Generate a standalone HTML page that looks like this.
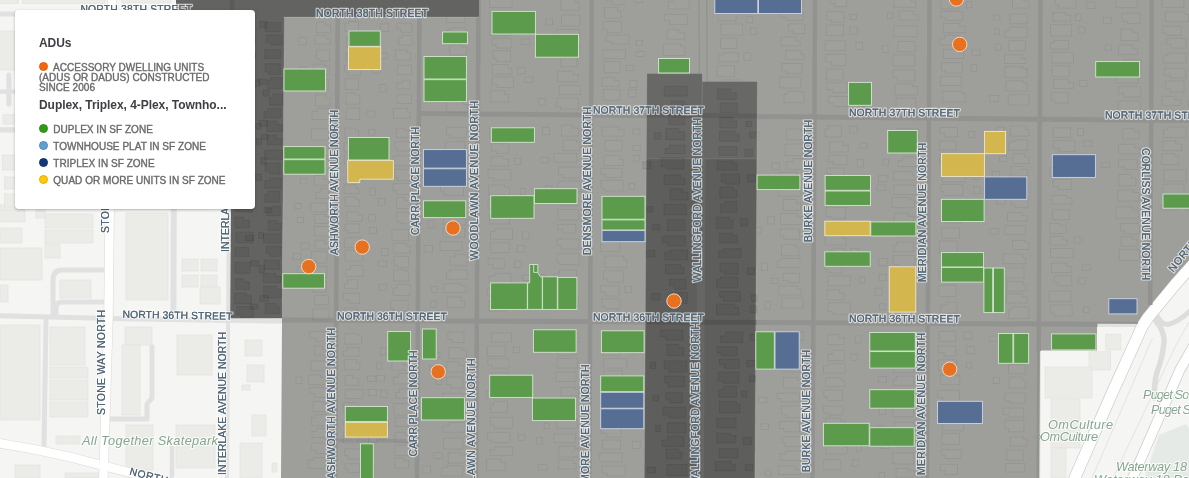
<!DOCTYPE html>
<html><head><meta charset="utf-8"><title>Map</title>
<style>
html,body{margin:0;padding:0;width:1189px;height:478px;overflow:hidden;background:#f5f5f3;font-family:"Liberation Sans",sans-serif;}
#map{position:absolute;left:0;top:0;width:1189px;height:478px;display:block}
#legend{position:absolute;left:15px;top:10px;width:239.5px;height:198.5px;background:#fff;border-radius:4px;box-shadow:0 1px 3px rgba(0,0,0,0.28);}
#legend .t{position:absolute;left:24px;font-size:12px;font-weight:bold;color:#3d3f45;white-space:nowrap;letter-spacing:-0.05px}
#legend .dot{position:absolute;width:9px;height:9px;border-radius:50%;left:24px;box-sizing:border-box}
#legend .l{position:absolute;left:38.3px;font-size:10px;font-weight:normal;line-height:10px;color:#6a6a6a;white-space:nowrap;letter-spacing:0.04px;-webkit-text-stroke:0.38px #6a6a6a}
</style></head><body>
<svg id="map" width="1189" height="478" viewBox="0 0 1189 478">
<rect width="1189" height="478" fill="#f5f5f3"/>
<g id="left">
<rect x="0.0" y="205.0" width="24.0" height="13.0" fill="#ebebe8" stroke="#e2e2df" stroke-width="0.7" />
<rect x="0.0" y="228.0" width="22.0" height="15.0" fill="#ebebe8" stroke="#e2e2df" stroke-width="0.7" />
<rect x="36.0" y="210.0" width="9.0" height="8.0" fill="#ebebe8" stroke="#e2e2df" stroke-width="0.7" />
<rect x="45.0" y="214.0" width="48.0" height="14.0" fill="#ebebe8" stroke="#e2e2df" stroke-width="0.7" />
<rect x="45.0" y="230.0" width="48.0" height="13.0" fill="#ebebe8" stroke="#e2e2df" stroke-width="0.7" />
<rect x="45.0" y="244.0" width="15.0" height="14.0" fill="#ebebe8" stroke="#e2e2df" stroke-width="0.7" />
<rect x="0.0" y="248.0" width="42.0" height="32.0" fill="#ebebe8" stroke="#e2e2df" stroke-width="0.7" />
<rect x="0.0" y="285.0" width="8.0" height="17.0" fill="#ebebe8" stroke="#e2e2df" stroke-width="0.7" />
<rect x="60.0" y="280.0" width="31.0" height="18.0" fill="#ebebe8" stroke="#e2e2df" stroke-width="0.7" />
<rect x="126.0" y="213.0" width="42.0" height="87.0" fill="#ebebe8" stroke="#e2e2df" stroke-width="0.7" />
<rect x="182.0" y="259.0" width="16.0" height="12.0" fill="#ebebe8" stroke="#e2e2df" stroke-width="0.7" />
<rect x="201.0" y="259.0" width="16.0" height="12.0" fill="#ebebe8" stroke="#e2e2df" stroke-width="0.7" />
<rect x="182.0" y="275.0" width="16.0" height="12.0" fill="#ebebe8" stroke="#e2e2df" stroke-width="0.7" />
<rect x="201.0" y="275.0" width="16.0" height="12.0" fill="#ebebe8" stroke="#e2e2df" stroke-width="0.7" />
<rect x="200.0" y="287.0" width="20.0" height="17.0" fill="#ebebe8" stroke="#e2e2df" stroke-width="0.7" />
<rect x="0.0" y="325.0" width="40.0" height="95.0" fill="#ebebe8" stroke="#e2e2df" stroke-width="0.7" />
<rect x="50.0" y="327.0" width="35.0" height="38.0" fill="#ebebe8" stroke="#e2e2df" stroke-width="0.7" />
<rect x="50.0" y="367.0" width="38.0" height="11.0" fill="#ebebe8" stroke="#e2e2df" stroke-width="0.7" />
<rect x="50.0" y="380.0" width="38.0" height="20.0" fill="#ebebe8" stroke="#e2e2df" stroke-width="0.7" />
<rect x="50.0" y="402.0" width="38.0" height="15.0" fill="#ebebe8" stroke="#e2e2df" stroke-width="0.7" />
<rect x="125.0" y="327.0" width="27.0" height="18.0" fill="#ebebe8" stroke="#e2e2df" stroke-width="0.7" />
<rect x="122.0" y="345.0" width="18.0" height="70.0" fill="#ebebe8" stroke="#e2e2df" stroke-width="0.7" />
<rect x="177.0" y="335.0" width="35.0" height="40.0" fill="#ebebe8" stroke="#e2e2df" stroke-width="0.7" />
<rect x="245.0" y="340.0" width="17.0" height="16.0" fill="#ebebe8" stroke="#e2e2df" stroke-width="0.7" />
<rect x="247.0" y="365.0" width="17.0" height="17.0" fill="#ebebe8" stroke="#e2e2df" stroke-width="0.7" />
<rect x="242.0" y="385.0" width="8.0" height="5.0" fill="#ebebe8" stroke="#e2e2df" stroke-width="0.7" />
<rect x="252.0" y="415.0" width="14.0" height="21.0" fill="#ebebe8" stroke="#e2e2df" stroke-width="0.7" />
<rect x="240.0" y="443.0" width="22.0" height="35.0" fill="#ebebe8" stroke="#e2e2df" stroke-width="0.7" />
<rect x="272.0" y="463.0" width="5.0" height="9.0" fill="#ebebe8" stroke="#e2e2df" stroke-width="0.7" />
<rect x="126.0" y="425.0" width="27.0" height="45.0" fill="#ebebe8" stroke="#e2e2df" stroke-width="0.7" />
<rect x="176.0" y="425.0" width="39.0" height="43.0" fill="#ebebe8" stroke="#e2e2df" stroke-width="0.7" />
<rect x="56.0" y="436.0" width="24.0" height="8.0" fill="#ebebe8" stroke="#e2e2df" stroke-width="0.7" />
<rect x="15.0" y="465.0" width="25.0" height="13.0" fill="#ebebe8" stroke="#e2e2df" stroke-width="0.7" />
<rect x="65.0" y="473.0" width="35.0" height="5.0" fill="#ebebe8" stroke="#e2e2df" stroke-width="0.7" />
<rect x="-2.0" y="-2.0" width="20.5" height="5.5" fill="#ebebe8" stroke="#e2e2df" stroke-width="0.7" />
<rect x="22.7" y="-2.0" width="82.3" height="5.5" fill="#ebebe8" stroke="#e2e2df" stroke-width="0.7" />
<rect x="122.0" y="-2.0" width="49.0" height="5.0" fill="#ebebe8" stroke="#e2e2df" stroke-width="0.7" />
<rect x="-2.0" y="31.0" width="17.0" height="39.0" fill="#ebebe8" stroke="#e2e2df" stroke-width="0.7" />
<rect x="3.0" y="114.7" width="13.0" height="9.3" fill="#ebebe8" stroke="#e2e2df" stroke-width="0.7" />
<rect x="2.5" y="155.0" width="13.5" height="15.0" fill="#ebebe8" stroke="#e2e2df" stroke-width="0.7" />
<rect x="4.6" y="177.0" width="11.4" height="12.0" fill="#ebebe8" stroke="#e2e2df" stroke-width="0.7" />
<rect x="4.6" y="194.0" width="11.4" height="13.0" fill="#ebebe8" stroke="#e2e2df" stroke-width="0.7" />
<rect x="-2.0" y="210.0" width="27.0" height="12.0" fill="#ebebe8" stroke="#e2e2df" stroke-width="0.7" />
<g fill="none" stroke="#e1e1e1" stroke-width="5" stroke-linecap="round" stroke-linejoin="round">
<path d="M0,315.7 L121,318.8 L290,321.2"/>
<path d="M173.8,200 L173.4,312" stroke-width="6"/>
<path d="M229,200 L227,478" stroke-width="4"/>
<path d="M103,270 L62,270 Q53,270 53,280 L53,316"/>
<path d="M103,302 L62,302 Q56,302 56,308 L56,316"/>
<path d="M46,319 L44,447" />
<path d="M152,347 L152,398 L147,404 L147,419 L110,419" stroke-width="5"/>
<path d="M172,446.5 L172,480" stroke-width="4.5"/>
<path d="M-3,13.9 L176,13.9"/>
<path d="M8.9,75 L8.9,104" stroke-width="5.2"/>
<path d="M-3,91.7 L16,91.7" stroke-width="4.2"/>
<path d="M-3,129.9 L16,129.9" stroke-width="5.2"/>
</g>
<g fill="none" stroke="#dcdcda"><path d="M112.2,-2 L109.7,200 L108.5,316 L104,460 L103.3,480" stroke-width="9.7"/><path d="M-5,442.6 L35,449.5 L70,457 L130,472.7 L185,487" stroke-width="9.8"/></g>
<g fill="none" stroke="#ffffff" stroke-width="9">
<path d="M112.2,-2 L109.7,200 L108.5,316 L104,460 L103.3,480" stroke-width="8.5"/>
<path d="M-5,442.6 L35,449.5 L70,457 L130,472.7 L185,487" stroke-width="8.6"/>
</g>
</g>
<g id="right">
<rect x="1105.7" y="334.2" width="15.1" height="15.8" fill="#ebebe8" stroke="#e2e2df" stroke-width="0.7" />
<rect x="1089.0" y="351.8" width="21.7" height="18.2" fill="#ebebe8" stroke="#e2e2df" stroke-width="0.7" />
<rect x="1045.0" y="367.0" width="47.0" height="31.0" fill="#ebebe8" stroke="#e2e2df" stroke-width="0.7" />
<rect x="1051.0" y="399.0" width="29.0" height="49.0" fill="#ebebe8" stroke="#e2e2df" stroke-width="0.7" />
<rect x="1051.0" y="448.0" width="15.0" height="30.0" fill="#ebebe8" stroke="#e2e2df" stroke-width="0.7" />
<path d="M1159,435 L1186,424 L1189,428 L1189,478 L1144,478 Z" fill="#e6eae6"/>
<path d="M1090,324.3 L1140,324.6" stroke="#e1e1e1" stroke-width="5" fill="none"/>
<path d="M1038.8,345 L1038,478" stroke="#e1e1e1" stroke-width="4.5" fill="none"/>
<g fill="none" stroke="#dddddb" stroke-width="5" stroke-linecap="round" stroke-linejoin="round">
<path d="M1157,316 Q1162,325 1168,324.5 Q1178,322 1190,311"/>
<path d="M1156,321 Q1165,332 1164,343 Q1162,360 1157,372 Q1154,382 1154.5,398" stroke-width="5.5"/>
</g>
<g fill="none" stroke="#dededc" stroke-width="0.8">
<path d="M1152.5,338 L1092,478 M1189,322 L1176,345 L1113,478"/>
</g>
<g fill="none" stroke="#cfcfcd" stroke-linejoin="round"><path d="M1197,260 L1193.6,263.8 L1176.6,282.8 L1158.9,304.2 L1147.6,318 L1142.2,326.5 L1112.6,391.9 L1073.9,479.9" stroke-width="12.4"/><path d="M1197,340 L1179.8,370 L1132.4,478.5" stroke-width="10.8"/></g>
<g fill="none" stroke="#ffffff" stroke-linejoin="round"><path d="M1197,260 L1193.6,263.8 L1176.6,282.8 L1158.9,304.2 L1147.6,318 L1142.2,326.5 L1112.6,391.9 L1073.9,479.9" stroke-width="10.9"/><path d="M1197,340 L1179.8,370 L1132.4,478.5" stroke-width="9.3"/></g>
</g>
<path d="M284,17 L479,17 L479,0 L1189,0 L1189,260 L1172,279 L1154.3,300.4 L1143,314.2 L1137,323.5 L1097,323.5 L1097,350.5 L1040,350.5 L1039.3,478 L281,478 Z" fill="#9e9e9b"/>
<g stroke="#929290" stroke-width="4.5" fill="none">
<path d="M337.7,17 L335.3,478"/>
<path d="M419.4,17 L417.0,478"/>
<path d="M478.5,0 L476.0,478"/>
<path d="M591.8,0 L589.3,478"/>
<path d="M815.0,0 L812.5,478"/>
<path d="M929.5,0 L927.0,478"/>
<path d="M1040.5,0 L1038.7,351"/>
<path d="M1151.8,0 L1150.2,305"/>
<path d="M418,113.5 L1189,120.5" stroke-width="5"/>
<path d="M282,320 L1097.5,324.3" stroke-width="5"/>
<path d="M1097,322.6 L1138,322.8" stroke-width="1.8"/>
<path d="M1038.3,350 L1037.7,478" stroke-width="2.4"/>
<path d="M335.5,440.6 L417.2,441.1" stroke-width="3.5"/>
<path d="M699,0 L699.3,74 M706.8,0 L707.1,82" stroke-width="0.8" stroke="rgba(0,0,0,0.13)"/>
</g>
<g id="houses">
<path d="M316.7,22.3 h9.1 v2.7 h4.6 v7.7 h-13.8 Z" fill="rgba(255,255,255,0.012)" stroke="rgba(0,0,0,0.065)" stroke-width="0.8" stroke-linejoin="round"/>
<path d="M315.2,35.4 h10.9 v3.7 h4.3 v5.1 h-15.2 Z" fill="rgba(255,255,255,0.012)" stroke="rgba(0,0,0,0.065)" stroke-width="0.8" stroke-linejoin="round"/>
<rect x="299.0" y="37.4" width="7.2" height="7.4" fill="rgba(255,255,255,0.012)" stroke="rgba(0,0,0,0.065)" stroke-width="0.8"/>
<path d="M316.5,50.0 h13.2 v11.1 h-9.8 v-2.2 h-3.4 Z" fill="rgba(255,255,255,0.012)" stroke="rgba(0,0,0,0.065)" stroke-width="0.8" stroke-linejoin="round"/>
<path d="M313.5,64.2 h11.3 v2.1 h4.6 v8.3 h-15.9 Z" fill="rgba(255,255,255,0.012)" stroke="rgba(0,0,0,0.065)" stroke-width="0.8" stroke-linejoin="round"/>
<rect x="298.9" y="67.1" width="7.4" height="6.1" fill="rgba(255,255,255,0.012)" stroke="rgba(0,0,0,0.065)" stroke-width="0.8"/>
<path d="M313.8,78.7 h14.5 v10.9 h-10.8 v-3.1 h-3.7 Z" fill="rgba(255,255,255,0.012)" stroke="rgba(0,0,0,0.065)" stroke-width="0.8" stroke-linejoin="round"/>
<path d="M315.5,94.7 h10.2 v3.5 h4.3 v7.9 h-14.4 Z" fill="rgba(255,255,255,0.012)" stroke="rgba(0,0,0,0.065)" stroke-width="0.8" stroke-linejoin="round"/>
<path d="M317.8,108.7 h10.7 v10.8 h-16.3 v-8.2 h5.6 Z" fill="rgba(255,255,255,0.012)" stroke="rgba(0,0,0,0.065)" stroke-width="0.8" stroke-linejoin="round"/>
<path d="M311.5,128.8 h17.2 v11.3 h-17.2 Z" fill="rgba(255,255,255,0.012)" stroke="rgba(0,0,0,0.065)" stroke-width="0.8" stroke-linejoin="round"/>
<path d="M311.8,146.1 h17.1 v9.4 h-12.1 v-2.0 h-5.0 Z" fill="rgba(255,255,255,0.012)" stroke="rgba(0,0,0,0.065)" stroke-width="0.8" stroke-linejoin="round"/>
<rect x="296.0" y="146.8" width="5.4" height="5.1" fill="rgba(255,255,255,0.012)" stroke="rgba(0,0,0,0.065)" stroke-width="0.8"/>
<path d="M314.8,158.9 h15.0 v11.1 h-15.0 Z" fill="rgba(255,255,255,0.012)" stroke="rgba(0,0,0,0.065)" stroke-width="0.8" stroke-linejoin="round"/>
<path d="M314.4,175.5 h8.7 v3.9 h5.7 v5.8 h-14.4 Z" fill="rgba(255,255,255,0.012)" stroke="rgba(0,0,0,0.065)" stroke-width="0.8" stroke-linejoin="round"/>
<rect x="300.2" y="178.4" width="5.8" height="5.6" fill="rgba(255,255,255,0.012)" stroke="rgba(0,0,0,0.065)" stroke-width="0.8"/>
<path d="M320.4,188.7 h8.3 v9.8 h-13.0 v-5.9 h4.7 Z" fill="rgba(255,255,255,0.012)" stroke="rgba(0,0,0,0.065)" stroke-width="0.8" stroke-linejoin="round"/>
<path d="M310.7,203.1 h16.4 v8.7 h-16.4 Z" fill="rgba(255,255,255,0.012)" stroke="rgba(0,0,0,0.065)" stroke-width="0.8" stroke-linejoin="round"/>
<rect x="294.8" y="203.4" width="6.4" height="5.3" fill="rgba(255,255,255,0.012)" stroke="rgba(0,0,0,0.065)" stroke-width="0.8"/>
<path d="M314.6,214.5 h10.9 v2.0 h3.2 v7.0 h-14.0 Z" fill="rgba(255,255,255,0.012)" stroke="rgba(0,0,0,0.065)" stroke-width="0.8" stroke-linejoin="round"/>
<rect x="297.2" y="217.5" width="6.3" height="5.1" fill="rgba(255,255,255,0.012)" stroke="rgba(0,0,0,0.065)" stroke-width="0.8"/>
<path d="M314.3,226.5 h14.3 v9.5 h-14.3 Z" fill="rgba(255,255,255,0.012)" stroke="rgba(0,0,0,0.065)" stroke-width="0.8" stroke-linejoin="round"/>
<path d="M315.1,240.2 h9.6 v3.7 h3.8 v5.1 h-13.4 Z" fill="rgba(255,255,255,0.012)" stroke="rgba(0,0,0,0.065)" stroke-width="0.8" stroke-linejoin="round"/>
<rect x="300.8" y="242.9" width="8.3" height="6.3" fill="rgba(255,255,255,0.012)" stroke="rgba(0,0,0,0.065)" stroke-width="0.8"/>
<path d="M311.3,251.6 h15.6 v11.4 h-10.6 v-2.5 h-5.1 Z" fill="rgba(255,255,255,0.012)" stroke="rgba(0,0,0,0.065)" stroke-width="0.8" stroke-linejoin="round"/>
<rect x="293.1" y="253.3" width="7.7" height="6.3" fill="rgba(255,255,255,0.012)" stroke="rgba(0,0,0,0.065)" stroke-width="0.8"/>
<path d="M309.8,266.3 h17.1 v11.5 h-17.1 Z" fill="rgba(255,255,255,0.012)" stroke="rgba(0,0,0,0.065)" stroke-width="0.8" stroke-linejoin="round"/>
<rect x="297.8" y="266.5" width="6.8" height="5.9" fill="rgba(255,255,255,0.012)" stroke="rgba(0,0,0,0.065)" stroke-width="0.8"/>
<path d="M312.2,281.3 h14.3 v10.6 h-14.3 Z" fill="rgba(255,255,255,0.012)" stroke="rgba(0,0,0,0.065)" stroke-width="0.8" stroke-linejoin="round"/>
<path d="M314.6,295.6 h14.1 v9.2 h-14.1 Z" fill="rgba(255,255,255,0.012)" stroke="rgba(0,0,0,0.065)" stroke-width="0.8" stroke-linejoin="round"/>
<path d="M312.7,309.0 h16.3 v10.9 h-16.3 Z" fill="rgba(255,255,255,0.012)" stroke="rgba(0,0,0,0.065)" stroke-width="0.8" stroke-linejoin="round"/>
<path d="M309.7,331.7 h16.9 v9.5 h-11.0 v-2.8 h-5.9 Z" fill="rgba(255,255,255,0.012)" stroke="rgba(0,0,0,0.065)" stroke-width="0.8" stroke-linejoin="round"/>
<path d="M314.7,346.2 h8.1 v3.6 h5.7 v5.3 h-13.9 Z" fill="rgba(255,255,255,0.012)" stroke="rgba(0,0,0,0.065)" stroke-width="0.8" stroke-linejoin="round"/>
<path d="M311.0,361.1 h16.3 v9.6 h-16.3 Z" fill="rgba(255,255,255,0.012)" stroke="rgba(0,0,0,0.065)" stroke-width="0.8" stroke-linejoin="round"/>
<path d="M308.6,375.0 h12.2 v2.4 h5.5 v7.4 h-17.7 Z" fill="rgba(255,255,255,0.012)" stroke="rgba(0,0,0,0.065)" stroke-width="0.8" stroke-linejoin="round"/>
<rect x="295.9" y="377.0" width="5.8" height="6.5" fill="rgba(255,255,255,0.012)" stroke="rgba(0,0,0,0.065)" stroke-width="0.8"/>
<path d="M309.9,387.7 h17.6 v9.6 h-12.8 v-3.8 h-4.8 Z" fill="rgba(255,255,255,0.012)" stroke="rgba(0,0,0,0.065)" stroke-width="0.8" stroke-linejoin="round"/>
<path d="M313.0,401.5 h11.3 v2.4 h4.3 v7.7 h-15.7 Z" fill="rgba(255,255,255,0.012)" stroke="rgba(0,0,0,0.065)" stroke-width="0.8" stroke-linejoin="round"/>
<path d="M315.6,414.7 h11.4 v10.7 h-15.4 v-7.6 h4.0 Z" fill="rgba(255,255,255,0.012)" stroke="rgba(0,0,0,0.065)" stroke-width="0.8" stroke-linejoin="round"/>
<path d="M317.3,428.3 h10.5 v9.2 h-15.8 v-6.2 h5.3 Z" fill="rgba(255,255,255,0.012)" stroke="rgba(0,0,0,0.065)" stroke-width="0.8" stroke-linejoin="round"/>
<path d="M311.8,443.2 h15.2 v10.3 h-10.7 v-3.4 h-4.5 Z" fill="rgba(255,255,255,0.012)" stroke="rgba(0,0,0,0.065)" stroke-width="0.8" stroke-linejoin="round"/>
<path d="M313.9,457.7 h11.9 v10.6 h-17.7 v-8.1 h5.8 Z" fill="rgba(255,255,255,0.012)" stroke="rgba(0,0,0,0.065)" stroke-width="0.8" stroke-linejoin="round"/>
<path d="M348.6,21.5 h9.9 v9.8 h-13.6 v-7.7 h3.7 Z" fill="rgba(255,255,255,0.012)" stroke="rgba(0,0,0,0.065)" stroke-width="0.8" stroke-linejoin="round"/>
<path d="M346.6,37.0 h13.8 v10.6 h-13.8 Z" fill="rgba(255,255,255,0.012)" stroke="rgba(0,0,0,0.065)" stroke-width="0.8" stroke-linejoin="round"/>
<rect x="368.8" y="42.0" width="8.3" height="6.0" fill="rgba(255,255,255,0.012)" stroke="rgba(0,0,0,0.065)" stroke-width="0.8"/>
<path d="M346.1,53.1 h13.8 v9.8 h-9.8 v-2.4 h-4.0 Z" fill="rgba(255,255,255,0.012)" stroke="rgba(0,0,0,0.065)" stroke-width="0.8" stroke-linejoin="round"/>
<path d="M344.5,65.4 h15.8 v9.8 h-11.8 v-3.2 h-4.0 Z" fill="rgba(255,255,255,0.012)" stroke="rgba(0,0,0,0.065)" stroke-width="0.8" stroke-linejoin="round"/>
<rect x="372.1" y="66.0" width="8.4" height="7.0" fill="rgba(255,255,255,0.012)" stroke="rgba(0,0,0,0.065)" stroke-width="0.8"/>
<path d="M345.2,78.7 h13.2 v10.8 h-13.2 Z" fill="rgba(255,255,255,0.012)" stroke="rgba(0,0,0,0.065)" stroke-width="0.8" stroke-linejoin="round"/>
<path d="M346.0,92.9 h8.6 v2.2 h5.1 v9.1 h-13.7 Z" fill="rgba(255,255,255,0.012)" stroke="rgba(0,0,0,0.065)" stroke-width="0.8" stroke-linejoin="round"/>
<path d="M346.2,108.2 h13.4 v11.3 h-13.4 Z" fill="rgba(255,255,255,0.012)" stroke="rgba(0,0,0,0.065)" stroke-width="0.8" stroke-linejoin="round"/>
<rect x="366.9" y="110.9" width="8.0" height="6.1" fill="rgba(255,255,255,0.012)" stroke="rgba(0,0,0,0.065)" stroke-width="0.8"/>
<path d="M344.9,128.1 h10.3 v2.3 h3.3 v7.8 h-13.6 Z" fill="rgba(255,255,255,0.012)" stroke="rgba(0,0,0,0.065)" stroke-width="0.8" stroke-linejoin="round"/>
<rect x="368.8" y="129.5" width="6.1" height="5.8" fill="rgba(255,255,255,0.012)" stroke="rgba(0,0,0,0.065)" stroke-width="0.8"/>
<path d="M344.1,142.4 h13.9 v9.5 h-13.9 Z" fill="rgba(255,255,255,0.012)" stroke="rgba(0,0,0,0.065)" stroke-width="0.8" stroke-linejoin="round"/>
<path d="M344.3,155.1 h15.4 v11.3 h-9.9 v-2.9 h-5.5 Z" fill="rgba(255,255,255,0.012)" stroke="rgba(0,0,0,0.065)" stroke-width="0.8" stroke-linejoin="round"/>
<path d="M346.9,170.3 h15.5 v10.6 h-15.5 Z" fill="rgba(255,255,255,0.012)" stroke="rgba(0,0,0,0.065)" stroke-width="0.8" stroke-linejoin="round"/>
<path d="M344.2,184.8 h11.5 v3.5 h3.2 v5.2 h-14.7 Z" fill="rgba(255,255,255,0.012)" stroke="rgba(0,0,0,0.065)" stroke-width="0.8" stroke-linejoin="round"/>
<rect x="370.1" y="188.1" width="5.3" height="7.1" fill="rgba(255,255,255,0.012)" stroke="rgba(0,0,0,0.065)" stroke-width="0.8"/>
<path d="M345.2,196.9 h10.7 v2.9 h3.5 v6.5 h-14.2 Z" fill="rgba(255,255,255,0.012)" stroke="rgba(0,0,0,0.065)" stroke-width="0.8" stroke-linejoin="round"/>
<path d="M346.6,212.2 h11.8 v2.7 h3.9 v6.5 h-15.7 Z" fill="rgba(255,255,255,0.012)" stroke="rgba(0,0,0,0.065)" stroke-width="0.8" stroke-linejoin="round"/>
<rect x="368.8" y="214.7" width="6.7" height="6.3" fill="rgba(255,255,255,0.012)" stroke="rgba(0,0,0,0.065)" stroke-width="0.8"/>
<path d="M344.9,223.9 h14.3 v8.8 h-11.2 v-2.0 h-3.1 Z" fill="rgba(255,255,255,0.012)" stroke="rgba(0,0,0,0.065)" stroke-width="0.8" stroke-linejoin="round"/>
<rect x="369.4" y="227.2" width="7.0" height="6.3" fill="rgba(255,255,255,0.012)" stroke="rgba(0,0,0,0.065)" stroke-width="0.8"/>
<path d="M344.6,237.7 h17.4 v9.7 h-17.4 Z" fill="rgba(255,255,255,0.012)" stroke="rgba(0,0,0,0.065)" stroke-width="0.8" stroke-linejoin="round"/>
<path d="M345.4,250.0 h12.0 v3.6 h5.2 v7.6 h-17.2 Z" fill="rgba(255,255,255,0.012)" stroke="rgba(0,0,0,0.065)" stroke-width="0.8" stroke-linejoin="round"/>
<path d="M350.7,265.5 h12.4 v10.9 h-17.2 v-7.1 h4.8 Z" fill="rgba(255,255,255,0.012)" stroke="rgba(0,0,0,0.065)" stroke-width="0.8" stroke-linejoin="round"/>
<path d="M347.8,279.7 h9.8 v8.9 h-13.2 v-5.2 h3.3 Z" fill="rgba(255,255,255,0.012)" stroke="rgba(0,0,0,0.065)" stroke-width="0.8" stroke-linejoin="round"/>
<path d="M343.3,293.3 h16.4 v10.0 h-11.0 v-3.5 h-5.4 Z" fill="rgba(255,255,255,0.012)" stroke="rgba(0,0,0,0.065)" stroke-width="0.8" stroke-linejoin="round"/>
<path d="M344.0,308.1 h13.3 v10.7 h-13.3 Z" fill="rgba(255,255,255,0.012)" stroke="rgba(0,0,0,0.065)" stroke-width="0.8" stroke-linejoin="round"/>
<rect x="365.8" y="310.0" width="7.6" height="7.4" fill="rgba(255,255,255,0.012)" stroke="rgba(0,0,0,0.065)" stroke-width="0.8"/>
<path d="M345.0,333.7 h13.6 v2.3 h3.2 v8.1 h-16.8 Z" fill="rgba(255,255,255,0.012)" stroke="rgba(0,0,0,0.065)" stroke-width="0.8" stroke-linejoin="round"/>
<path d="M347.0,347.7 h12.0 v8.5 h-15.8 v-5.2 h3.8 Z" fill="rgba(255,255,255,0.012)" stroke="rgba(0,0,0,0.065)" stroke-width="0.8" stroke-linejoin="round"/>
<path d="M344.3,359.7 h12.2 v3.8 h3.4 v6.1 h-15.6 Z" fill="rgba(255,255,255,0.012)" stroke="rgba(0,0,0,0.065)" stroke-width="0.8" stroke-linejoin="round"/>
<path d="M345.3,375.4 h7.2 v2.9 h5.9 v7.0 h-13.1 Z" fill="rgba(255,255,255,0.012)" stroke="rgba(0,0,0,0.065)" stroke-width="0.8" stroke-linejoin="round"/>
<rect x="367.5" y="376.1" width="8.3" height="5.5" fill="rgba(255,255,255,0.012)" stroke="rgba(0,0,0,0.065)" stroke-width="0.8"/>
<path d="M345.3,389.6 h17.8 v8.9 h-17.8 Z" fill="rgba(255,255,255,0.012)" stroke="rgba(0,0,0,0.065)" stroke-width="0.8" stroke-linejoin="round"/>
<rect x="368.2" y="389.6" width="8.1" height="6.2" fill="rgba(255,255,255,0.012)" stroke="rgba(0,0,0,0.065)" stroke-width="0.8"/>
<path d="M343.1,402.7 h15.3 v9.4 h-15.3 Z" fill="rgba(255,255,255,0.012)" stroke="rgba(0,0,0,0.065)" stroke-width="0.8" stroke-linejoin="round"/>
<rect x="364.2" y="407.3" width="7.6" height="7.1" fill="rgba(255,255,255,0.012)" stroke="rgba(0,0,0,0.065)" stroke-width="0.8"/>
<path d="M347.9,417.1 h13.3 v9.4 h-17.5 v-5.4 h4.2 Z" fill="rgba(255,255,255,0.012)" stroke="rgba(0,0,0,0.065)" stroke-width="0.8" stroke-linejoin="round"/>
<rect x="366.6" y="417.6" width="6.5" height="5.7" fill="rgba(255,255,255,0.012)" stroke="rgba(0,0,0,0.065)" stroke-width="0.8"/>
<path d="M343.3,431.9 h10.6 v3.0 h3.8 v8.3 h-14.4 Z" fill="rgba(255,255,255,0.012)" stroke="rgba(0,0,0,0.065)" stroke-width="0.8" stroke-linejoin="round"/>
<rect x="368.4" y="435.1" width="8.3" height="7.2" fill="rgba(255,255,255,0.012)" stroke="rgba(0,0,0,0.065)" stroke-width="0.8"/>
<path d="M344.6,448.9 h17.7 v10.1 h-14.6 v-3.5 h-3.1 Z" fill="rgba(255,255,255,0.012)" stroke="rgba(0,0,0,0.065)" stroke-width="0.8" stroke-linejoin="round"/>
<path d="M345.2,463.8 h14.4 v8.6 h-11.0 v-2.9 h-3.4 Z" fill="rgba(255,255,255,0.012)" stroke="rgba(0,0,0,0.065)" stroke-width="0.8" stroke-linejoin="round"/>
<rect x="366.4" y="467.1" width="7.6" height="7.4" fill="rgba(255,255,255,0.012)" stroke="rgba(0,0,0,0.065)" stroke-width="0.8"/>
<path d="M396.9,23.2 h15.0 v9.0 h-11.3 v-3.8 h-3.6 Z" fill="rgba(255,255,255,0.012)" stroke="rgba(0,0,0,0.065)" stroke-width="0.8" stroke-linejoin="round"/>
<rect x="380.6" y="23.9" width="8.2" height="7.5" fill="rgba(255,255,255,0.012)" stroke="rgba(0,0,0,0.065)" stroke-width="0.8"/>
<path d="M402.3,35.4 h9.7 v9.5 h-13.5 v-7.0 h3.7 Z" fill="rgba(255,255,255,0.012)" stroke="rgba(0,0,0,0.065)" stroke-width="0.8" stroke-linejoin="round"/>
<path d="M395.6,50.1 h10.9 v2.7 h4.1 v7.1 h-15.1 Z" fill="rgba(255,255,255,0.012)" stroke="rgba(0,0,0,0.065)" stroke-width="0.8" stroke-linejoin="round"/>
<rect x="378.7" y="53.2" width="8.4" height="5.3" fill="rgba(255,255,255,0.012)" stroke="rgba(0,0,0,0.065)" stroke-width="0.8"/>
<path d="M397.4,65.3 h14.1 v9.3 h-14.1 Z" fill="rgba(255,255,255,0.012)" stroke="rgba(0,0,0,0.065)" stroke-width="0.8" stroke-linejoin="round"/>
<path d="M402.6,80.2 h7.4 v8.6 h-13.1 v-5.7 h5.7 Z" fill="rgba(255,255,255,0.012)" stroke="rgba(0,0,0,0.065)" stroke-width="0.8" stroke-linejoin="round"/>
<rect x="379.7" y="84.5" width="6.4" height="7.3" fill="rgba(255,255,255,0.012)" stroke="rgba(0,0,0,0.065)" stroke-width="0.8"/>
<path d="M397.3,94.7 h14.2 v8.8 h-14.2 Z" fill="rgba(255,255,255,0.012)" stroke="rgba(0,0,0,0.065)" stroke-width="0.8" stroke-linejoin="round"/>
<path d="M393.5,108.3 h13.7 v3.6 h3.1 v6.3 h-16.8 Z" fill="rgba(255,255,255,0.012)" stroke="rgba(0,0,0,0.065)" stroke-width="0.8" stroke-linejoin="round"/>
<path d="M396.3,128.2 h8.5 v2.2 h5.1 v7.0 h-13.6 Z" fill="rgba(255,255,255,0.012)" stroke="rgba(0,0,0,0.065)" stroke-width="0.8" stroke-linejoin="round"/>
<path d="M395.0,142.0 h14.9 v9.2 h-11.9 v-2.6 h-3.0 Z" fill="rgba(255,255,255,0.012)" stroke="rgba(0,0,0,0.065)" stroke-width="0.8" stroke-linejoin="round"/>
<path d="M393.6,155.9 h17.4 v9.9 h-17.4 Z" fill="rgba(255,255,255,0.012)" stroke="rgba(0,0,0,0.065)" stroke-width="0.8" stroke-linejoin="round"/>
<rect x="378.8" y="158.0" width="5.1" height="6.2" fill="rgba(255,255,255,0.012)" stroke="rgba(0,0,0,0.065)" stroke-width="0.8"/>
<path d="M394.6,169.3 h16.3 v11.3 h-13.2 v-2.7 h-3.1 Z" fill="rgba(255,255,255,0.012)" stroke="rgba(0,0,0,0.065)" stroke-width="0.8" stroke-linejoin="round"/>
<path d="M393.1,183.7 h17.0 v10.7 h-13.4 v-3.9 h-3.6 Z" fill="rgba(255,255,255,0.012)" stroke="rgba(0,0,0,0.065)" stroke-width="0.8" stroke-linejoin="round"/>
<path d="M396.5,197.8 h8.3 v3.0 h5.9 v7.8 h-14.1 Z" fill="rgba(255,255,255,0.012)" stroke="rgba(0,0,0,0.065)" stroke-width="0.8" stroke-linejoin="round"/>
<rect x="378.4" y="198.5" width="6.5" height="6.7" fill="rgba(255,255,255,0.012)" stroke="rgba(0,0,0,0.065)" stroke-width="0.8"/>
<path d="M396.9,212.4 h14.1 v11.4 h-10.9 v-2.1 h-3.2 Z" fill="rgba(255,255,255,0.012)" stroke="rgba(0,0,0,0.065)" stroke-width="0.8" stroke-linejoin="round"/>
<path d="M391.9,229.4 h16.7 v11.5 h-16.7 Z" fill="rgba(255,255,255,0.012)" stroke="rgba(0,0,0,0.065)" stroke-width="0.8" stroke-linejoin="round"/>
<path d="M393.8,243.5 h12.3 v2.3 h4.0 v7.3 h-16.3 Z" fill="rgba(255,255,255,0.012)" stroke="rgba(0,0,0,0.065)" stroke-width="0.8" stroke-linejoin="round"/>
<rect x="381.7" y="248.4" width="6.2" height="7.4" fill="rgba(255,255,255,0.012)" stroke="rgba(0,0,0,0.065)" stroke-width="0.8"/>
<path d="M393.9,256.4 h14.8 v11.0 h-10.5 v-2.1 h-4.3 Z" fill="rgba(255,255,255,0.012)" stroke="rgba(0,0,0,0.065)" stroke-width="0.8" stroke-linejoin="round"/>
<rect x="378.2" y="260.9" width="8.2" height="5.5" fill="rgba(255,255,255,0.012)" stroke="rgba(0,0,0,0.065)" stroke-width="0.8"/>
<path d="M393.8,270.0 h11.9 v2.1 h3.1 v8.9 h-15.1 Z" fill="rgba(255,255,255,0.012)" stroke="rgba(0,0,0,0.065)" stroke-width="0.8" stroke-linejoin="round"/>
<path d="M397.1,284.3 h12.9 v11.2 h-16.7 v-7.3 h3.8 Z" fill="rgba(255,255,255,0.012)" stroke="rgba(0,0,0,0.065)" stroke-width="0.8" stroke-linejoin="round"/>
<rect x="378.9" y="284.3" width="7.5" height="5.8" fill="rgba(255,255,255,0.012)" stroke="rgba(0,0,0,0.065)" stroke-width="0.8"/>
<path d="M390.5,300.6 h17.6 v10.4 h-14.5 v-2.5 h-3.1 Z" fill="rgba(255,255,255,0.012)" stroke="rgba(0,0,0,0.065)" stroke-width="0.8" stroke-linejoin="round"/>
<path d="M395.1,332.5 h14.3 v9.8 h-14.3 Z" fill="rgba(255,255,255,0.012)" stroke="rgba(0,0,0,0.065)" stroke-width="0.8" stroke-linejoin="round"/>
<path d="M392.9,347.7 h16.9 v10.3 h-16.9 Z" fill="rgba(255,255,255,0.012)" stroke="rgba(0,0,0,0.065)" stroke-width="0.8" stroke-linejoin="round"/>
<rect x="380.4" y="348.0" width="5.7" height="6.9" fill="rgba(255,255,255,0.012)" stroke="rgba(0,0,0,0.065)" stroke-width="0.8"/>
<path d="M391.9,360.7 h10.1 v4.0 h5.7 v5.5 h-15.8 Z" fill="rgba(255,255,255,0.012)" stroke="rgba(0,0,0,0.065)" stroke-width="0.8" stroke-linejoin="round"/>
<rect x="376.6" y="362.9" width="5.3" height="6.2" fill="rgba(255,255,255,0.012)" stroke="rgba(0,0,0,0.065)" stroke-width="0.8"/>
<path d="M398.7,373.5 h9.8 v10.4 h-15.1 v-6.7 h5.2 Z" fill="rgba(255,255,255,0.012)" stroke="rgba(0,0,0,0.065)" stroke-width="0.8" stroke-linejoin="round"/>
<rect x="376.6" y="375.3" width="7.9" height="5.7" fill="rgba(255,255,255,0.012)" stroke="rgba(0,0,0,0.065)" stroke-width="0.8"/>
<path d="M399.2,388.9 h10.5 v9.2 h-14.0 v-5.5 h3.5 Z" fill="rgba(255,255,255,0.012)" stroke="rgba(0,0,0,0.065)" stroke-width="0.8" stroke-linejoin="round"/>
<rect x="380.8" y="390.1" width="6.4" height="7.5" fill="rgba(255,255,255,0.012)" stroke="rgba(0,0,0,0.065)" stroke-width="0.8"/>
<path d="M393.8,403.5 h16.3 v11.5 h-16.3 Z" fill="rgba(255,255,255,0.012)" stroke="rgba(0,0,0,0.065)" stroke-width="0.8" stroke-linejoin="round"/>
<path d="M395.3,417.6 h14.5 v8.9 h-14.5 Z" fill="rgba(255,255,255,0.012)" stroke="rgba(0,0,0,0.065)" stroke-width="0.8" stroke-linejoin="round"/>
<rect x="380.5" y="421.5" width="8.0" height="6.1" fill="rgba(255,255,255,0.012)" stroke="rgba(0,0,0,0.065)" stroke-width="0.8"/>
<path d="M394.9,432.3 h9.9 v2.7 h3.7 v7.6 h-13.5 Z" fill="rgba(255,255,255,0.012)" stroke="rgba(0,0,0,0.065)" stroke-width="0.8" stroke-linejoin="round"/>
<rect x="379.4" y="433.3" width="5.9" height="6.5" fill="rgba(255,255,255,0.012)" stroke="rgba(0,0,0,0.065)" stroke-width="0.8"/>
<path d="M395.0,445.1 h14.6 v10.5 h-14.6 Z" fill="rgba(255,255,255,0.012)" stroke="rgba(0,0,0,0.065)" stroke-width="0.8" stroke-linejoin="round"/>
<path d="M395.0,458.3 h8.6 v2.2 h4.9 v7.5 h-13.5 Z" fill="rgba(255,255,255,0.012)" stroke="rgba(0,0,0,0.065)" stroke-width="0.8" stroke-linejoin="round"/>
<path d="M448.8,-3.9 h18.2 v11.4 h-13.5 v-2.7 h-4.7 Z" fill="rgba(255,255,255,0.012)" stroke="rgba(0,0,0,0.065)" stroke-width="0.8" stroke-linejoin="round"/>
<path d="M446.3,13.5 h18.5 v9.1 h-18.5 Z" fill="rgba(255,255,255,0.012)" stroke="rgba(0,0,0,0.065)" stroke-width="0.8" stroke-linejoin="round"/>
<path d="M450.7,27.9 h15.4 v11.1 h-18.8 v-9.1 h3.5 Z" fill="rgba(255,255,255,0.012)" stroke="rgba(0,0,0,0.065)" stroke-width="0.8" stroke-linejoin="round"/>
<path d="M449.8,44.8 h12.1 v2.3 h4.5 v8.1 h-16.6 Z" fill="rgba(255,255,255,0.012)" stroke="rgba(0,0,0,0.065)" stroke-width="0.8" stroke-linejoin="round"/>
<path d="M447.4,60.9 h10.9 v2.4 h5.9 v7.6 h-16.8 Z" fill="rgba(255,255,255,0.012)" stroke="rgba(0,0,0,0.065)" stroke-width="0.8" stroke-linejoin="round"/>
<path d="M448.3,76.8 h15.2 v8.7 h-19.4 v-4.9 h4.2 Z" fill="rgba(255,255,255,0.012)" stroke="rgba(0,0,0,0.065)" stroke-width="0.8" stroke-linejoin="round"/>
<path d="M444.5,88.5 h16.0 v3.7 h5.5 v5.5 h-21.5 Z" fill="rgba(255,255,255,0.012)" stroke="rgba(0,0,0,0.065)" stroke-width="0.8" stroke-linejoin="round"/>
<rect x="430.5" y="89.1" width="6.4" height="6.3" fill="rgba(255,255,255,0.012)" stroke="rgba(0,0,0,0.065)" stroke-width="0.8"/>
<path d="M446.7,101.0 h16.4 v3.5 h4.7 v7.7 h-21.1 Z" fill="rgba(255,255,255,0.012)" stroke="rgba(0,0,0,0.065)" stroke-width="0.8" stroke-linejoin="round"/>
<path d="M446.5,127.4 h19.9 v10.4 h-15.6 v-3.2 h-4.3 Z" fill="rgba(255,255,255,0.012)" stroke="rgba(0,0,0,0.065)" stroke-width="0.8" stroke-linejoin="round"/>
<path d="M445.6,141.8 h19.1 v8.6 h-19.1 Z" fill="rgba(255,255,255,0.012)" stroke="rgba(0,0,0,0.065)" stroke-width="0.8" stroke-linejoin="round"/>
<path d="M449.9,154.5 h13.9 v2.9 h3.4 v7.1 h-17.3 Z" fill="rgba(255,255,255,0.012)" stroke="rgba(0,0,0,0.065)" stroke-width="0.8" stroke-linejoin="round"/>
<path d="M450.9,168.7 h16.3 v10.4 h-11.1 v-3.6 h-5.2 Z" fill="rgba(255,255,255,0.012)" stroke="rgba(0,0,0,0.065)" stroke-width="0.8" stroke-linejoin="round"/>
<rect x="432.5" y="169.4" width="6.8" height="5.9" fill="rgba(255,255,255,0.012)" stroke="rgba(0,0,0,0.065)" stroke-width="0.8"/>
<path d="M440.5,184.6 h23.0 v10.7 h-19.4 v-4.0 h-3.6 Z" fill="rgba(255,255,255,0.012)" stroke="rgba(0,0,0,0.065)" stroke-width="0.8" stroke-linejoin="round"/>
<path d="M445.7,201.0 h17.2 v10.9 h-17.2 Z" fill="rgba(255,255,255,0.012)" stroke="rgba(0,0,0,0.065)" stroke-width="0.8" stroke-linejoin="round"/>
<rect x="426.8" y="201.8" width="8.1" height="5.7" fill="rgba(255,255,255,0.012)" stroke="rgba(0,0,0,0.065)" stroke-width="0.8"/>
<path d="M443.6,216.2 h17.9 v2.6 h4.5 v6.5 h-22.4 Z" fill="rgba(255,255,255,0.012)" stroke="rgba(0,0,0,0.065)" stroke-width="0.8" stroke-linejoin="round"/>
<rect x="428.3" y="220.6" width="5.6" height="7.3" fill="rgba(255,255,255,0.012)" stroke="rgba(0,0,0,0.065)" stroke-width="0.8"/>
<path d="M443.2,228.4 h21.5 v8.8 h-21.5 Z" fill="rgba(255,255,255,0.012)" stroke="rgba(0,0,0,0.065)" stroke-width="0.8" stroke-linejoin="round"/>
<path d="M440.1,241.7 h22.2 v8.8 h-22.2 Z" fill="rgba(255,255,255,0.012)" stroke="rgba(0,0,0,0.065)" stroke-width="0.8" stroke-linejoin="round"/>
<rect x="424.1" y="245.6" width="8.5" height="6.4" fill="rgba(255,255,255,0.012)" stroke="rgba(0,0,0,0.065)" stroke-width="0.8"/>
<path d="M455.2,254.6 h11.8 v10.7 h-17.2 v-8.2 h5.5 Z" fill="rgba(255,255,255,0.012)" stroke="rgba(0,0,0,0.065)" stroke-width="0.8" stroke-linejoin="round"/>
<path d="M449.6,269.9 h17.5 v9.4 h-20.6 v-7.1 h3.1 Z" fill="rgba(255,255,255,0.012)" stroke="rgba(0,0,0,0.065)" stroke-width="0.8" stroke-linejoin="round"/>
<path d="M443.6,283.6 h17.3 v2.0 h5.0 v6.9 h-22.3 Z" fill="rgba(255,255,255,0.012)" stroke="rgba(0,0,0,0.065)" stroke-width="0.8" stroke-linejoin="round"/>
<rect x="431.7" y="286.5" width="5.4" height="5.9" fill="rgba(255,255,255,0.012)" stroke="rgba(0,0,0,0.065)" stroke-width="0.8"/>
<path d="M447.2,297.1 h14.0 v3.9 h3.4 v6.5 h-17.4 Z" fill="rgba(255,255,255,0.012)" stroke="rgba(0,0,0,0.065)" stroke-width="0.8" stroke-linejoin="round"/>
<rect x="430.7" y="301.0" width="5.3" height="6.6" fill="rgba(255,255,255,0.012)" stroke="rgba(0,0,0,0.065)" stroke-width="0.8"/>
<path d="M447.9,332.1 h16.1 v10.4 h-12.0 v-3.3 h-4.1 Z" fill="rgba(255,255,255,0.012)" stroke="rgba(0,0,0,0.065)" stroke-width="0.8" stroke-linejoin="round"/>
<path d="M448.8,347.6 h13.1 v2.8 h4.6 v8.4 h-17.7 Z" fill="rgba(255,255,255,0.012)" stroke="rgba(0,0,0,0.065)" stroke-width="0.8" stroke-linejoin="round"/>
<rect x="432.2" y="352.3" width="7.7" height="5.0" fill="rgba(255,255,255,0.012)" stroke="rgba(0,0,0,0.065)" stroke-width="0.8"/>
<path d="M446.7,361.8 h12.5 v3.6 h4.9 v6.7 h-17.4 Z" fill="rgba(255,255,255,0.012)" stroke="rgba(0,0,0,0.065)" stroke-width="0.8" stroke-linejoin="round"/>
<rect x="429.4" y="365.7" width="6.1" height="5.1" fill="rgba(255,255,255,0.012)" stroke="rgba(0,0,0,0.065)" stroke-width="0.8"/>
<path d="M446.8,377.1 h16.0 v11.0 h-11.6 v-3.5 h-4.4 Z" fill="rgba(255,255,255,0.012)" stroke="rgba(0,0,0,0.065)" stroke-width="0.8" stroke-linejoin="round"/>
<rect x="436.1" y="378.8" width="5.4" height="5.6" fill="rgba(255,255,255,0.012)" stroke="rgba(0,0,0,0.065)" stroke-width="0.8"/>
<path d="M442.1,393.3 h20.9 v11.0 h-17.1 v-3.1 h-3.8 Z" fill="rgba(255,255,255,0.012)" stroke="rgba(0,0,0,0.065)" stroke-width="0.8" stroke-linejoin="round"/>
<path d="M443.7,408.6 h14.2 v3.8 h3.7 v6.7 h-17.9 Z" fill="rgba(255,255,255,0.012)" stroke="rgba(0,0,0,0.065)" stroke-width="0.8" stroke-linejoin="round"/>
<rect x="426.3" y="412.4" width="5.8" height="6.9" fill="rgba(255,255,255,0.012)" stroke="rgba(0,0,0,0.065)" stroke-width="0.8"/>
<path d="M448.7,422.7 h16.4 v9.5 h-22.2 v-6.2 h5.7 Z" fill="rgba(255,255,255,0.012)" stroke="rgba(0,0,0,0.065)" stroke-width="0.8" stroke-linejoin="round"/>
<path d="M443.5,438.1 h19.3 v11.0 h-19.3 Z" fill="rgba(255,255,255,0.012)" stroke="rgba(0,0,0,0.065)" stroke-width="0.8" stroke-linejoin="round"/>
<path d="M448.3,452.7 h11.8 v2.3 h5.7 v8.1 h-17.5 Z" fill="rgba(255,255,255,0.012)" stroke="rgba(0,0,0,0.065)" stroke-width="0.8" stroke-linejoin="round"/>
<rect x="434.0" y="452.8" width="8.3" height="5.9" fill="rgba(255,255,255,0.012)" stroke="rgba(0,0,0,0.065)" stroke-width="0.8"/>
<path d="M447.0,465.7 h15.6 v10.4 h-20.8 v-8.3 h5.2 Z" fill="rgba(255,255,255,0.012)" stroke="rgba(0,0,0,0.065)" stroke-width="0.8" stroke-linejoin="round"/>
<rect x="422.7" y="466.0" width="7.9" height="7.0" fill="rgba(255,255,255,0.012)" stroke="rgba(0,0,0,0.065)" stroke-width="0.8"/>
<path d="M489.6,-1.3 h22.6 v8.8 h-22.6 Z" fill="rgba(255,255,255,0.012)" stroke="rgba(0,0,0,0.065)" stroke-width="0.8" stroke-linejoin="round"/>
<path d="M489.9,12.2 h21.8 v10.4 h-21.8 Z" fill="rgba(255,255,255,0.012)" stroke="rgba(0,0,0,0.065)" stroke-width="0.8" stroke-linejoin="round"/>
<rect x="516.8" y="13.5" width="6.1" height="6.1" fill="rgba(255,255,255,0.012)" stroke="rgba(0,0,0,0.065)" stroke-width="0.8"/>
<path d="M490.0,26.1 h21.0 v9.6 h-21.0 Z" fill="rgba(255,255,255,0.012)" stroke="rgba(0,0,0,0.065)" stroke-width="0.8" stroke-linejoin="round"/>
<path d="M492.2,38.3 h18.9 v9.8 h-14.9 v-3.4 h-4.0 Z" fill="rgba(255,255,255,0.012)" stroke="rgba(0,0,0,0.065)" stroke-width="0.8" stroke-linejoin="round"/>
<rect x="521.8" y="39.1" width="8.0" height="5.2" fill="rgba(255,255,255,0.012)" stroke="rgba(0,0,0,0.065)" stroke-width="0.8"/>
<path d="M493.1,50.6 h17.4 v10.8 h-14.4 v-3.0 h-3.0 Z" fill="rgba(255,255,255,0.012)" stroke="rgba(0,0,0,0.065)" stroke-width="0.8" stroke-linejoin="round"/>
<path d="M492.3,64.5 h15.7 v3.9 h3.8 v5.7 h-19.5 Z" fill="rgba(255,255,255,0.012)" stroke="rgba(0,0,0,0.065)" stroke-width="0.8" stroke-linejoin="round"/>
<rect x="517.6" y="67.7" width="7.4" height="6.2" fill="rgba(255,255,255,0.012)" stroke="rgba(0,0,0,0.065)" stroke-width="0.8"/>
<path d="M492.1,76.9 h21.5 v10.6 h-16.6 v-2.7 h-4.9 Z" fill="rgba(255,255,255,0.012)" stroke="rgba(0,0,0,0.065)" stroke-width="0.8" stroke-linejoin="round"/>
<rect x="524.8" y="77.0" width="8.1" height="5.2" fill="rgba(255,255,255,0.012)" stroke="rgba(0,0,0,0.065)" stroke-width="0.8"/>
<path d="M490.6,90.7 h13.7 v3.8 h4.1 v7.4 h-17.8 Z" fill="rgba(255,255,255,0.012)" stroke="rgba(0,0,0,0.065)" stroke-width="0.8" stroke-linejoin="round"/>
<path d="M489.6,128.0 h21.3 v10.4 h-21.3 Z" fill="rgba(255,255,255,0.012)" stroke="rgba(0,0,0,0.065)" stroke-width="0.8" stroke-linejoin="round"/>
<path d="M491.6,143.6 h17.2 v9.8 h-12.4 v-2.3 h-4.7 Z" fill="rgba(255,255,255,0.012)" stroke="rgba(0,0,0,0.065)" stroke-width="0.8" stroke-linejoin="round"/>
<path d="M491.2,156.7 h11.8 v2.3 h5.5 v7.1 h-17.3 Z" fill="rgba(255,255,255,0.012)" stroke="rgba(0,0,0,0.065)" stroke-width="0.8" stroke-linejoin="round"/>
<rect x="514.7" y="158.3" width="6.1" height="6.3" fill="rgba(255,255,255,0.012)" stroke="rgba(0,0,0,0.065)" stroke-width="0.8"/>
<path d="M488.1,169.3 h22.8 v10.7 h-16.9 v-2.2 h-5.9 Z" fill="rgba(255,255,255,0.012)" stroke="rgba(0,0,0,0.065)" stroke-width="0.8" stroke-linejoin="round"/>
<path d="M488.5,185.2 h16.2 v2.2 h4.9 v7.6 h-21.1 Z" fill="rgba(255,255,255,0.012)" stroke="rgba(0,0,0,0.065)" stroke-width="0.8" stroke-linejoin="round"/>
<rect x="520.2" y="188.7" width="5.1" height="6.0" fill="rgba(255,255,255,0.012)" stroke="rgba(0,0,0,0.065)" stroke-width="0.8"/>
<path d="M488.2,199.3 h20.4 v9.9 h-20.4 Z" fill="rgba(255,255,255,0.012)" stroke="rgba(0,0,0,0.065)" stroke-width="0.8" stroke-linejoin="round"/>
<path d="M489.5,213.2 h20.0 v10.7 h-20.0 Z" fill="rgba(255,255,255,0.012)" stroke="rgba(0,0,0,0.065)" stroke-width="0.8" stroke-linejoin="round"/>
<path d="M494.9,228.9 h17.6 v10.5 h-22.0 v-7.9 h4.4 Z" fill="rgba(255,255,255,0.012)" stroke="rgba(0,0,0,0.065)" stroke-width="0.8" stroke-linejoin="round"/>
<rect x="522.5" y="232.0" width="6.5" height="7.0" fill="rgba(255,255,255,0.012)" stroke="rgba(0,0,0,0.065)" stroke-width="0.8"/>
<path d="M490.4,242.8 h19.0 v9.9 h-19.0 Z" fill="rgba(255,255,255,0.012)" stroke="rgba(0,0,0,0.065)" stroke-width="0.8" stroke-linejoin="round"/>
<rect x="517.1" y="245.3" width="7.3" height="6.9" fill="rgba(255,255,255,0.012)" stroke="rgba(0,0,0,0.065)" stroke-width="0.8"/>
<path d="M488.0,258.6 h16.3 v10.1 h-10.9 v-3.9 h-5.3 Z" fill="rgba(255,255,255,0.012)" stroke="rgba(0,0,0,0.065)" stroke-width="0.8" stroke-linejoin="round"/>
<rect x="514.3" y="261.1" width="7.0" height="6.4" fill="rgba(255,255,255,0.012)" stroke="rgba(0,0,0,0.065)" stroke-width="0.8"/>
<path d="M495.0,273.4 h16.0 v10.1 h-21.8 v-7.6 h5.8 Z" fill="rgba(255,255,255,0.012)" stroke="rgba(0,0,0,0.065)" stroke-width="0.8" stroke-linejoin="round"/>
<rect x="522.8" y="275.2" width="7.7" height="5.3" fill="rgba(255,255,255,0.012)" stroke="rgba(0,0,0,0.065)" stroke-width="0.8"/>
<path d="M491.4,286.2 h13.7 v9.7 h-17.9 v-6.9 h4.3 Z" fill="rgba(255,255,255,0.012)" stroke="rgba(0,0,0,0.065)" stroke-width="0.8" stroke-linejoin="round"/>
<rect x="515.2" y="290.9" width="5.9" height="5.6" fill="rgba(255,255,255,0.012)" stroke="rgba(0,0,0,0.065)" stroke-width="0.8"/>
<path d="M488.9,300.3 h17.5 v10.9 h-17.5 Z" fill="rgba(255,255,255,0.012)" stroke="rgba(0,0,0,0.065)" stroke-width="0.8" stroke-linejoin="round"/>
<path d="M491.6,332.9 h19.9 v9.2 h-19.9 Z" fill="rgba(255,255,255,0.012)" stroke="rgba(0,0,0,0.065)" stroke-width="0.8" stroke-linejoin="round"/>
<path d="M487.3,346.2 h18.1 v10.1 h-18.1 Z" fill="rgba(255,255,255,0.012)" stroke="rgba(0,0,0,0.065)" stroke-width="0.8" stroke-linejoin="round"/>
<rect x="513.4" y="347.1" width="6.3" height="5.6" fill="rgba(255,255,255,0.012)" stroke="rgba(0,0,0,0.065)" stroke-width="0.8"/>
<path d="M487.9,358.8 h21.1 v9.3 h-17.1 v-3.0 h-3.9 Z" fill="rgba(255,255,255,0.012)" stroke="rgba(0,0,0,0.065)" stroke-width="0.8" stroke-linejoin="round"/>
<path d="M490.9,373.0 h18.5 v11.3 h-18.5 Z" fill="rgba(255,255,255,0.012)" stroke="rgba(0,0,0,0.065)" stroke-width="0.8" stroke-linejoin="round"/>
<path d="M489.6,387.3 h18.8 v10.4 h-21.8 v-6.5 h3.0 Z" fill="rgba(255,255,255,0.012)" stroke="rgba(0,0,0,0.065)" stroke-width="0.8" stroke-linejoin="round"/>
<rect x="515.0" y="391.2" width="5.4" height="5.4" fill="rgba(255,255,255,0.012)" stroke="rgba(0,0,0,0.065)" stroke-width="0.8"/>
<path d="M493.9,401.4 h13.6 v11.2 h-17.1 v-7.4 h3.5 Z" fill="rgba(255,255,255,0.012)" stroke="rgba(0,0,0,0.065)" stroke-width="0.8" stroke-linejoin="round"/>
<path d="M490.5,417.4 h22.3 v10.9 h-18.7 v-3.4 h-3.6 Z" fill="rgba(255,255,255,0.012)" stroke="rgba(0,0,0,0.065)" stroke-width="0.8" stroke-linejoin="round"/>
<path d="M487.6,432.3 h22.2 v10.2 h-18.5 v-2.3 h-3.7 Z" fill="rgba(255,255,255,0.012)" stroke="rgba(0,0,0,0.065)" stroke-width="0.8" stroke-linejoin="round"/>
<rect x="518.2" y="434.8" width="6.6" height="5.4" fill="rgba(255,255,255,0.012)" stroke="rgba(0,0,0,0.065)" stroke-width="0.8"/>
<path d="M494.8,446.9 h17.6 v8.5 h-22.0 v-5.4 h4.4 Z" fill="rgba(255,255,255,0.012)" stroke="rgba(0,0,0,0.065)" stroke-width="0.8" stroke-linejoin="round"/>
<path d="M486.5,459.2 h14.0 v3.3 h4.9 v8.1 h-18.9 Z" fill="rgba(255,255,255,0.012)" stroke="rgba(0,0,0,0.065)" stroke-width="0.8" stroke-linejoin="round"/>
<path d="M561.0,-1.3 h13.9 v3.8 h4.5 v7.7 h-18.3 Z" fill="rgba(255,255,255,0.012)" stroke="rgba(0,0,0,0.065)" stroke-width="0.8" stroke-linejoin="round"/>
<path d="M561.5,14.9 h18.4 v11.1 h-18.4 Z" fill="rgba(255,255,255,0.012)" stroke="rgba(0,0,0,0.065)" stroke-width="0.8" stroke-linejoin="round"/>
<rect x="546.1" y="19.0" width="6.5" height="6.1" fill="rgba(255,255,255,0.012)" stroke="rgba(0,0,0,0.065)" stroke-width="0.8"/>
<path d="M557.4,29.5 h21.8 v9.7 h-21.8 Z" fill="rgba(255,255,255,0.012)" stroke="rgba(0,0,0,0.065)" stroke-width="0.8" stroke-linejoin="round"/>
<path d="M561.8,44.5 h18.3 v9.5 h-18.3 Z" fill="rgba(255,255,255,0.012)" stroke="rgba(0,0,0,0.065)" stroke-width="0.8" stroke-linejoin="round"/>
<rect x="545.4" y="44.7" width="7.5" height="7.2" fill="rgba(255,255,255,0.012)" stroke="rgba(0,0,0,0.065)" stroke-width="0.8"/>
<path d="M560.9,57.5 h16.0 v9.1 h-16.0 Z" fill="rgba(255,255,255,0.012)" stroke="rgba(0,0,0,0.065)" stroke-width="0.8" stroke-linejoin="round"/>
<path d="M557.7,71.2 h15.5 v3.4 h4.8 v7.0 h-20.3 Z" fill="rgba(255,255,255,0.012)" stroke="rgba(0,0,0,0.065)" stroke-width="0.8" stroke-linejoin="round"/>
<path d="M559.1,85.6 h21.3 v8.8 h-21.3 Z" fill="rgba(255,255,255,0.012)" stroke="rgba(0,0,0,0.065)" stroke-width="0.8" stroke-linejoin="round"/>
<path d="M556.7,98.2 h21.8 v10.9 h-18.0 v-2.6 h-3.8 Z" fill="rgba(255,255,255,0.012)" stroke="rgba(0,0,0,0.065)" stroke-width="0.8" stroke-linejoin="round"/>
<rect x="538.7" y="98.5" width="6.5" height="6.6" fill="rgba(255,255,255,0.012)" stroke="rgba(0,0,0,0.065)" stroke-width="0.8"/>
<path d="M561.5,125.2 h11.1 v2.9 h5.8 v8.0 h-16.8 Z" fill="rgba(255,255,255,0.012)" stroke="rgba(0,0,0,0.065)" stroke-width="0.8" stroke-linejoin="round"/>
<rect x="542.5" y="127.5" width="7.1" height="7.3" fill="rgba(255,255,255,0.012)" stroke="rgba(0,0,0,0.065)" stroke-width="0.8"/>
<path d="M563.3,140.0 h13.3 v2.0 h3.5 v8.4 h-16.7 Z" fill="rgba(255,255,255,0.012)" stroke="rgba(0,0,0,0.065)" stroke-width="0.8" stroke-linejoin="round"/>
<path d="M553.9,153.4 h22.8 v8.8 h-22.8 Z" fill="rgba(255,255,255,0.012)" stroke="rgba(0,0,0,0.065)" stroke-width="0.8" stroke-linejoin="round"/>
<rect x="541.0" y="157.3" width="7.6" height="5.5" fill="rgba(255,255,255,0.012)" stroke="rgba(0,0,0,0.065)" stroke-width="0.8"/>
<path d="M558.5,167.2 h22.0 v10.7 h-17.1 v-3.4 h-4.9 Z" fill="rgba(255,255,255,0.012)" stroke="rgba(0,0,0,0.065)" stroke-width="0.8" stroke-linejoin="round"/>
<path d="M558.1,181.2 h22.8 v10.7 h-22.8 Z" fill="rgba(255,255,255,0.012)" stroke="rgba(0,0,0,0.065)" stroke-width="0.8" stroke-linejoin="round"/>
<rect x="545.8" y="185.5" width="6.1" height="6.8" fill="rgba(255,255,255,0.012)" stroke="rgba(0,0,0,0.065)" stroke-width="0.8"/>
<path d="M561.5,196.1 h12.1 v3.4 h4.3 v6.2 h-16.4 Z" fill="rgba(255,255,255,0.012)" stroke="rgba(0,0,0,0.065)" stroke-width="0.8" stroke-linejoin="round"/>
<path d="M558.1,209.5 h20.5 v10.4 h-20.5 Z" fill="rgba(255,255,255,0.012)" stroke="rgba(0,0,0,0.065)" stroke-width="0.8" stroke-linejoin="round"/>
<path d="M557.7,224.3 h18.0 v8.7 h-12.9 v-3.7 h-5.1 Z" fill="rgba(255,255,255,0.012)" stroke="rgba(0,0,0,0.065)" stroke-width="0.8" stroke-linejoin="round"/>
<path d="M557.2,238.9 h21.8 v10.3 h-17.5 v-3.8 h-4.3 Z" fill="rgba(255,255,255,0.012)" stroke="rgba(0,0,0,0.065)" stroke-width="0.8" stroke-linejoin="round"/>
<path d="M556.8,253.8 h22.3 v10.9 h-19.3 v-2.5 h-3.0 Z" fill="rgba(255,255,255,0.012)" stroke="rgba(0,0,0,0.065)" stroke-width="0.8" stroke-linejoin="round"/>
<path d="M559.5,270.1 h16.8 v8.6 h-22.2 v-4.9 h5.4 Z" fill="rgba(255,255,255,0.012)" stroke="rgba(0,0,0,0.065)" stroke-width="0.8" stroke-linejoin="round"/>
<rect x="536.3" y="274.7" width="8.0" height="7.0" fill="rgba(255,255,255,0.012)" stroke="rgba(0,0,0,0.065)" stroke-width="0.8"/>
<path d="M559.8,282.5 h16.6 v10.2 h-16.6 Z" fill="rgba(255,255,255,0.012)" stroke="rgba(0,0,0,0.065)" stroke-width="0.8" stroke-linejoin="round"/>
<rect x="544.4" y="283.5" width="7.1" height="6.7" fill="rgba(255,255,255,0.012)" stroke="rgba(0,0,0,0.065)" stroke-width="0.8"/>
<path d="M556.7,296.0 h21.3 v10.9 h-21.3 Z" fill="rgba(255,255,255,0.012)" stroke="rgba(0,0,0,0.065)" stroke-width="0.8" stroke-linejoin="round"/>
<rect x="538.5" y="298.6" width="7.0" height="7.2" fill="rgba(255,255,255,0.012)" stroke="rgba(0,0,0,0.065)" stroke-width="0.8"/>
<path d="M567.0,333.4 h12.2 v9.1 h-17.3 v-6.4 h5.1 Z" fill="rgba(255,255,255,0.012)" stroke="rgba(0,0,0,0.065)" stroke-width="0.8" stroke-linejoin="round"/>
<path d="M562.1,346.7 h12.9 v8.6 h-17.0 v-6.4 h4.1 Z" fill="rgba(255,255,255,0.012)" stroke="rgba(0,0,0,0.065)" stroke-width="0.8" stroke-linejoin="round"/>
<path d="M557.2,358.4 h20.2 v9.5 h-20.2 Z" fill="rgba(255,255,255,0.012)" stroke="rgba(0,0,0,0.065)" stroke-width="0.8" stroke-linejoin="round"/>
<path d="M556.0,372.2 h20.0 v9.3 h-20.0 Z" fill="rgba(255,255,255,0.012)" stroke="rgba(0,0,0,0.065)" stroke-width="0.8" stroke-linejoin="round"/>
<path d="M561.0,387.3 h14.2 v2.2 h3.5 v6.4 h-17.8 Z" fill="rgba(255,255,255,0.012)" stroke="rgba(0,0,0,0.065)" stroke-width="0.8" stroke-linejoin="round"/>
<path d="M556.0,401.5 h19.2 v11.3 h-16.0 v-3.2 h-3.2 Z" fill="rgba(255,255,255,0.012)" stroke="rgba(0,0,0,0.065)" stroke-width="0.8" stroke-linejoin="round"/>
<rect x="538.7" y="404.7" width="8.4" height="5.6" fill="rgba(255,255,255,0.012)" stroke="rgba(0,0,0,0.065)" stroke-width="0.8"/>
<path d="M556.7,418.7 h20.7 v9.7 h-20.7 Z" fill="rgba(255,255,255,0.012)" stroke="rgba(0,0,0,0.065)" stroke-width="0.8" stroke-linejoin="round"/>
<rect x="544.1" y="423.2" width="5.1" height="5.6" fill="rgba(255,255,255,0.012)" stroke="rgba(0,0,0,0.065)" stroke-width="0.8"/>
<path d="M553.8,434.0 h21.9 v8.6 h-21.9 Z" fill="rgba(255,255,255,0.012)" stroke="rgba(0,0,0,0.065)" stroke-width="0.8" stroke-linejoin="round"/>
<rect x="536.7" y="437.4" width="5.5" height="6.9" fill="rgba(255,255,255,0.012)" stroke="rgba(0,0,0,0.065)" stroke-width="0.8"/>
<path d="M558.8,446.2 h16.2 v2.5 h4.0 v8.3 h-20.1 Z" fill="rgba(255,255,255,0.012)" stroke="rgba(0,0,0,0.065)" stroke-width="0.8" stroke-linejoin="round"/>
<path d="M558.4,460.1 h14.6 v3.4 h3.0 v5.5 h-17.7 Z" fill="rgba(255,255,255,0.012)" stroke="rgba(0,0,0,0.065)" stroke-width="0.8" stroke-linejoin="round"/>
<rect x="538.6" y="464.4" width="8.2" height="5.6" fill="rgba(255,255,255,0.012)" stroke="rgba(0,0,0,0.065)" stroke-width="0.8"/>
<path d="M606.5,-4.4 h19.1 v8.8 h-13.6 v-3.3 h-5.5 Z" fill="rgba(255,255,255,0.012)" stroke="rgba(0,0,0,0.065)" stroke-width="0.8" stroke-linejoin="round"/>
<rect x="635.0" y="-3.7" width="7.9" height="6.2" fill="rgba(255,255,255,0.012)" stroke="rgba(0,0,0,0.065)" stroke-width="0.8"/>
<path d="M604.5,7.6 h13.0 v3.7 h3.4 v6.9 h-16.4 Z" fill="rgba(255,255,255,0.012)" stroke="rgba(0,0,0,0.065)" stroke-width="0.8" stroke-linejoin="round"/>
<path d="M603.4,21.3 h17.9 v11.0 h-14.4 v-3.0 h-3.5 Z" fill="rgba(255,255,255,0.012)" stroke="rgba(0,0,0,0.065)" stroke-width="0.8" stroke-linejoin="round"/>
<path d="M606.1,35.2 h22.9 v8.7 h-17.8 v-2.4 h-5.0 Z" fill="rgba(255,255,255,0.012)" stroke="rgba(0,0,0,0.065)" stroke-width="0.8" stroke-linejoin="round"/>
<rect x="636.5" y="40.2" width="5.9" height="5.5" fill="rgba(255,255,255,0.012)" stroke="rgba(0,0,0,0.065)" stroke-width="0.8"/>
<path d="M603.0,49.9 h22.5 v8.8 h-22.5 Z" fill="rgba(255,255,255,0.012)" stroke="rgba(0,0,0,0.065)" stroke-width="0.8" stroke-linejoin="round"/>
<rect x="636.1" y="51.6" width="8.4" height="5.0" fill="rgba(255,255,255,0.012)" stroke="rgba(0,0,0,0.065)" stroke-width="0.8"/>
<path d="M604.1,61.7 h16.0 v11.0 h-16.0 Z" fill="rgba(255,255,255,0.012)" stroke="rgba(0,0,0,0.065)" stroke-width="0.8" stroke-linejoin="round"/>
<rect x="626.4" y="65.5" width="7.0" height="5.3" fill="rgba(255,255,255,0.012)" stroke="rgba(0,0,0,0.065)" stroke-width="0.8"/>
<path d="M601.9,77.7 h12.6 v3.0 h4.8 v5.7 h-17.4 Z" fill="rgba(255,255,255,0.012)" stroke="rgba(0,0,0,0.065)" stroke-width="0.8" stroke-linejoin="round"/>
<rect x="629.9" y="80.6" width="7.1" height="6.8" fill="rgba(255,255,255,0.012)" stroke="rgba(0,0,0,0.065)" stroke-width="0.8"/>
<path d="M603.4,89.6 h16.5 v10.7 h-16.5 Z" fill="rgba(255,255,255,0.012)" stroke="rgba(0,0,0,0.065)" stroke-width="0.8" stroke-linejoin="round"/>
<rect x="628.3" y="89.7" width="7.9" height="7.2" fill="rgba(255,255,255,0.012)" stroke="rgba(0,0,0,0.065)" stroke-width="0.8"/>
<path d="M602.1,126.9 h16.6 v2.7 h5.5 v6.6 h-22.1 Z" fill="rgba(255,255,255,0.012)" stroke="rgba(0,0,0,0.065)" stroke-width="0.8" stroke-linejoin="round"/>
<rect x="632.8" y="129.1" width="7.1" height="5.0" fill="rgba(255,255,255,0.012)" stroke="rgba(0,0,0,0.065)" stroke-width="0.8"/>
<path d="M605.2,140.5 h16.8 v10.6 h-16.8 Z" fill="rgba(255,255,255,0.012)" stroke="rgba(0,0,0,0.065)" stroke-width="0.8" stroke-linejoin="round"/>
<rect x="633.1" y="145.3" width="7.6" height="5.2" fill="rgba(255,255,255,0.012)" stroke="rgba(0,0,0,0.065)" stroke-width="0.8"/>
<path d="M603.7,155.4 h16.5 v3.9 h3.1 v6.2 h-19.6 Z" fill="rgba(255,255,255,0.012)" stroke="rgba(0,0,0,0.065)" stroke-width="0.8" stroke-linejoin="round"/>
<rect x="634.0" y="155.5" width="5.4" height="5.6" fill="rgba(255,255,255,0.012)" stroke="rgba(0,0,0,0.065)" stroke-width="0.8"/>
<path d="M601.0,168.3 h20.9 v9.1 h-16.1 v-3.2 h-4.8 Z" fill="rgba(255,255,255,0.012)" stroke="rgba(0,0,0,0.065)" stroke-width="0.8" stroke-linejoin="round"/>
<path d="M601.1,180.3 h22.1 v10.7 h-18.7 v-3.0 h-3.4 Z" fill="rgba(255,255,255,0.012)" stroke="rgba(0,0,0,0.065)" stroke-width="0.8" stroke-linejoin="round"/>
<rect x="629.2" y="183.2" width="5.4" height="6.0" fill="rgba(255,255,255,0.012)" stroke="rgba(0,0,0,0.065)" stroke-width="0.8"/>
<path d="M604.5,196.4 h17.0 v10.2 h-17.0 Z" fill="rgba(255,255,255,0.012)" stroke="rgba(0,0,0,0.065)" stroke-width="0.8" stroke-linejoin="round"/>
<rect x="630.2" y="198.4" width="6.5" height="7.1" fill="rgba(255,255,255,0.012)" stroke="rgba(0,0,0,0.065)" stroke-width="0.8"/>
<path d="M601.9,212.4 h21.4 v9.5 h-21.4 Z" fill="rgba(255,255,255,0.012)" stroke="rgba(0,0,0,0.065)" stroke-width="0.8" stroke-linejoin="round"/>
<path d="M600.9,227.6 h21.7 v11.0 h-21.7 Z" fill="rgba(255,255,255,0.012)" stroke="rgba(0,0,0,0.065)" stroke-width="0.8" stroke-linejoin="round"/>
<rect x="630.2" y="230.3" width="6.5" height="6.6" fill="rgba(255,255,255,0.012)" stroke="rgba(0,0,0,0.065)" stroke-width="0.8"/>
<path d="M600.7,241.4 h19.0 v10.0 h-19.0 Z" fill="rgba(255,255,255,0.012)" stroke="rgba(0,0,0,0.065)" stroke-width="0.8" stroke-linejoin="round"/>
<path d="M604.9,256.2 h18.6 v3.3 h3.1 v7.9 h-21.7 Z" fill="rgba(255,255,255,0.012)" stroke="rgba(0,0,0,0.065)" stroke-width="0.8" stroke-linejoin="round"/>
<path d="M603.5,270.8 h19.8 v11.3 h-16.0 v-3.0 h-3.8 Z" fill="rgba(255,255,255,0.012)" stroke="rgba(0,0,0,0.065)" stroke-width="0.8" stroke-linejoin="round"/>
<path d="M600.9,285.6 h18.1 v10.4 h-13.4 v-3.9 h-4.8 Z" fill="rgba(255,255,255,0.012)" stroke="rgba(0,0,0,0.065)" stroke-width="0.8" stroke-linejoin="round"/>
<rect x="625.1" y="286.2" width="6.6" height="6.3" fill="rgba(255,255,255,0.012)" stroke="rgba(0,0,0,0.065)" stroke-width="0.8"/>
<path d="M601.7,299.0 h18.1 v9.7 h-14.3 v-2.2 h-3.7 Z" fill="rgba(255,255,255,0.012)" stroke="rgba(0,0,0,0.065)" stroke-width="0.8" stroke-linejoin="round"/>
<path d="M608.0,333.3 h16.2 v9.1 h-20.6 v-6.0 h4.4 Z" fill="rgba(255,255,255,0.012)" stroke="rgba(0,0,0,0.065)" stroke-width="0.8" stroke-linejoin="round"/>
<path d="M602.6,346.0 h13.5 v3.2 h4.1 v6.0 h-17.7 Z" fill="rgba(255,255,255,0.012)" stroke="rgba(0,0,0,0.065)" stroke-width="0.8" stroke-linejoin="round"/>
<rect x="629.2" y="348.4" width="8.0" height="5.6" fill="rgba(255,255,255,0.012)" stroke="rgba(0,0,0,0.065)" stroke-width="0.8"/>
<path d="M603.8,358.6 h22.9 v9.4 h-22.9 Z" fill="rgba(255,255,255,0.012)" stroke="rgba(0,0,0,0.065)" stroke-width="0.8" stroke-linejoin="round"/>
<path d="M603.6,370.7 h18.7 v9.8 h-18.7 Z" fill="rgba(255,255,255,0.012)" stroke="rgba(0,0,0,0.065)" stroke-width="0.8" stroke-linejoin="round"/>
<path d="M603.2,383.6 h18.4 v9.6 h-18.4 Z" fill="rgba(255,255,255,0.012)" stroke="rgba(0,0,0,0.065)" stroke-width="0.8" stroke-linejoin="round"/>
<path d="M602.1,398.2 h21.2 v10.8 h-21.2 Z" fill="rgba(255,255,255,0.012)" stroke="rgba(0,0,0,0.065)" stroke-width="0.8" stroke-linejoin="round"/>
<rect x="633.7" y="401.2" width="8.0" height="5.0" fill="rgba(255,255,255,0.012)" stroke="rgba(0,0,0,0.065)" stroke-width="0.8"/>
<path d="M607.1,413.3 h17.4 v10.2 h-22.7 v-6.5 h5.4 Z" fill="rgba(255,255,255,0.012)" stroke="rgba(0,0,0,0.065)" stroke-width="0.8" stroke-linejoin="round"/>
<rect x="634.6" y="414.7" width="6.6" height="6.1" fill="rgba(255,255,255,0.012)" stroke="rgba(0,0,0,0.065)" stroke-width="0.8"/>
<path d="M601.2,427.3 h19.9 v9.7 h-14.5 v-3.7 h-5.4 Z" fill="rgba(255,255,255,0.012)" stroke="rgba(0,0,0,0.065)" stroke-width="0.8" stroke-linejoin="round"/>
<path d="M602.4,440.1 h18.1 v8.9 h-18.1 Z" fill="rgba(255,255,255,0.012)" stroke="rgba(0,0,0,0.065)" stroke-width="0.8" stroke-linejoin="round"/>
<rect x="632.2" y="441.2" width="8.0" height="7.1" fill="rgba(255,255,255,0.012)" stroke="rgba(0,0,0,0.065)" stroke-width="0.8"/>
<path d="M599.7,453.1 h22.4 v8.5 h-22.4 Z" fill="rgba(255,255,255,0.012)" stroke="rgba(0,0,0,0.065)" stroke-width="0.8" stroke-linejoin="round"/>
<path d="M602.0,466.0 h23.0 v10.1 h-17.9 v-2.8 h-5.1 Z" fill="rgba(255,255,255,0.012)" stroke="rgba(0,0,0,0.065)" stroke-width="0.8" stroke-linejoin="round"/>
<path d="M672.4,-1.2 h16.6 v10.1 h-20.7 v-7.3 h4.1 Z" fill="rgba(255,255,255,0.012)" stroke="rgba(0,0,0,0.065)" stroke-width="0.8" stroke-linejoin="round"/>
<path d="M664.5,14.4 h22.8 v10.0 h-17.9 v-4.0 h-4.9 Z" fill="rgba(255,255,255,0.012)" stroke="rgba(0,0,0,0.065)" stroke-width="0.8" stroke-linejoin="round"/>
<path d="M667.3,29.8 h11.7 v3.0 h5.5 v6.4 h-17.2 Z" fill="rgba(255,255,255,0.012)" stroke="rgba(0,0,0,0.065)" stroke-width="0.8" stroke-linejoin="round"/>
<path d="M663.1,44.1 h17.5 v2.3 h4.3 v9.2 h-21.7 Z" fill="rgba(255,255,255,0.012)" stroke="rgba(0,0,0,0.065)" stroke-width="0.8" stroke-linejoin="round"/>
<path d="M668.7,59.9 h17.3 v9.0 h-17.3 Z" fill="rgba(255,255,255,0.012)" stroke="rgba(0,0,0,0.065)" stroke-width="0.8" stroke-linejoin="round"/>
<path d="M668.7,71.6 h18.9 v10.9 h-13.8 v-2.0 h-5.1 Z" fill="rgba(255,255,255,0.012)" stroke="rgba(0,0,0,0.065)" stroke-width="0.8" stroke-linejoin="round"/>
<path d="M670.6,87.0 h16.0 v9.1 h-20.7 v-6.6 h4.7 Z" fill="rgba(255,255,255,0.012)" stroke="rgba(0,0,0,0.065)" stroke-width="0.8" stroke-linejoin="round"/>
<path d="M668.4,102.1 h16.6 v3.5 h3.5 v6.2 h-20.0 Z" fill="rgba(255,255,255,0.012)" stroke="rgba(0,0,0,0.065)" stroke-width="0.8" stroke-linejoin="round"/>
<rect x="652.0" y="105.1" width="5.6" height="6.3" fill="rgba(255,255,255,0.012)" stroke="rgba(0,0,0,0.065)" stroke-width="0.8"/>
<path d="M671.2,125.2 h10.9 v2.7 h5.1 v8.1 h-16.1 Z" fill="rgba(255,255,255,0.012)" stroke="rgba(0,0,0,0.065)" stroke-width="0.8" stroke-linejoin="round"/>
<rect x="656.7" y="127.0" width="5.3" height="7.3" fill="rgba(255,255,255,0.012)" stroke="rgba(0,0,0,0.065)" stroke-width="0.8"/>
<path d="M665.6,140.1 h18.7 v8.7 h-14.0 v-3.9 h-4.7 Z" fill="rgba(255,255,255,0.012)" stroke="rgba(0,0,0,0.065)" stroke-width="0.8" stroke-linejoin="round"/>
<path d="M668.1,152.2 h16.3 v11.3 h-16.3 Z" fill="rgba(255,255,255,0.012)" stroke="rgba(0,0,0,0.065)" stroke-width="0.8" stroke-linejoin="round"/>
<rect x="652.6" y="156.9" width="7.1" height="7.4" fill="rgba(255,255,255,0.012)" stroke="rgba(0,0,0,0.065)" stroke-width="0.8"/>
<path d="M668.8,166.8 h18.7 v10.7 h-14.8 v-3.8 h-3.9 Z" fill="rgba(255,255,255,0.012)" stroke="rgba(0,0,0,0.065)" stroke-width="0.8" stroke-linejoin="round"/>
<path d="M676.3,180.8 h11.3 v9.6 h-17.2 v-7.0 h5.9 Z" fill="rgba(255,255,255,0.012)" stroke="rgba(0,0,0,0.065)" stroke-width="0.8" stroke-linejoin="round"/>
<rect x="655.7" y="181.1" width="6.9" height="6.0" fill="rgba(255,255,255,0.012)" stroke="rgba(0,0,0,0.065)" stroke-width="0.8"/>
<path d="M665.5,193.3 h18.2 v2.6 h3.6 v7.0 h-21.8 Z" fill="rgba(255,255,255,0.012)" stroke="rgba(0,0,0,0.065)" stroke-width="0.8" stroke-linejoin="round"/>
<rect x="652.1" y="196.9" width="7.3" height="5.9" fill="rgba(255,255,255,0.012)" stroke="rgba(0,0,0,0.065)" stroke-width="0.8"/>
<path d="M669.9,205.7 h17.9 v11.0 h-17.9 Z" fill="rgba(255,255,255,0.012)" stroke="rgba(0,0,0,0.065)" stroke-width="0.8" stroke-linejoin="round"/>
<rect x="656.1" y="210.5" width="6.2" height="6.8" fill="rgba(255,255,255,0.012)" stroke="rgba(0,0,0,0.065)" stroke-width="0.8"/>
<path d="M664.6,219.9 h22.7 v10.0 h-22.7 Z" fill="rgba(255,255,255,0.012)" stroke="rgba(0,0,0,0.065)" stroke-width="0.8" stroke-linejoin="round"/>
<rect x="648.9" y="221.2" width="8.1" height="6.5" fill="rgba(255,255,255,0.012)" stroke="rgba(0,0,0,0.065)" stroke-width="0.8"/>
<path d="M670.2,234.6 h12.9 v3.1 h4.5 v8.0 h-17.5 Z" fill="rgba(255,255,255,0.012)" stroke="rgba(0,0,0,0.065)" stroke-width="0.8" stroke-linejoin="round"/>
<path d="M666.1,249.5 h16.4 v2.2 h4.2 v8.0 h-20.6 Z" fill="rgba(255,255,255,0.012)" stroke="rgba(0,0,0,0.065)" stroke-width="0.8" stroke-linejoin="round"/>
<path d="M664.7,263.4 h16.6 v3.0 h4.1 v5.8 h-20.6 Z" fill="rgba(255,255,255,0.012)" stroke="rgba(0,0,0,0.065)" stroke-width="0.8" stroke-linejoin="round"/>
<rect x="652.7" y="267.0" width="6.1" height="5.6" fill="rgba(255,255,255,0.012)" stroke="rgba(0,0,0,0.065)" stroke-width="0.8"/>
<path d="M665.4,275.7 h13.2 v3.7 h5.6 v7.5 h-18.8 Z" fill="rgba(255,255,255,0.012)" stroke="rgba(0,0,0,0.065)" stroke-width="0.8" stroke-linejoin="round"/>
<rect x="650.6" y="277.4" width="5.1" height="6.7" fill="rgba(255,255,255,0.012)" stroke="rgba(0,0,0,0.065)" stroke-width="0.8"/>
<path d="M671.7,290.9 h15.1 v10.6 h-20.6 v-7.9 h5.5 Z" fill="rgba(255,255,255,0.012)" stroke="rgba(0,0,0,0.065)" stroke-width="0.8" stroke-linejoin="round"/>
<rect x="650.6" y="294.4" width="5.4" height="7.3" fill="rgba(255,255,255,0.012)" stroke="rgba(0,0,0,0.065)" stroke-width="0.8"/>
<path d="M670.7,304.1 h12.4 v2.8 h3.9 v6.2 h-16.3 Z" fill="rgba(255,255,255,0.012)" stroke="rgba(0,0,0,0.065)" stroke-width="0.8" stroke-linejoin="round"/>
<rect x="652.6" y="306.9" width="7.2" height="5.4" fill="rgba(255,255,255,0.012)" stroke="rgba(0,0,0,0.065)" stroke-width="0.8"/>
<path d="M667.0,332.0 h19.0 v10.6 h-19.0 Z" fill="rgba(255,255,255,0.012)" stroke="rgba(0,0,0,0.065)" stroke-width="0.8" stroke-linejoin="round"/>
<rect x="652.6" y="332.3" width="5.2" height="7.1" fill="rgba(255,255,255,0.012)" stroke="rgba(0,0,0,0.065)" stroke-width="0.8"/>
<path d="M669.9,345.9 h11.0 v3.5 h5.7 v7.4 h-16.8 Z" fill="rgba(255,255,255,0.012)" stroke="rgba(0,0,0,0.065)" stroke-width="0.8" stroke-linejoin="round"/>
<path d="M665.0,360.7 h21.2 v11.0 h-18.0 v-3.9 h-3.3 Z" fill="rgba(255,255,255,0.012)" stroke="rgba(0,0,0,0.065)" stroke-width="0.8" stroke-linejoin="round"/>
<path d="M667.6,376.6 h16.8 v11.0 h-21.2 v-8.9 h4.4 Z" fill="rgba(255,255,255,0.012)" stroke="rgba(0,0,0,0.065)" stroke-width="0.8" stroke-linejoin="round"/>
<path d="M661.2,391.9 h22.5 v8.9 h-22.5 Z" fill="rgba(255,255,255,0.012)" stroke="rgba(0,0,0,0.065)" stroke-width="0.8" stroke-linejoin="round"/>
<rect x="644.8" y="394.6" width="6.9" height="7.4" fill="rgba(255,255,255,0.012)" stroke="rgba(0,0,0,0.065)" stroke-width="0.8"/>
<path d="M668.9,404.1 h12.8 v2.6 h3.6 v7.0 h-16.4 Z" fill="rgba(255,255,255,0.012)" stroke="rgba(0,0,0,0.065)" stroke-width="0.8" stroke-linejoin="round"/>
<path d="M667.1,418.5 h17.7 v9.2 h-13.3 v-3.9 h-4.3 Z" fill="rgba(255,255,255,0.012)" stroke="rgba(0,0,0,0.065)" stroke-width="0.8" stroke-linejoin="round"/>
<rect x="650.1" y="420.2" width="8.1" height="5.4" fill="rgba(255,255,255,0.012)" stroke="rgba(0,0,0,0.065)" stroke-width="0.8"/>
<path d="M666.6,433.1 h19.8 v10.8 h-14.8 v-3.2 h-5.0 Z" fill="rgba(255,255,255,0.012)" stroke="rgba(0,0,0,0.065)" stroke-width="0.8" stroke-linejoin="round"/>
<path d="M668.6,449.3 h13.2 v2.1 h3.6 v7.2 h-16.8 Z" fill="rgba(255,255,255,0.012)" stroke="rgba(0,0,0,0.065)" stroke-width="0.8" stroke-linejoin="round"/>
<rect x="655.3" y="450.9" width="7.5" height="6.1" fill="rgba(255,255,255,0.012)" stroke="rgba(0,0,0,0.065)" stroke-width="0.8"/>
<path d="M668.2,462.8 h18.5 v9.0 h-18.5 Z" fill="rgba(255,255,255,0.012)" stroke="rgba(0,0,0,0.065)" stroke-width="0.8" stroke-linejoin="round"/>
<rect x="651.8" y="463.4" width="7.5" height="7.5" fill="rgba(255,255,255,0.012)" stroke="rgba(0,0,0,0.065)" stroke-width="0.8"/>
<path d="M723.3,-3.3 h11.6 v10.1 h-17.3 v-6.8 h5.8 Z" fill="rgba(255,255,255,0.012)" stroke="rgba(0,0,0,0.065)" stroke-width="0.8" stroke-linejoin="round"/>
<path d="M718.2,11.7 h17.8 v9.2 h-17.8 Z" fill="rgba(255,255,255,0.012)" stroke="rgba(0,0,0,0.065)" stroke-width="0.8" stroke-linejoin="round"/>
<rect x="746.8" y="16.3" width="5.7" height="6.6" fill="rgba(255,255,255,0.012)" stroke="rgba(0,0,0,0.065)" stroke-width="0.8"/>
<path d="M721.1,24.0 h21.5 v11.0 h-21.5 Z" fill="rgba(255,255,255,0.012)" stroke="rgba(0,0,0,0.065)" stroke-width="0.8" stroke-linejoin="round"/>
<rect x="750.2" y="28.1" width="6.3" height="6.4" fill="rgba(255,255,255,0.012)" stroke="rgba(0,0,0,0.065)" stroke-width="0.8"/>
<path d="M720.5,38.3 h16.3 v10.2 h-16.3 Z" fill="rgba(255,255,255,0.012)" stroke="rgba(0,0,0,0.065)" stroke-width="0.8" stroke-linejoin="round"/>
<path d="M723.5,52.7 h14.8 v9.0 h-19.5 v-6.8 h4.7 Z" fill="rgba(255,255,255,0.012)" stroke="rgba(0,0,0,0.065)" stroke-width="0.8" stroke-linejoin="round"/>
<rect x="743.9" y="52.9" width="6.6" height="7.4" fill="rgba(255,255,255,0.012)" stroke="rgba(0,0,0,0.065)" stroke-width="0.8"/>
<path d="M717.2,65.7 h17.3 v10.7 h-17.3 Z" fill="rgba(255,255,255,0.012)" stroke="rgba(0,0,0,0.065)" stroke-width="0.8" stroke-linejoin="round"/>
<path d="M723.2,79.9 h16.6 v10.0 h-20.6 v-7.2 h4.0 Z" fill="rgba(255,255,255,0.012)" stroke="rgba(0,0,0,0.065)" stroke-width="0.8" stroke-linejoin="round"/>
<path d="M719.2,95.6 h12.5 v2.7 h4.7 v6.7 h-17.2 Z" fill="rgba(255,255,255,0.012)" stroke="rgba(0,0,0,0.065)" stroke-width="0.8" stroke-linejoin="round"/>
<rect x="748.2" y="100.2" width="6.1" height="6.2" fill="rgba(255,255,255,0.012)" stroke="rgba(0,0,0,0.065)" stroke-width="0.8"/>
<path d="M724.1,128.9 h19.6 v10.4 h-22.7 v-7.0 h3.2 Z" fill="rgba(255,255,255,0.012)" stroke="rgba(0,0,0,0.065)" stroke-width="0.8" stroke-linejoin="round"/>
<rect x="752.0" y="132.1" width="7.0" height="7.4" fill="rgba(255,255,255,0.012)" stroke="rgba(0,0,0,0.065)" stroke-width="0.8"/>
<path d="M716.9,142.8 h18.4 v11.2 h-14.8 v-3.4 h-3.6 Z" fill="rgba(255,255,255,0.012)" stroke="rgba(0,0,0,0.065)" stroke-width="0.8" stroke-linejoin="round"/>
<rect x="744.4" y="144.9" width="7.3" height="5.9" fill="rgba(255,255,255,0.012)" stroke="rgba(0,0,0,0.065)" stroke-width="0.8"/>
<path d="M717.3,158.3 h20.0 v9.7 h-16.4 v-3.8 h-3.5 Z" fill="rgba(255,255,255,0.012)" stroke="rgba(0,0,0,0.065)" stroke-width="0.8" stroke-linejoin="round"/>
<rect x="742.9" y="161.0" width="8.0" height="5.6" fill="rgba(255,255,255,0.012)" stroke="rgba(0,0,0,0.065)" stroke-width="0.8"/>
<path d="M717.8,171.4 h19.4 v10.2 h-14.7 v-2.2 h-4.7 Z" fill="rgba(255,255,255,0.012)" stroke="rgba(0,0,0,0.065)" stroke-width="0.8" stroke-linejoin="round"/>
<path d="M718.8,184.3 h18.9 v8.7 h-18.9 Z" fill="rgba(255,255,255,0.012)" stroke="rgba(0,0,0,0.065)" stroke-width="0.8" stroke-linejoin="round"/>
<path d="M717.0,195.9 h17.4 v2.8 h5.5 v7.9 h-22.9 Z" fill="rgba(255,255,255,0.012)" stroke="rgba(0,0,0,0.065)" stroke-width="0.8" stroke-linejoin="round"/>
<path d="M720.3,211.1 h21.4 v8.9 h-18.3 v-2.5 h-3.2 Z" fill="rgba(255,255,255,0.012)" stroke="rgba(0,0,0,0.065)" stroke-width="0.8" stroke-linejoin="round"/>
<rect x="748.8" y="214.6" width="7.1" height="5.5" fill="rgba(255,255,255,0.012)" stroke="rgba(0,0,0,0.065)" stroke-width="0.8"/>
<path d="M720.7,224.0 h22.2 v10.4 h-22.2 Z" fill="rgba(255,255,255,0.012)" stroke="rgba(0,0,0,0.065)" stroke-width="0.8" stroke-linejoin="round"/>
<rect x="753.3" y="227.4" width="7.6" height="5.9" fill="rgba(255,255,255,0.012)" stroke="rgba(0,0,0,0.065)" stroke-width="0.8"/>
<path d="M720.0,239.7 h11.0 v3.4 h5.8 v6.2 h-16.9 Z" fill="rgba(255,255,255,0.012)" stroke="rgba(0,0,0,0.065)" stroke-width="0.8" stroke-linejoin="round"/>
<path d="M716.8,252.2 h14.1 v3.4 h5.8 v7.6 h-19.8 Z" fill="rgba(255,255,255,0.012)" stroke="rgba(0,0,0,0.065)" stroke-width="0.8" stroke-linejoin="round"/>
<rect x="745.7" y="252.8" width="6.6" height="7.1" fill="rgba(255,255,255,0.012)" stroke="rgba(0,0,0,0.065)" stroke-width="0.8"/>
<path d="M721.7,265.7 h12.1 v10.9 h-16.8 v-8.3 h4.7 Z" fill="rgba(255,255,255,0.012)" stroke="rgba(0,0,0,0.065)" stroke-width="0.8" stroke-linejoin="round"/>
<rect x="742.6" y="269.1" width="5.5" height="7.2" fill="rgba(255,255,255,0.012)" stroke="rgba(0,0,0,0.065)" stroke-width="0.8"/>
<path d="M717.8,281.9 h22.6 v8.5 h-22.6 Z" fill="rgba(255,255,255,0.012)" stroke="rgba(0,0,0,0.065)" stroke-width="0.8" stroke-linejoin="round"/>
<path d="M719.4,293.1 h13.1 v3.0 h4.2 v8.0 h-17.3 Z" fill="rgba(255,255,255,0.012)" stroke="rgba(0,0,0,0.065)" stroke-width="0.8" stroke-linejoin="round"/>
<path d="M716.3,307.9 h22.1 v10.3 h-22.1 Z" fill="rgba(255,255,255,0.012)" stroke="rgba(0,0,0,0.065)" stroke-width="0.8" stroke-linejoin="round"/>
<path d="M718.7,331.7 h14.4 v2.7 h4.2 v7.2 h-18.5 Z" fill="rgba(255,255,255,0.012)" stroke="rgba(0,0,0,0.065)" stroke-width="0.8" stroke-linejoin="round"/>
<path d="M723.8,345.3 h13.0 v9.9 h-16.1 v-7.6 h3.1 Z" fill="rgba(255,255,255,0.012)" stroke="rgba(0,0,0,0.065)" stroke-width="0.8" stroke-linejoin="round"/>
<rect x="743.6" y="348.1" width="6.0" height="6.3" fill="rgba(255,255,255,0.012)" stroke="rgba(0,0,0,0.065)" stroke-width="0.8"/>
<path d="M715.8,359.5 h22.7 v11.5 h-22.7 Z" fill="rgba(255,255,255,0.012)" stroke="rgba(0,0,0,0.065)" stroke-width="0.8" stroke-linejoin="round"/>
<path d="M717.0,375.7 h20.4 v9.6 h-20.4 Z" fill="rgba(255,255,255,0.012)" stroke="rgba(0,0,0,0.065)" stroke-width="0.8" stroke-linejoin="round"/>
<path d="M722.9,388.8 h16.4 v10.7 h-21.3 v-8.0 h4.9 Z" fill="rgba(255,255,255,0.012)" stroke="rgba(0,0,0,0.065)" stroke-width="0.8" stroke-linejoin="round"/>
<path d="M720.4,402.3 h13.9 v2.7 h4.4 v6.7 h-18.4 Z" fill="rgba(255,255,255,0.012)" stroke="rgba(0,0,0,0.065)" stroke-width="0.8" stroke-linejoin="round"/>
<rect x="743.8" y="406.6" width="6.2" height="5.3" fill="rgba(255,255,255,0.012)" stroke="rgba(0,0,0,0.065)" stroke-width="0.8"/>
<path d="M716.9,415.8 h19.1 v10.2 h-15.6 v-2.1 h-3.5 Z" fill="rgba(255,255,255,0.012)" stroke="rgba(0,0,0,0.065)" stroke-width="0.8" stroke-linejoin="round"/>
<rect x="747.6" y="417.5" width="7.5" height="6.4" fill="rgba(255,255,255,0.012)" stroke="rgba(0,0,0,0.065)" stroke-width="0.8"/>
<path d="M716.2,431.7 h20.1 v8.7 h-15.3 v-4.0 h-4.7 Z" fill="rgba(255,255,255,0.012)" stroke="rgba(0,0,0,0.065)" stroke-width="0.8" stroke-linejoin="round"/>
<path d="M717.6,444.5 h16.4 v2.6 h5.7 v6.2 h-22.1 Z" fill="rgba(255,255,255,0.012)" stroke="rgba(0,0,0,0.065)" stroke-width="0.8" stroke-linejoin="round"/>
<rect x="749.6" y="445.6" width="5.6" height="5.7" fill="rgba(255,255,255,0.012)" stroke="rgba(0,0,0,0.065)" stroke-width="0.8"/>
<path d="M719.5,457.1 h17.4 v10.3 h-17.4 Z" fill="rgba(255,255,255,0.012)" stroke="rgba(0,0,0,0.065)" stroke-width="0.8" stroke-linejoin="round"/>
<path d="M781.7,-4.7 h21.7 v11.1 h-18.3 v-2.4 h-3.4 Z" fill="rgba(255,255,255,0.012)" stroke="rgba(0,0,0,0.065)" stroke-width="0.8" stroke-linejoin="round"/>
<path d="M780.9,11.2 h22.5 v9.1 h-17.2 v-3.3 h-5.2 Z" fill="rgba(255,255,255,0.012)" stroke="rgba(0,0,0,0.065)" stroke-width="0.8" stroke-linejoin="round"/>
<path d="M788.3,24.0 h16.4 v9.7 h-11.5 v-2.7 h-4.9 Z" fill="rgba(255,255,255,0.012)" stroke="rgba(0,0,0,0.065)" stroke-width="0.8" stroke-linejoin="round"/>
<path d="M781.0,37.1 h14.6 v4.0 h4.7 v4.6 h-19.2 Z" fill="rgba(255,255,255,0.012)" stroke="rgba(0,0,0,0.065)" stroke-width="0.8" stroke-linejoin="round"/>
<path d="M785.7,50.7 h14.9 v3.5 h3.4 v5.2 h-18.3 Z" fill="rgba(255,255,255,0.012)" stroke="rgba(0,0,0,0.065)" stroke-width="0.8" stroke-linejoin="round"/>
<path d="M782.1,63.5 h19.8 v10.3 h-14.8 v-3.2 h-5.0 Z" fill="rgba(255,255,255,0.012)" stroke="rgba(0,0,0,0.065)" stroke-width="0.8" stroke-linejoin="round"/>
<path d="M779.8,77.1 h21.0 v10.8 h-21.0 Z" fill="rgba(255,255,255,0.012)" stroke="rgba(0,0,0,0.065)" stroke-width="0.8" stroke-linejoin="round"/>
<path d="M787.2,91.4 h16.6 v11.3 h-19.7 v-8.4 h3.0 Z" fill="rgba(255,255,255,0.012)" stroke="rgba(0,0,0,0.065)" stroke-width="0.8" stroke-linejoin="round"/>
<path d="M786.3,129.0 h14.5 v2.3 h3.1 v8.5 h-17.6 Z" fill="rgba(255,255,255,0.012)" stroke="rgba(0,0,0,0.065)" stroke-width="0.8" stroke-linejoin="round"/>
<path d="M785.2,144.2 h17.3 v11.3 h-17.3 Z" fill="rgba(255,255,255,0.012)" stroke="rgba(0,0,0,0.065)" stroke-width="0.8" stroke-linejoin="round"/>
<path d="M792.7,158.6 h10.3 v10.8 h-16.2 v-7.8 h5.9 Z" fill="rgba(255,255,255,0.012)" stroke="rgba(0,0,0,0.065)" stroke-width="0.8" stroke-linejoin="round"/>
<rect x="771.7" y="163.1" width="7.8" height="6.2" fill="rgba(255,255,255,0.012)" stroke="rgba(0,0,0,0.065)" stroke-width="0.8"/>
<path d="M779.8,172.3 h16.9 v3.7 h4.2 v5.0 h-21.1 Z" fill="rgba(255,255,255,0.012)" stroke="rgba(0,0,0,0.065)" stroke-width="0.8" stroke-linejoin="round"/>
<path d="M778.5,184.9 h18.8 v2.5 h3.7 v8.8 h-22.4 Z" fill="rgba(255,255,255,0.012)" stroke="rgba(0,0,0,0.065)" stroke-width="0.8" stroke-linejoin="round"/>
<path d="M783.3,199.5 h13.5 v4.0 h3.9 v6.8 h-17.4 Z" fill="rgba(255,255,255,0.012)" stroke="rgba(0,0,0,0.065)" stroke-width="0.8" stroke-linejoin="round"/>
<path d="M780.5,213.4 h16.8 v3.6 h5.3 v7.5 h-22.0 Z" fill="rgba(255,255,255,0.012)" stroke="rgba(0,0,0,0.065)" stroke-width="0.8" stroke-linejoin="round"/>
<rect x="767.7" y="216.8" width="6.7" height="7.2" fill="rgba(255,255,255,0.012)" stroke="rgba(0,0,0,0.065)" stroke-width="0.8"/>
<path d="M780.2,229.1 h19.2 v10.2 h-15.5 v-3.8 h-3.6 Z" fill="rgba(255,255,255,0.012)" stroke="rgba(0,0,0,0.065)" stroke-width="0.8" stroke-linejoin="round"/>
<path d="M781.5,244.8 h13.4 v2.0 h3.9 v9.0 h-17.3 Z" fill="rgba(255,255,255,0.012)" stroke="rgba(0,0,0,0.065)" stroke-width="0.8" stroke-linejoin="round"/>
<path d="M780.9,258.5 h19.1 v9.0 h-22.4 v-6.6 h3.3 Z" fill="rgba(255,255,255,0.012)" stroke="rgba(0,0,0,0.065)" stroke-width="0.8" stroke-linejoin="round"/>
<rect x="761.4" y="262.9" width="6.2" height="7.3" fill="rgba(255,255,255,0.012)" stroke="rgba(0,0,0,0.065)" stroke-width="0.8"/>
<path d="M783.4,273.3 h16.2 v9.2 h-11.2 v-2.1 h-5.1 Z" fill="rgba(255,255,255,0.012)" stroke="rgba(0,0,0,0.065)" stroke-width="0.8" stroke-linejoin="round"/>
<rect x="771.8" y="278.3" width="6.5" height="5.3" fill="rgba(255,255,255,0.012)" stroke="rgba(0,0,0,0.065)" stroke-width="0.8"/>
<path d="M778.9,286.1 h18.7 v2.9 h3.4 v6.0 h-22.2 Z" fill="rgba(255,255,255,0.012)" stroke="rgba(0,0,0,0.065)" stroke-width="0.8" stroke-linejoin="round"/>
<path d="M781.7,298.0 h21.2 v10.0 h-21.2 Z" fill="rgba(255,255,255,0.012)" stroke="rgba(0,0,0,0.065)" stroke-width="0.8" stroke-linejoin="round"/>
<rect x="764.8" y="301.7" width="5.8" height="7.4" fill="rgba(255,255,255,0.012)" stroke="rgba(0,0,0,0.065)" stroke-width="0.8"/>
<path d="M789.8,331.7 h13.3 v8.7 h-17.9 v-5.9 h4.5 Z" fill="rgba(255,255,255,0.012)" stroke="rgba(0,0,0,0.065)" stroke-width="0.8" stroke-linejoin="round"/>
<rect x="770.6" y="334.4" width="5.0" height="6.7" fill="rgba(255,255,255,0.012)" stroke="rgba(0,0,0,0.065)" stroke-width="0.8"/>
<path d="M778.0,344.8 h20.8 v11.4 h-15.7 v-2.8 h-5.2 Z" fill="rgba(255,255,255,0.012)" stroke="rgba(0,0,0,0.065)" stroke-width="0.8" stroke-linejoin="round"/>
<path d="M782.4,362.2 h15.3 v4.0 h3.4 v5.7 h-18.7 Z" fill="rgba(255,255,255,0.012)" stroke="rgba(0,0,0,0.065)" stroke-width="0.8" stroke-linejoin="round"/>
<path d="M783.4,377.6 h14.1 v2.4 h3.7 v7.9 h-17.8 Z" fill="rgba(255,255,255,0.012)" stroke="rgba(0,0,0,0.065)" stroke-width="0.8" stroke-linejoin="round"/>
<path d="M777.1,393.2 h22.4 v8.6 h-18.4 v-3.3 h-4.0 Z" fill="rgba(255,255,255,0.012)" stroke="rgba(0,0,0,0.065)" stroke-width="0.8" stroke-linejoin="round"/>
<rect x="758.5" y="397.4" width="8.4" height="5.0" fill="rgba(255,255,255,0.012)" stroke="rgba(0,0,0,0.065)" stroke-width="0.8"/>
<path d="M781.6,406.1 h20.1 v11.5 h-15.3 v-3.5 h-4.9 Z" fill="rgba(255,255,255,0.012)" stroke="rgba(0,0,0,0.065)" stroke-width="0.8" stroke-linejoin="round"/>
<path d="M779.8,421.5 h19.7 v10.3 h-15.7 v-3.3 h-4.0 Z" fill="rgba(255,255,255,0.012)" stroke="rgba(0,0,0,0.065)" stroke-width="0.8" stroke-linejoin="round"/>
<rect x="761.3" y="423.8" width="7.1" height="5.7" fill="rgba(255,255,255,0.012)" stroke="rgba(0,0,0,0.065)" stroke-width="0.8"/>
<path d="M782.0,436.8 h19.7 v9.9 h-16.2 v-3.9 h-3.4 Z" fill="rgba(255,255,255,0.012)" stroke="rgba(0,0,0,0.065)" stroke-width="0.8" stroke-linejoin="round"/>
<path d="M785.6,451.1 h16.2 v9.2 h-21.7 v-6.3 h5.5 Z" fill="rgba(255,255,255,0.012)" stroke="rgba(0,0,0,0.065)" stroke-width="0.8" stroke-linejoin="round"/>
<path d="M778.6,465.9 h16.6 v3.6 h5.5 v5.0 h-22.1 Z" fill="rgba(255,255,255,0.012)" stroke="rgba(0,0,0,0.065)" stroke-width="0.8" stroke-linejoin="round"/>
<rect x="765.2" y="470.0" width="5.9" height="5.3" fill="rgba(255,255,255,0.012)" stroke="rgba(0,0,0,0.065)" stroke-width="0.8"/>
<path d="M830.0,-3.2 h16.6 v9.7 h-11.5 v-2.9 h-5.1 Z" fill="rgba(255,255,255,0.012)" stroke="rgba(0,0,0,0.065)" stroke-width="0.8" stroke-linejoin="round"/>
<path d="M826.8,11.7 h17.0 v10.5 h-12.5 v-2.5 h-4.6 Z" fill="rgba(255,255,255,0.012)" stroke="rgba(0,0,0,0.065)" stroke-width="0.8" stroke-linejoin="round"/>
<rect x="850.2" y="14.5" width="6.3" height="5.0" fill="rgba(255,255,255,0.012)" stroke="rgba(0,0,0,0.065)" stroke-width="0.8"/>
<path d="M826.3,24.9 h17.2 v10.7 h-17.2 Z" fill="rgba(255,255,255,0.012)" stroke="rgba(0,0,0,0.065)" stroke-width="0.8" stroke-linejoin="round"/>
<rect x="849.9" y="27.0" width="7.2" height="7.1" fill="rgba(255,255,255,0.012)" stroke="rgba(0,0,0,0.065)" stroke-width="0.8"/>
<path d="M825.0,40.8 h20.3 v9.6 h-20.3 Z" fill="rgba(255,255,255,0.012)" stroke="rgba(0,0,0,0.065)" stroke-width="0.8" stroke-linejoin="round"/>
<rect x="856.0" y="42.6" width="6.4" height="6.6" fill="rgba(255,255,255,0.012)" stroke="rgba(0,0,0,0.065)" stroke-width="0.8"/>
<path d="M825.7,54.3 h20.1 v11.3 h-14.1 v-3.4 h-5.9 Z" fill="rgba(255,255,255,0.012)" stroke="rgba(0,0,0,0.065)" stroke-width="0.8" stroke-linejoin="round"/>
<path d="M826.6,69.2 h16.5 v10.8 h-16.5 Z" fill="rgba(255,255,255,0.012)" stroke="rgba(0,0,0,0.065)" stroke-width="0.8" stroke-linejoin="round"/>
<path d="M826.9,82.6 h20.1 v9.9 h-14.6 v-2.8 h-5.5 Z" fill="rgba(255,255,255,0.012)" stroke="rgba(0,0,0,0.065)" stroke-width="0.8" stroke-linejoin="round"/>
<path d="M828.6,96.5 h19.4 v10.0 h-14.4 v-3.5 h-5.0 Z" fill="rgba(255,255,255,0.012)" stroke="rgba(0,0,0,0.065)" stroke-width="0.8" stroke-linejoin="round"/>
<rect x="858.5" y="100.3" width="7.4" height="6.4" fill="rgba(255,255,255,0.012)" stroke="rgba(0,0,0,0.065)" stroke-width="0.8"/>
<path d="M828.1,125.9 h13.3 v11.0 h-16.5 v-7.4 h3.3 Z" fill="rgba(255,255,255,0.012)" stroke="rgba(0,0,0,0.065)" stroke-width="0.8" stroke-linejoin="round"/>
<rect x="849.8" y="126.2" width="7.4" height="6.8" fill="rgba(255,255,255,0.012)" stroke="rgba(0,0,0,0.065)" stroke-width="0.8"/>
<path d="M829.3,141.8 h13.5 v3.7 h5.5 v6.5 h-18.9 Z" fill="rgba(255,255,255,0.012)" stroke="rgba(0,0,0,0.065)" stroke-width="0.8" stroke-linejoin="round"/>
<rect x="860.1" y="143.1" width="6.8" height="5.0" fill="rgba(255,255,255,0.012)" stroke="rgba(0,0,0,0.065)" stroke-width="0.8"/>
<path d="M828.5,155.4 h18.2 v9.3 h-13.5 v-3.0 h-4.7 Z" fill="rgba(255,255,255,0.012)" stroke="rgba(0,0,0,0.065)" stroke-width="0.8" stroke-linejoin="round"/>
<rect x="857.3" y="159.7" width="6.1" height="7.2" fill="rgba(255,255,255,0.012)" stroke="rgba(0,0,0,0.065)" stroke-width="0.8"/>
<path d="M826.8,168.1 h17.4 v8.7 h-13.3 v-2.9 h-4.1 Z" fill="rgba(255,255,255,0.012)" stroke="rgba(0,0,0,0.065)" stroke-width="0.8" stroke-linejoin="round"/>
<path d="M828.7,180.5 h21.6 v9.1 h-16.9 v-2.1 h-4.7 Z" fill="rgba(255,255,255,0.012)" stroke="rgba(0,0,0,0.065)" stroke-width="0.8" stroke-linejoin="round"/>
<path d="M825.4,193.6 h20.0 v9.5 h-20.0 Z" fill="rgba(255,255,255,0.012)" stroke="rgba(0,0,0,0.065)" stroke-width="0.8" stroke-linejoin="round"/>
<path d="M826.2,207.6 h19.2 v11.3 h-13.5 v-2.1 h-5.6 Z" fill="rgba(255,255,255,0.012)" stroke="rgba(0,0,0,0.065)" stroke-width="0.8" stroke-linejoin="round"/>
<path d="M830.4,221.6 h18.5 v8.7 h-22.0 v-4.9 h3.5 Z" fill="rgba(255,255,255,0.012)" stroke="rgba(0,0,0,0.065)" stroke-width="0.8" stroke-linejoin="round"/>
<path d="M825.3,234.5 h17.1 v3.7 h3.6 v6.8 h-20.7 Z" fill="rgba(255,255,255,0.012)" stroke="rgba(0,0,0,0.065)" stroke-width="0.8" stroke-linejoin="round"/>
<path d="M833.5,248.3 h10.9 v8.8 h-16.7 v-6.0 h5.9 Z" fill="rgba(255,255,255,0.012)" stroke="rgba(0,0,0,0.065)" stroke-width="0.8" stroke-linejoin="round"/>
<rect x="850.4" y="248.6" width="8.2" height="6.7" fill="rgba(255,255,255,0.012)" stroke="rgba(0,0,0,0.065)" stroke-width="0.8"/>
<path d="M825.1,262.0 h16.3 v11.0 h-12.6 v-3.2 h-3.7 Z" fill="rgba(255,255,255,0.012)" stroke="rgba(0,0,0,0.065)" stroke-width="0.8" stroke-linejoin="round"/>
<path d="M827.8,276.1 h22.4 v9.5 h-22.4 Z" fill="rgba(255,255,255,0.012)" stroke="rgba(0,0,0,0.065)" stroke-width="0.8" stroke-linejoin="round"/>
<rect x="859.7" y="277.2" width="5.1" height="5.9" fill="rgba(255,255,255,0.012)" stroke="rgba(0,0,0,0.065)" stroke-width="0.8"/>
<path d="M827.2,289.9 h12.4 v3.4 h4.3 v6.5 h-16.7 Z" fill="rgba(255,255,255,0.012)" stroke="rgba(0,0,0,0.065)" stroke-width="0.8" stroke-linejoin="round"/>
<path d="M828.1,302.8 h22.5 v11.5 h-17.9 v-2.6 h-4.6 Z" fill="rgba(255,255,255,0.012)" stroke="rgba(0,0,0,0.065)" stroke-width="0.8" stroke-linejoin="round"/>
<path d="M827.6,334.7 h11.9 v3.1 h4.8 v6.9 h-16.7 Z" fill="rgba(255,255,255,0.012)" stroke="rgba(0,0,0,0.065)" stroke-width="0.8" stroke-linejoin="round"/>
<rect x="855.2" y="335.9" width="5.9" height="7.2" fill="rgba(255,255,255,0.012)" stroke="rgba(0,0,0,0.065)" stroke-width="0.8"/>
<path d="M832.1,350.4 h12.2 v10.3 h-16.2 v-6.4 h4.0 Z" fill="rgba(255,255,255,0.012)" stroke="rgba(0,0,0,0.065)" stroke-width="0.8" stroke-linejoin="round"/>
<rect x="851.0" y="354.1" width="6.2" height="6.1" fill="rgba(255,255,255,0.012)" stroke="rgba(0,0,0,0.065)" stroke-width="0.8"/>
<path d="M828.2,363.8 h16.8 v9.4 h-21.5 v-7.2 h4.7 Z" fill="rgba(255,255,255,0.012)" stroke="rgba(0,0,0,0.065)" stroke-width="0.8" stroke-linejoin="round"/>
<path d="M825.6,377.8 h15.9 v3.3 h3.3 v5.3 h-19.2 Z" fill="rgba(255,255,255,0.012)" stroke="rgba(0,0,0,0.065)" stroke-width="0.8" stroke-linejoin="round"/>
<path d="M823.8,390.1 h18.6 v10.5 h-15.1 v-3.9 h-3.5 Z" fill="rgba(255,255,255,0.012)" stroke="rgba(0,0,0,0.065)" stroke-width="0.8" stroke-linejoin="round"/>
<path d="M823.4,406.2 h19.4 v8.9 h-13.7 v-2.2 h-5.6 Z" fill="rgba(255,255,255,0.012)" stroke="rgba(0,0,0,0.065)" stroke-width="0.8" stroke-linejoin="round"/>
<path d="M825.5,418.1 h14.8 v2.7 h4.5 v6.3 h-19.3 Z" fill="rgba(255,255,255,0.012)" stroke="rgba(0,0,0,0.065)" stroke-width="0.8" stroke-linejoin="round"/>
<path d="M827.1,430.3 h12.4 v3.8 h4.5 v5.4 h-16.9 Z" fill="rgba(255,255,255,0.012)" stroke="rgba(0,0,0,0.065)" stroke-width="0.8" stroke-linejoin="round"/>
<path d="M826.2,443.7 h17.8 v3.5 h3.7 v6.7 h-21.5 Z" fill="rgba(255,255,255,0.012)" stroke="rgba(0,0,0,0.065)" stroke-width="0.8" stroke-linejoin="round"/>
<rect x="856.3" y="445.1" width="5.1" height="6.0" fill="rgba(255,255,255,0.012)" stroke="rgba(0,0,0,0.065)" stroke-width="0.8"/>
<path d="M823.8,459.5 h16.6 v10.2 h-16.6 Z" fill="rgba(255,255,255,0.012)" stroke="rgba(0,0,0,0.065)" stroke-width="0.8" stroke-linejoin="round"/>
<rect x="852.3" y="459.7" width="5.9" height="6.5" fill="rgba(255,255,255,0.012)" stroke="rgba(0,0,0,0.065)" stroke-width="0.8"/>
<path d="M893.8,-2.2 h17.3 v3.8 h4.4 v5.7 h-21.7 Z" fill="rgba(255,255,255,0.012)" stroke="rgba(0,0,0,0.065)" stroke-width="0.8" stroke-linejoin="round"/>
<path d="M899.4,11.2 h13.6 v3.4 h5.2 v5.4 h-18.8 Z" fill="rgba(255,255,255,0.012)" stroke="rgba(0,0,0,0.065)" stroke-width="0.8" stroke-linejoin="round"/>
<rect x="887.4" y="12.9" width="5.5" height="5.5" fill="rgba(255,255,255,0.012)" stroke="rgba(0,0,0,0.065)" stroke-width="0.8"/>
<path d="M894.0,25.9 h23.0 v10.9 h-23.0 Z" fill="rgba(255,255,255,0.012)" stroke="rgba(0,0,0,0.065)" stroke-width="0.8" stroke-linejoin="round"/>
<path d="M897.7,41.5 h17.4 v10.4 h-17.4 Z" fill="rgba(255,255,255,0.012)" stroke="rgba(0,0,0,0.065)" stroke-width="0.8" stroke-linejoin="round"/>
<rect x="882.4" y="45.2" width="5.6" height="7.4" fill="rgba(255,255,255,0.012)" stroke="rgba(0,0,0,0.065)" stroke-width="0.8"/>
<path d="M892.9,54.9 h21.8 v11.3 h-21.8 Z" fill="rgba(255,255,255,0.012)" stroke="rgba(0,0,0,0.065)" stroke-width="0.8" stroke-linejoin="round"/>
<path d="M893.0,70.2 h21.8 v10.9 h-17.9 v-3.9 h-3.9 Z" fill="rgba(255,255,255,0.012)" stroke="rgba(0,0,0,0.065)" stroke-width="0.8" stroke-linejoin="round"/>
<path d="M895.0,84.0 h17.3 v2.5 h5.5 v8.4 h-22.8 Z" fill="rgba(255,255,255,0.012)" stroke="rgba(0,0,0,0.065)" stroke-width="0.8" stroke-linejoin="round"/>
<path d="M896.1,98.1 h19.4 v11.2 h-19.4 Z" fill="rgba(255,255,255,0.012)" stroke="rgba(0,0,0,0.065)" stroke-width="0.8" stroke-linejoin="round"/>
<path d="M896.6,128.8 h21.8 v9.7 h-16.8 v-3.7 h-5.0 Z" fill="rgba(255,255,255,0.012)" stroke="rgba(0,0,0,0.065)" stroke-width="0.8" stroke-linejoin="round"/>
<path d="M894.8,143.9 h21.6 v8.5 h-21.6 Z" fill="rgba(255,255,255,0.012)" stroke="rgba(0,0,0,0.065)" stroke-width="0.8" stroke-linejoin="round"/>
<path d="M902.5,157.0 h15.1 v9.5 h-19.2 v-5.8 h4.1 Z" fill="rgba(255,255,255,0.012)" stroke="rgba(0,0,0,0.065)" stroke-width="0.8" stroke-linejoin="round"/>
<rect x="883.2" y="159.3" width="5.3" height="5.7" fill="rgba(255,255,255,0.012)" stroke="rgba(0,0,0,0.065)" stroke-width="0.8"/>
<path d="M893.6,171.4 h18.5 v3.6 h3.1 v5.2 h-21.6 Z" fill="rgba(255,255,255,0.012)" stroke="rgba(0,0,0,0.065)" stroke-width="0.8" stroke-linejoin="round"/>
<rect x="878.6" y="175.8" width="8.4" height="5.9" fill="rgba(255,255,255,0.012)" stroke="rgba(0,0,0,0.065)" stroke-width="0.8"/>
<path d="M893.8,184.9 h22.3 v9.7 h-22.3 Z" fill="rgba(255,255,255,0.012)" stroke="rgba(0,0,0,0.065)" stroke-width="0.8" stroke-linejoin="round"/>
<rect x="877.2" y="184.9" width="7.9" height="5.4" fill="rgba(255,255,255,0.012)" stroke="rgba(0,0,0,0.065)" stroke-width="0.8"/>
<path d="M891.8,197.7 h18.9 v2.7 h3.8 v7.2 h-22.6 Z" fill="rgba(255,255,255,0.012)" stroke="rgba(0,0,0,0.065)" stroke-width="0.8" stroke-linejoin="round"/>
<path d="M894.2,213.0 h13.9 v3.3 h5.7 v6.3 h-19.6 Z" fill="rgba(255,255,255,0.012)" stroke="rgba(0,0,0,0.065)" stroke-width="0.8" stroke-linejoin="round"/>
<path d="M892.3,226.7 h22.7 v9.6 h-17.8 v-2.8 h-4.9 Z" fill="rgba(255,255,255,0.012)" stroke="rgba(0,0,0,0.065)" stroke-width="0.8" stroke-linejoin="round"/>
<path d="M897.1,242.0 h16.3 v9.6 h-19.5 v-5.9 h3.2 Z" fill="rgba(255,255,255,0.012)" stroke="rgba(0,0,0,0.065)" stroke-width="0.8" stroke-linejoin="round"/>
<path d="M893.3,255.6 h21.3 v11.2 h-16.0 v-2.1 h-5.2 Z" fill="rgba(255,255,255,0.012)" stroke="rgba(0,0,0,0.065)" stroke-width="0.8" stroke-linejoin="round"/>
<rect x="878.9" y="258.6" width="8.3" height="7.2" fill="rgba(255,255,255,0.012)" stroke="rgba(0,0,0,0.065)" stroke-width="0.8"/>
<path d="M898.0,271.3 h16.3 v9.7 h-16.3 Z" fill="rgba(255,255,255,0.012)" stroke="rgba(0,0,0,0.065)" stroke-width="0.8" stroke-linejoin="round"/>
<rect x="879.3" y="274.6" width="6.9" height="6.1" fill="rgba(255,255,255,0.012)" stroke="rgba(0,0,0,0.065)" stroke-width="0.8"/>
<path d="M892.5,286.3 h15.6 v3.4 h5.1 v6.3 h-20.7 Z" fill="rgba(255,255,255,0.012)" stroke="rgba(0,0,0,0.065)" stroke-width="0.8" stroke-linejoin="round"/>
<rect x="874.9" y="288.1" width="7.0" height="7.1" fill="rgba(255,255,255,0.012)" stroke="rgba(0,0,0,0.065)" stroke-width="0.8"/>
<path d="M897.5,299.0 h19.6 v11.1 h-14.4 v-2.3 h-5.2 Z" fill="rgba(255,255,255,0.012)" stroke="rgba(0,0,0,0.065)" stroke-width="0.8" stroke-linejoin="round"/>
<rect x="879.7" y="303.8" width="6.0" height="6.0" fill="rgba(255,255,255,0.012)" stroke="rgba(0,0,0,0.065)" stroke-width="0.8"/>
<path d="M893.6,332.2 h18.3 v2.2 h4.3 v6.9 h-22.6 Z" fill="rgba(255,255,255,0.012)" stroke="rgba(0,0,0,0.065)" stroke-width="0.8" stroke-linejoin="round"/>
<rect x="880.4" y="333.3" width="6.3" height="7.4" fill="rgba(255,255,255,0.012)" stroke="rgba(0,0,0,0.065)" stroke-width="0.8"/>
<path d="M895.4,347.0 h13.8 v2.6 h5.3 v8.4 h-19.2 Z" fill="rgba(255,255,255,0.012)" stroke="rgba(0,0,0,0.065)" stroke-width="0.8" stroke-linejoin="round"/>
<path d="M894.0,362.2 h19.9 v10.5 h-19.9 Z" fill="rgba(255,255,255,0.012)" stroke="rgba(0,0,0,0.065)" stroke-width="0.8" stroke-linejoin="round"/>
<path d="M896.4,376.2 h17.3 v9.3 h-20.4 v-5.6 h3.1 Z" fill="rgba(255,255,255,0.012)" stroke="rgba(0,0,0,0.065)" stroke-width="0.8" stroke-linejoin="round"/>
<rect x="878.3" y="376.5" width="8.3" height="5.7" fill="rgba(255,255,255,0.012)" stroke="rgba(0,0,0,0.065)" stroke-width="0.8"/>
<path d="M894.2,389.9 h21.3 v10.5 h-15.9 v-2.2 h-5.4 Z" fill="rgba(255,255,255,0.012)" stroke="rgba(0,0,0,0.065)" stroke-width="0.8" stroke-linejoin="round"/>
<path d="M893.1,406.3 h20.4 v10.6 h-20.4 Z" fill="rgba(255,255,255,0.012)" stroke="rgba(0,0,0,0.065)" stroke-width="0.8" stroke-linejoin="round"/>
<rect x="879.3" y="407.2" width="6.4" height="7.0" fill="rgba(255,255,255,0.012)" stroke="rgba(0,0,0,0.065)" stroke-width="0.8"/>
<path d="M894.3,422.4 h19.7 v10.1 h-14.0 v-2.3 h-5.7 Z" fill="rgba(255,255,255,0.012)" stroke="rgba(0,0,0,0.065)" stroke-width="0.8" stroke-linejoin="round"/>
<rect x="876.8" y="425.8" width="6.4" height="6.3" fill="rgba(255,255,255,0.012)" stroke="rgba(0,0,0,0.065)" stroke-width="0.8"/>
<path d="M897.1,437.0 h18.8 v10.2 h-18.8 Z" fill="rgba(255,255,255,0.012)" stroke="rgba(0,0,0,0.065)" stroke-width="0.8" stroke-linejoin="round"/>
<rect x="881.2" y="441.5" width="7.4" height="6.9" fill="rgba(255,255,255,0.012)" stroke="rgba(0,0,0,0.065)" stroke-width="0.8"/>
<path d="M892.7,452.9 h21.2 v11.0 h-21.2 Z" fill="rgba(255,255,255,0.012)" stroke="rgba(0,0,0,0.065)" stroke-width="0.8" stroke-linejoin="round"/>
<path d="M896.1,468.5 h12.5 v2.5 h5.5 v6.2 h-17.9 Z" fill="rgba(255,255,255,0.012)" stroke="rgba(0,0,0,0.065)" stroke-width="0.8" stroke-linejoin="round"/>
<rect x="879.0" y="472.5" width="5.3" height="6.7" fill="rgba(255,255,255,0.012)" stroke="rgba(0,0,0,0.065)" stroke-width="0.8"/>
<path d="M941.2,-2.2 h13.5 v3.3 h3.0 v7.8 h-16.5 Z" fill="rgba(255,255,255,0.012)" stroke="rgba(0,0,0,0.065)" stroke-width="0.8" stroke-linejoin="round"/>
<rect x="966.5" y="1.8" width="5.2" height="6.1" fill="rgba(255,255,255,0.012)" stroke="rgba(0,0,0,0.065)" stroke-width="0.8"/>
<path d="M940.6,11.5 h21.8 v8.8 h-16.9 v-2.7 h-4.9 Z" fill="rgba(255,255,255,0.012)" stroke="rgba(0,0,0,0.065)" stroke-width="0.8" stroke-linejoin="round"/>
<path d="M943.6,23.5 h16.1 v3.1 h5.4 v6.1 h-21.6 Z" fill="rgba(255,255,255,0.012)" stroke="rgba(0,0,0,0.065)" stroke-width="0.8" stroke-linejoin="round"/>
<path d="M944.5,35.3 h14.6 v9.8 h-19.5 v-6.3 h4.9 Z" fill="rgba(255,255,255,0.012)" stroke="rgba(0,0,0,0.065)" stroke-width="0.8" stroke-linejoin="round"/>
<path d="M943.6,49.3 h20.1 v9.2 h-20.1 Z" fill="rgba(255,255,255,0.012)" stroke="rgba(0,0,0,0.065)" stroke-width="0.8" stroke-linejoin="round"/>
<rect x="972.1" y="50.0" width="8.5" height="5.2" fill="rgba(255,255,255,0.012)" stroke="rgba(0,0,0,0.065)" stroke-width="0.8"/>
<path d="M941.5,62.6 h20.8 v10.6 h-16.8 v-2.4 h-4.0 Z" fill="rgba(255,255,255,0.012)" stroke="rgba(0,0,0,0.065)" stroke-width="0.8" stroke-linejoin="round"/>
<rect x="970.9" y="64.8" width="5.7" height="6.8" fill="rgba(255,255,255,0.012)" stroke="rgba(0,0,0,0.065)" stroke-width="0.8"/>
<path d="M940.5,76.4 h20.9 v9.1 h-20.9 Z" fill="rgba(255,255,255,0.012)" stroke="rgba(0,0,0,0.065)" stroke-width="0.8" stroke-linejoin="round"/>
<path d="M942.6,91.3 h19.3 v2.4 h3.2 v8.3 h-22.4 Z" fill="rgba(255,255,255,0.012)" stroke="rgba(0,0,0,0.065)" stroke-width="0.8" stroke-linejoin="round"/>
<path d="M939.7,127.5 h17.8 v9.6 h-12.9 v-4.0 h-4.9 Z" fill="rgba(255,255,255,0.012)" stroke="rgba(0,0,0,0.065)" stroke-width="0.8" stroke-linejoin="round"/>
<rect x="968.8" y="131.5" width="5.6" height="5.9" fill="rgba(255,255,255,0.012)" stroke="rgba(0,0,0,0.065)" stroke-width="0.8"/>
<path d="M939.6,141.2 h16.7 v8.8 h-16.7 Z" fill="rgba(255,255,255,0.012)" stroke="rgba(0,0,0,0.065)" stroke-width="0.8" stroke-linejoin="round"/>
<path d="M939.4,155.3 h19.3 v11.0 h-16.0 v-3.1 h-3.3 Z" fill="rgba(255,255,255,0.012)" stroke="rgba(0,0,0,0.065)" stroke-width="0.8" stroke-linejoin="round"/>
<rect x="970.0" y="158.8" width="5.9" height="5.1" fill="rgba(255,255,255,0.012)" stroke="rgba(0,0,0,0.065)" stroke-width="0.8"/>
<path d="M942.3,172.1 h22.9 v9.8 h-22.9 Z" fill="rgba(255,255,255,0.012)" stroke="rgba(0,0,0,0.065)" stroke-width="0.8" stroke-linejoin="round"/>
<rect x="974.2" y="174.0" width="5.0" height="5.5" fill="rgba(255,255,255,0.012)" stroke="rgba(0,0,0,0.065)" stroke-width="0.8"/>
<path d="M940.9,184.4 h21.8 v10.9 h-18.7 v-3.8 h-3.1 Z" fill="rgba(255,255,255,0.012)" stroke="rgba(0,0,0,0.065)" stroke-width="0.8" stroke-linejoin="round"/>
<rect x="973.9" y="186.8" width="6.1" height="6.6" fill="rgba(255,255,255,0.012)" stroke="rgba(0,0,0,0.065)" stroke-width="0.8"/>
<path d="M947.2,200.0 h13.3 v9.2 h-17.4 v-7.0 h4.1 Z" fill="rgba(255,255,255,0.012)" stroke="rgba(0,0,0,0.065)" stroke-width="0.8" stroke-linejoin="round"/>
<rect x="969.5" y="203.2" width="5.7" height="6.1" fill="rgba(255,255,255,0.012)" stroke="rgba(0,0,0,0.065)" stroke-width="0.8"/>
<path d="M942.0,214.2 h19.1 v8.7 h-15.9 v-2.9 h-3.2 Z" fill="rgba(255,255,255,0.012)" stroke="rgba(0,0,0,0.065)" stroke-width="0.8" stroke-linejoin="round"/>
<path d="M941.8,227.9 h17.7 v10.4 h-17.7 Z" fill="rgba(255,255,255,0.012)" stroke="rgba(0,0,0,0.065)" stroke-width="0.8" stroke-linejoin="round"/>
<path d="M939.4,241.1 h17.7 v11.5 h-17.7 Z" fill="rgba(255,255,255,0.012)" stroke="rgba(0,0,0,0.065)" stroke-width="0.8" stroke-linejoin="round"/>
<path d="M943.1,257.6 h10.9 v2.1 h5.4 v6.7 h-16.3 Z" fill="rgba(255,255,255,0.012)" stroke="rgba(0,0,0,0.065)" stroke-width="0.8" stroke-linejoin="round"/>
<rect x="969.0" y="262.3" width="8.3" height="5.5" fill="rgba(255,255,255,0.012)" stroke="rgba(0,0,0,0.065)" stroke-width="0.8"/>
<path d="M938.9,271.1 h19.4 v3.5 h3.1 v5.8 h-22.4 Z" fill="rgba(255,255,255,0.012)" stroke="rgba(0,0,0,0.065)" stroke-width="0.8" stroke-linejoin="round"/>
<path d="M938.8,285.4 h17.3 v10.9 h-17.3 Z" fill="rgba(255,255,255,0.012)" stroke="rgba(0,0,0,0.065)" stroke-width="0.8" stroke-linejoin="round"/>
<path d="M946.2,302.0 h10.6 v11.1 h-16.0 v-8.0 h5.5 Z" fill="rgba(255,255,255,0.012)" stroke="rgba(0,0,0,0.065)" stroke-width="0.8" stroke-linejoin="round"/>
<path d="M939.3,331.3 h16.4 v10.1 h-16.4 Z" fill="rgba(255,255,255,0.012)" stroke="rgba(0,0,0,0.065)" stroke-width="0.8" stroke-linejoin="round"/>
<rect x="963.8" y="331.9" width="7.9" height="7.0" fill="rgba(255,255,255,0.012)" stroke="rgba(0,0,0,0.065)" stroke-width="0.8"/>
<path d="M938.3,346.2 h17.4 v9.8 h-11.5 v-3.1 h-5.9 Z" fill="rgba(255,255,255,0.012)" stroke="rgba(0,0,0,0.065)" stroke-width="0.8" stroke-linejoin="round"/>
<rect x="966.7" y="346.7" width="7.6" height="7.1" fill="rgba(255,255,255,0.012)" stroke="rgba(0,0,0,0.065)" stroke-width="0.8"/>
<path d="M938.4,359.8 h18.1 v10.8 h-18.1 Z" fill="rgba(255,255,255,0.012)" stroke="rgba(0,0,0,0.065)" stroke-width="0.8" stroke-linejoin="round"/>
<rect x="966.4" y="362.8" width="5.3" height="5.3" fill="rgba(255,255,255,0.012)" stroke="rgba(0,0,0,0.065)" stroke-width="0.8"/>
<path d="M940.6,374.9 h19.2 v9.7 h-19.2 Z" fill="rgba(255,255,255,0.012)" stroke="rgba(0,0,0,0.065)" stroke-width="0.8" stroke-linejoin="round"/>
<path d="M937.6,390.3 h21.9 v10.7 h-16.8 v-3.7 h-5.0 Z" fill="rgba(255,255,255,0.012)" stroke="rgba(0,0,0,0.065)" stroke-width="0.8" stroke-linejoin="round"/>
<path d="M941.0,404.1 h22.6 v9.8 h-18.8 v-2.6 h-3.8 Z" fill="rgba(255,255,255,0.012)" stroke="rgba(0,0,0,0.065)" stroke-width="0.8" stroke-linejoin="round"/>
<rect x="975.4" y="407.4" width="5.3" height="6.1" fill="rgba(255,255,255,0.012)" stroke="rgba(0,0,0,0.065)" stroke-width="0.8"/>
<path d="M942.3,419.7 h16.1 v2.5 h5.3 v8.5 h-21.3 Z" fill="rgba(255,255,255,0.012)" stroke="rgba(0,0,0,0.065)" stroke-width="0.8" stroke-linejoin="round"/>
<path d="M941.9,433.3 h17.6 v11.2 h-17.6 Z" fill="rgba(255,255,255,0.012)" stroke="rgba(0,0,0,0.065)" stroke-width="0.8" stroke-linejoin="round"/>
<path d="M941.3,449.7 h19.7 v8.8 h-15.8 v-3.3 h-3.9 Z" fill="rgba(255,255,255,0.012)" stroke="rgba(0,0,0,0.065)" stroke-width="0.8" stroke-linejoin="round"/>
<path d="M940.4,464.4 h17.1 v10.1 h-12.5 v-3.9 h-4.6 Z" fill="rgba(255,255,255,0.012)" stroke="rgba(0,0,0,0.065)" stroke-width="0.8" stroke-linejoin="round"/>
<path d="M1012.5,-1.1 h10.9 v2.0 h5.7 v7.1 h-16.6 Z" fill="rgba(255,255,255,0.012)" stroke="rgba(0,0,0,0.065)" stroke-width="0.8" stroke-linejoin="round"/>
<path d="M1009.8,14.0 h17.2 v9.8 h-17.2 Z" fill="rgba(255,255,255,0.012)" stroke="rgba(0,0,0,0.065)" stroke-width="0.8" stroke-linejoin="round"/>
<rect x="994.0" y="15.0" width="5.9" height="5.1" fill="rgba(255,255,255,0.012)" stroke="rgba(0,0,0,0.065)" stroke-width="0.8"/>
<path d="M1009.6,27.2 h17.8 v10.4 h-22.8 v-7.2 h5.0 Z" fill="rgba(255,255,255,0.012)" stroke="rgba(0,0,0,0.065)" stroke-width="0.8" stroke-linejoin="round"/>
<rect x="994.3" y="29.0" width="5.2" height="5.2" fill="rgba(255,255,255,0.012)" stroke="rgba(0,0,0,0.065)" stroke-width="0.8"/>
<path d="M1008.7,40.6 h16.8 v10.0 h-16.8 Z" fill="rgba(255,255,255,0.012)" stroke="rgba(0,0,0,0.065)" stroke-width="0.8" stroke-linejoin="round"/>
<rect x="995.5" y="44.1" width="5.4" height="5.8" fill="rgba(255,255,255,0.012)" stroke="rgba(0,0,0,0.065)" stroke-width="0.8"/>
<path d="M1004.5,54.7 h17.1 v3.7 h4.0 v5.1 h-21.1 Z" fill="rgba(255,255,255,0.012)" stroke="rgba(0,0,0,0.065)" stroke-width="0.8" stroke-linejoin="round"/>
<path d="M1004.8,66.7 h18.2 v2.0 h3.8 v8.9 h-22.0 Z" fill="rgba(255,255,255,0.012)" stroke="rgba(0,0,0,0.065)" stroke-width="0.8" stroke-linejoin="round"/>
<path d="M1006.2,80.7 h17.1 v2.3 h3.5 v8.0 h-20.6 Z" fill="rgba(255,255,255,0.012)" stroke="rgba(0,0,0,0.065)" stroke-width="0.8" stroke-linejoin="round"/>
<path d="M1008.3,94.8 h20.6 v10.2 h-20.6 Z" fill="rgba(255,255,255,0.012)" stroke="rgba(0,0,0,0.065)" stroke-width="0.8" stroke-linejoin="round"/>
<rect x="989.9" y="95.5" width="8.4" height="5.9" fill="rgba(255,255,255,0.012)" stroke="rgba(0,0,0,0.065)" stroke-width="0.8"/>
<path d="M1010.7,126.0 h14.8 v3.6 h3.7 v6.5 h-18.6 Z" fill="rgba(255,255,255,0.012)" stroke="rgba(0,0,0,0.065)" stroke-width="0.8" stroke-linejoin="round"/>
<rect x="996.7" y="127.1" width="7.7" height="5.6" fill="rgba(255,255,255,0.012)" stroke="rgba(0,0,0,0.065)" stroke-width="0.8"/>
<path d="M1014.5,139.9 h12.9 v10.4 h-18.6 v-8.3 h5.6 Z" fill="rgba(255,255,255,0.012)" stroke="rgba(0,0,0,0.065)" stroke-width="0.8" stroke-linejoin="round"/>
<path d="M1012.9,153.7 h11.8 v3.4 h4.4 v6.4 h-16.2 Z" fill="rgba(255,255,255,0.012)" stroke="rgba(0,0,0,0.065)" stroke-width="0.8" stroke-linejoin="round"/>
<rect x="999.6" y="155.9" width="6.7" height="5.4" fill="rgba(255,255,255,0.012)" stroke="rgba(0,0,0,0.065)" stroke-width="0.8"/>
<path d="M1010.8,166.4 h10.7 v3.1 h5.8 v6.5 h-16.5 Z" fill="rgba(255,255,255,0.012)" stroke="rgba(0,0,0,0.065)" stroke-width="0.8" stroke-linejoin="round"/>
<rect x="992.1" y="171.2" width="7.6" height="6.4" fill="rgba(255,255,255,0.012)" stroke="rgba(0,0,0,0.065)" stroke-width="0.8"/>
<path d="M1010.2,181.5 h16.8 v11.3 h-16.8 Z" fill="rgba(255,255,255,0.012)" stroke="rgba(0,0,0,0.065)" stroke-width="0.8" stroke-linejoin="round"/>
<rect x="993.4" y="183.8" width="5.3" height="5.7" fill="rgba(255,255,255,0.012)" stroke="rgba(0,0,0,0.065)" stroke-width="0.8"/>
<path d="M1011.4,197.9 h16.5 v9.9 h-12.9 v-3.3 h-3.6 Z" fill="rgba(255,255,255,0.012)" stroke="rgba(0,0,0,0.065)" stroke-width="0.8" stroke-linejoin="round"/>
<rect x="996.7" y="197.9" width="8.4" height="6.2" fill="rgba(255,255,255,0.012)" stroke="rgba(0,0,0,0.065)" stroke-width="0.8"/>
<path d="M1007.5,212.5 h14.4 v3.1 h5.2 v5.5 h-19.6 Z" fill="rgba(255,255,255,0.012)" stroke="rgba(0,0,0,0.065)" stroke-width="0.8" stroke-linejoin="round"/>
<path d="M1004.8,225.7 h20.6 v8.9 h-20.6 Z" fill="rgba(255,255,255,0.012)" stroke="rgba(0,0,0,0.065)" stroke-width="0.8" stroke-linejoin="round"/>
<rect x="990.0" y="228.7" width="8.2" height="5.5" fill="rgba(255,255,255,0.012)" stroke="rgba(0,0,0,0.065)" stroke-width="0.8"/>
<path d="M1012.5,240.3 h12.3 v2.3 h4.3 v6.9 h-16.6 Z" fill="rgba(255,255,255,0.012)" stroke="rgba(0,0,0,0.065)" stroke-width="0.8" stroke-linejoin="round"/>
<path d="M1003.2,254.0 h19.5 v3.9 h3.0 v5.8 h-22.6 Z" fill="rgba(255,255,255,0.012)" stroke="rgba(0,0,0,0.065)" stroke-width="0.8" stroke-linejoin="round"/>
<path d="M1001.5,268.0 h22.6 v10.0 h-22.6 Z" fill="rgba(255,255,255,0.012)" stroke="rgba(0,0,0,0.065)" stroke-width="0.8" stroke-linejoin="round"/>
<rect x="986.4" y="272.8" width="8.5" height="6.1" fill="rgba(255,255,255,0.012)" stroke="rgba(0,0,0,0.065)" stroke-width="0.8"/>
<path d="M1006.9,281.6 h15.8 v2.7 h3.1 v6.8 h-18.8 Z" fill="rgba(255,255,255,0.012)" stroke="rgba(0,0,0,0.065)" stroke-width="0.8" stroke-linejoin="round"/>
<path d="M1006.5,293.6 h15.6 v3.4 h4.7 v5.9 h-20.3 Z" fill="rgba(255,255,255,0.012)" stroke="rgba(0,0,0,0.065)" stroke-width="0.8" stroke-linejoin="round"/>
<rect x="995.0" y="294.3" width="5.4" height="7.4" fill="rgba(255,255,255,0.012)" stroke="rgba(0,0,0,0.065)" stroke-width="0.8"/>
<path d="M1012.3,307.2 h16.4 v11.2 h-20.1 v-8.8 h3.7 Z" fill="rgba(255,255,255,0.012)" stroke="rgba(0,0,0,0.065)" stroke-width="0.8" stroke-linejoin="round"/>
<path d="M1003.4,334.6 h20.6 v11.1 h-16.8 v-3.9 h-3.8 Z" fill="rgba(255,255,255,0.012)" stroke="rgba(0,0,0,0.065)" stroke-width="0.8" stroke-linejoin="round"/>
<rect x="990.0" y="336.0" width="8.2" height="5.3" fill="rgba(255,255,255,0.012)" stroke="rgba(0,0,0,0.065)" stroke-width="0.8"/>
<path d="M1003.8,349.1 h22.8 v11.1 h-22.8 Z" fill="rgba(255,255,255,0.012)" stroke="rgba(0,0,0,0.065)" stroke-width="0.8" stroke-linejoin="round"/>
<path d="M1008.5,364.6 h16.8 v9.2 h-16.8 Z" fill="rgba(255,255,255,0.012)" stroke="rgba(0,0,0,0.065)" stroke-width="0.8" stroke-linejoin="round"/>
<path d="M1009.2,377.0 h13.0 v3.4 h3.5 v7.8 h-16.5 Z" fill="rgba(255,255,255,0.012)" stroke="rgba(0,0,0,0.065)" stroke-width="0.8" stroke-linejoin="round"/>
<rect x="993.2" y="377.3" width="6.3" height="6.3" fill="rgba(255,255,255,0.012)" stroke="rgba(0,0,0,0.065)" stroke-width="0.8"/>
<path d="M1004.7,393.2 h20.4 v9.9 h-15.0 v-2.0 h-5.4 Z" fill="rgba(255,255,255,0.012)" stroke="rgba(0,0,0,0.065)" stroke-width="0.8" stroke-linejoin="round"/>
<path d="M1003.1,408.1 h20.5 v9.0 h-15.2 v-2.5 h-5.4 Z" fill="rgba(255,255,255,0.012)" stroke="rgba(0,0,0,0.065)" stroke-width="0.8" stroke-linejoin="round"/>
<path d="M1005.0,420.4 h18.9 v11.4 h-15.2 v-3.5 h-3.7 Z" fill="rgba(255,255,255,0.012)" stroke="rgba(0,0,0,0.065)" stroke-width="0.8" stroke-linejoin="round"/>
<path d="M1010.3,437.0 h13.1 v2.1 h3.8 v7.1 h-16.9 Z" fill="rgba(255,255,255,0.012)" stroke="rgba(0,0,0,0.065)" stroke-width="0.8" stroke-linejoin="round"/>
<path d="M1006.9,450.1 h16.5 v10.2 h-16.5 Z" fill="rgba(255,255,255,0.012)" stroke="rgba(0,0,0,0.065)" stroke-width="0.8" stroke-linejoin="round"/>
<path d="M1005.4,463.5 h19.4 v8.6 h-19.4 Z" fill="rgba(255,255,255,0.012)" stroke="rgba(0,0,0,0.065)" stroke-width="0.8" stroke-linejoin="round"/>
<path d="M1055.4,-2.4 h20.4 v10.6 h-16.9 v-3.5 h-3.6 Z" fill="rgba(255,255,255,0.012)" stroke="rgba(0,0,0,0.065)" stroke-width="0.8" stroke-linejoin="round"/>
<rect x="1086.8" y="1.9" width="7.9" height="6.5" fill="rgba(255,255,255,0.012)" stroke="rgba(0,0,0,0.065)" stroke-width="0.8"/>
<path d="M1053.1,12.7 h12.2 v2.5 h5.2 v6.0 h-17.4 Z" fill="rgba(255,255,255,0.012)" stroke="rgba(0,0,0,0.065)" stroke-width="0.8" stroke-linejoin="round"/>
<rect x="1075.5" y="13.9" width="5.6" height="6.7" fill="rgba(255,255,255,0.012)" stroke="rgba(0,0,0,0.065)" stroke-width="0.8"/>
<path d="M1050.5,24.7 h21.0 v11.5 h-21.0 Z" fill="rgba(255,255,255,0.012)" stroke="rgba(0,0,0,0.065)" stroke-width="0.8" stroke-linejoin="round"/>
<rect x="1078.7" y="26.8" width="6.2" height="6.3" fill="rgba(255,255,255,0.012)" stroke="rgba(0,0,0,0.065)" stroke-width="0.8"/>
<path d="M1054.2,40.4 h14.3 v8.7 h-17.8 v-6.5 h3.5 Z" fill="rgba(255,255,255,0.012)" stroke="rgba(0,0,0,0.065)" stroke-width="0.8" stroke-linejoin="round"/>
<path d="M1052.0,52.4 h21.5 v10.7 h-21.5 Z" fill="rgba(255,255,255,0.012)" stroke="rgba(0,0,0,0.065)" stroke-width="0.8" stroke-linejoin="round"/>
<path d="M1052.1,65.8 h17.1 v10.6 h-17.1 Z" fill="rgba(255,255,255,0.012)" stroke="rgba(0,0,0,0.065)" stroke-width="0.8" stroke-linejoin="round"/>
<path d="M1053.6,79.2 h14.7 v3.6 h5.4 v5.5 h-20.1 Z" fill="rgba(255,255,255,0.012)" stroke="rgba(0,0,0,0.065)" stroke-width="0.8" stroke-linejoin="round"/>
<rect x="1079.7" y="80.2" width="7.3" height="6.4" fill="rgba(255,255,255,0.012)" stroke="rgba(0,0,0,0.065)" stroke-width="0.8"/>
<path d="M1051.2,92.8 h16.8 v10.4 h-13.0 v-2.8 h-3.8 Z" fill="rgba(255,255,255,0.012)" stroke="rgba(0,0,0,0.065)" stroke-width="0.8" stroke-linejoin="round"/>
<path d="M1053.1,127.9 h17.5 v9.4 h-17.5 Z" fill="rgba(255,255,255,0.012)" stroke="rgba(0,0,0,0.065)" stroke-width="0.8" stroke-linejoin="round"/>
<rect x="1077.4" y="128.7" width="6.1" height="6.7" fill="rgba(255,255,255,0.012)" stroke="rgba(0,0,0,0.065)" stroke-width="0.8"/>
<path d="M1053.4,140.6 h21.4 v11.0 h-15.5 v-3.6 h-5.9 Z" fill="rgba(255,255,255,0.012)" stroke="rgba(0,0,0,0.065)" stroke-width="0.8" stroke-linejoin="round"/>
<rect x="1084.0" y="141.0" width="7.5" height="5.1" fill="rgba(255,255,255,0.012)" stroke="rgba(0,0,0,0.065)" stroke-width="0.8"/>
<path d="M1054.4,154.2 h14.0 v2.9 h5.6 v6.0 h-19.6 Z" fill="rgba(255,255,255,0.012)" stroke="rgba(0,0,0,0.065)" stroke-width="0.8" stroke-linejoin="round"/>
<rect x="1081.5" y="157.8" width="6.8" height="6.3" fill="rgba(255,255,255,0.012)" stroke="rgba(0,0,0,0.065)" stroke-width="0.8"/>
<path d="M1050.0,167.5 h17.3 v3.0 h4.2 v5.9 h-21.4 Z" fill="rgba(255,255,255,0.012)" stroke="rgba(0,0,0,0.065)" stroke-width="0.8" stroke-linejoin="round"/>
<path d="M1053.1,179.6 h18.2 v9.9 h-12.9 v-2.7 h-5.3 Z" fill="rgba(255,255,255,0.012)" stroke="rgba(0,0,0,0.065)" stroke-width="0.8" stroke-linejoin="round"/>
<path d="M1051.8,195.3 h15.4 v2.6 h4.9 v6.3 h-20.3 Z" fill="rgba(255,255,255,0.012)" stroke="rgba(0,0,0,0.065)" stroke-width="0.8" stroke-linejoin="round"/>
<path d="M1052.5,209.8 h16.9 v9.9 h-16.9 Z" fill="rgba(255,255,255,0.012)" stroke="rgba(0,0,0,0.065)" stroke-width="0.8" stroke-linejoin="round"/>
<path d="M1049.8,223.7 h10.7 v2.1 h5.9 v7.6 h-16.6 Z" fill="rgba(255,255,255,0.012)" stroke="rgba(0,0,0,0.065)" stroke-width="0.8" stroke-linejoin="round"/>
<path d="M1050.1,236.4 h12.2 v3.7 h4.6 v5.0 h-16.7 Z" fill="rgba(255,255,255,0.012)" stroke="rgba(0,0,0,0.065)" stroke-width="0.8" stroke-linejoin="round"/>
<rect x="1074.2" y="237.0" width="7.7" height="6.1" fill="rgba(255,255,255,0.012)" stroke="rgba(0,0,0,0.065)" stroke-width="0.8"/>
<path d="M1050.5,248.5 h22.8 v8.9 h-22.8 Z" fill="rgba(255,255,255,0.012)" stroke="rgba(0,0,0,0.065)" stroke-width="0.8" stroke-linejoin="round"/>
<path d="M1051.5,263.2 h15.1 v3.5 h5.1 v5.9 h-20.2 Z" fill="rgba(255,255,255,0.012)" stroke="rgba(0,0,0,0.065)" stroke-width="0.8" stroke-linejoin="round"/>
<rect x="1082.4" y="264.9" width="8.4" height="5.3" fill="rgba(255,255,255,0.012)" stroke="rgba(0,0,0,0.065)" stroke-width="0.8"/>
<path d="M1054.0,275.9 h17.8 v9.9 h-14.3 v-3.7 h-3.4 Z" fill="rgba(255,255,255,0.012)" stroke="rgba(0,0,0,0.065)" stroke-width="0.8" stroke-linejoin="round"/>
<rect x="1078.1" y="278.0" width="7.6" height="5.9" fill="rgba(255,255,255,0.012)" stroke="rgba(0,0,0,0.065)" stroke-width="0.8"/>
<path d="M1049.1,291.2 h22.0 v10.2 h-22.0 Z" fill="rgba(255,255,255,0.012)" stroke="rgba(0,0,0,0.065)" stroke-width="0.8" stroke-linejoin="round"/>
<path d="M1050.3,305.0 h21.9 v11.0 h-17.8 v-2.7 h-4.1 Z" fill="rgba(255,255,255,0.012)" stroke="rgba(0,0,0,0.065)" stroke-width="0.8" stroke-linejoin="round"/>
<rect x="1083.6" y="307.1" width="5.4" height="5.6" fill="rgba(255,255,255,0.012)" stroke="rgba(0,0,0,0.065)" stroke-width="0.8"/>
<path d="M1115.9,-1.5 h21.3 v9.2 h-21.3 Z" fill="rgba(255,255,255,0.012)" stroke="rgba(0,0,0,0.065)" stroke-width="0.8" stroke-linejoin="round"/>
<path d="M1122.1,13.1 h17.8 v10.5 h-12.3 v-2.3 h-5.5 Z" fill="rgba(255,255,255,0.012)" stroke="rgba(0,0,0,0.065)" stroke-width="0.8" stroke-linejoin="round"/>
<rect x="1103.3" y="17.4" width="7.9" height="5.9" fill="rgba(255,255,255,0.012)" stroke="rgba(0,0,0,0.065)" stroke-width="0.8"/>
<path d="M1121.0,29.2 h11.9 v3.3 h5.0 v8.0 h-17.0 Z" fill="rgba(255,255,255,0.012)" stroke="rgba(0,0,0,0.065)" stroke-width="0.8" stroke-linejoin="round"/>
<path d="M1118.5,44.9 h13.8 v3.7 h5.3 v5.8 h-19.2 Z" fill="rgba(255,255,255,0.012)" stroke="rgba(0,0,0,0.065)" stroke-width="0.8" stroke-linejoin="round"/>
<rect x="1105.3" y="45.0" width="5.9" height="5.3" fill="rgba(255,255,255,0.012)" stroke="rgba(0,0,0,0.065)" stroke-width="0.8"/>
<path d="M1123.6,59.7 h17.6 v8.7 h-12.4 v-2.4 h-5.2 Z" fill="rgba(255,255,255,0.012)" stroke="rgba(0,0,0,0.065)" stroke-width="0.8" stroke-linejoin="round"/>
<path d="M1115.6,73.7 h22.7 v9.4 h-22.7 Z" fill="rgba(255,255,255,0.012)" stroke="rgba(0,0,0,0.065)" stroke-width="0.8" stroke-linejoin="round"/>
<path d="M1118.7,86.7 h22.1 v10.2 h-17.4 v-3.7 h-4.8 Z" fill="rgba(255,255,255,0.012)" stroke="rgba(0,0,0,0.065)" stroke-width="0.8" stroke-linejoin="round"/>
<path d="M1118.1,100.9 h22.2 v10.5 h-22.2 Z" fill="rgba(255,255,255,0.012)" stroke="rgba(0,0,0,0.065)" stroke-width="0.8" stroke-linejoin="round"/>
<path d="M1122.7,128.7 h11.1 v2.9 h5.2 v7.4 h-16.2 Z" fill="rgba(255,255,255,0.012)" stroke="rgba(0,0,0,0.065)" stroke-width="0.8" stroke-linejoin="round"/>
<path d="M1118.4,144.3 h16.3 v3.6 h5.2 v6.0 h-21.5 Z" fill="rgba(255,255,255,0.012)" stroke="rgba(0,0,0,0.065)" stroke-width="0.8" stroke-linejoin="round"/>
<path d="M1118.4,159.8 h19.0 v9.6 h-13.2 v-2.4 h-5.8 Z" fill="rgba(255,255,255,0.012)" stroke="rgba(0,0,0,0.065)" stroke-width="0.8" stroke-linejoin="round"/>
<rect x="1102.0" y="162.3" width="7.6" height="5.5" fill="rgba(255,255,255,0.012)" stroke="rgba(0,0,0,0.065)" stroke-width="0.8"/>
<path d="M1118.9,174.3 h12.3 v3.6 h4.7 v7.8 h-17.0 Z" fill="rgba(255,255,255,0.012)" stroke="rgba(0,0,0,0.065)" stroke-width="0.8" stroke-linejoin="round"/>
<path d="M1117.7,190.1 h15.5 v2.4 h5.8 v8.7 h-21.3 Z" fill="rgba(255,255,255,0.012)" stroke="rgba(0,0,0,0.065)" stroke-width="0.8" stroke-linejoin="round"/>
<path d="M1115.9,206.9 h16.5 v3.1 h5.8 v8.2 h-22.3 Z" fill="rgba(255,255,255,0.012)" stroke="rgba(0,0,0,0.065)" stroke-width="0.8" stroke-linejoin="round"/>
<path d="M1120.4,223.6 h19.0 v10.3 h-15.1 v-2.8 h-3.8 Z" fill="rgba(255,255,255,0.012)" stroke="rgba(0,0,0,0.065)" stroke-width="0.8" stroke-linejoin="round"/>
<path d="M1121.0,236.7 h10.8 v2.5 h5.2 v7.0 h-16.0 Z" fill="rgba(255,255,255,0.012)" stroke="rgba(0,0,0,0.065)" stroke-width="0.8" stroke-linejoin="round"/>
<path d="M1119.3,249.3 h20.2 v11.2 h-20.2 Z" fill="rgba(255,255,255,0.012)" stroke="rgba(0,0,0,0.065)" stroke-width="0.8" stroke-linejoin="round"/>
<path d="M1162.1,-3.9 h16.0 v2.9 h5.8 v8.4 h-21.9 Z" fill="rgba(255,255,255,0.012)" stroke="rgba(0,0,0,0.065)" stroke-width="0.8" stroke-linejoin="round"/>
<rect x="1190.0" y="-1.6" width="7.8" height="6.7" fill="rgba(255,255,255,0.012)" stroke="rgba(0,0,0,0.065)" stroke-width="0.8"/>
<path d="M1165.6,12.1 h19.2 v2.4 h3.7 v7.1 h-23.0 Z" fill="rgba(255,255,255,0.012)" stroke="rgba(0,0,0,0.065)" stroke-width="0.8" stroke-linejoin="round"/>
<path d="M1162.8,26.3 h18.1 v9.0 h-14.9 v-2.4 h-3.3 Z" fill="rgba(255,255,255,0.012)" stroke="rgba(0,0,0,0.065)" stroke-width="0.8" stroke-linejoin="round"/>
<path d="M1166.5,38.4 h19.4 v9.8 h-14.9 v-3.9 h-4.5 Z" fill="rgba(255,255,255,0.012)" stroke="rgba(0,0,0,0.065)" stroke-width="0.8" stroke-linejoin="round"/>
<rect x="1192.0" y="38.8" width="7.1" height="5.4" fill="rgba(255,255,255,0.012)" stroke="rgba(0,0,0,0.065)" stroke-width="0.8"/>
<path d="M1167.6,53.2 h18.5 v9.7 h-22.8 v-7.0 h4.3 Z" fill="rgba(255,255,255,0.012)" stroke="rgba(0,0,0,0.065)" stroke-width="0.8" stroke-linejoin="round"/>
<rect x="1195.1" y="53.2" width="5.5" height="7.2" fill="rgba(255,255,255,0.012)" stroke="rgba(0,0,0,0.065)" stroke-width="0.8"/>
<path d="M1164.6,68.4 h21.1 v9.6 h-15.3 v-2.8 h-5.8 Z" fill="rgba(255,255,255,0.012)" stroke="rgba(0,0,0,0.065)" stroke-width="0.8" stroke-linejoin="round"/>
<rect x="1195.9" y="73.1" width="6.9" height="6.7" fill="rgba(255,255,255,0.012)" stroke="rgba(0,0,0,0.065)" stroke-width="0.8"/>
<path d="M1165.4,80.9 h18.6 v11.1 h-13.8 v-3.4 h-4.8 Z" fill="rgba(255,255,255,0.012)" stroke="rgba(0,0,0,0.065)" stroke-width="0.8" stroke-linejoin="round"/>
<path d="M1161.9,96.4 h13.1 v3.6 h5.7 v5.4 h-18.8 Z" fill="rgba(255,255,255,0.012)" stroke="rgba(0,0,0,0.065)" stroke-width="0.8" stroke-linejoin="round"/>
<rect x="1188.3" y="100.9" width="6.7" height="6.2" fill="rgba(255,255,255,0.012)" stroke="rgba(0,0,0,0.065)" stroke-width="0.8"/>
<path d="M1167.5,127.1 h18.5 v10.4 h-22.5 v-7.6 h4.0 Z" fill="rgba(255,255,255,0.012)" stroke="rgba(0,0,0,0.065)" stroke-width="0.8" stroke-linejoin="round"/>
<path d="M1162.9,141.0 h12.9 v3.1 h5.7 v6.6 h-18.6 Z" fill="rgba(255,255,255,0.012)" stroke="rgba(0,0,0,0.065)" stroke-width="0.8" stroke-linejoin="round"/>
<rect x="1191.3" y="141.1" width="7.9" height="5.4" fill="rgba(255,255,255,0.012)" stroke="rgba(0,0,0,0.065)" stroke-width="0.8"/>
<path d="M1161.8,153.8 h12.7 v2.1 h3.7 v8.8 h-16.4 Z" fill="rgba(255,255,255,0.012)" stroke="rgba(0,0,0,0.065)" stroke-width="0.8" stroke-linejoin="round"/>
<path d="M1163.7,169.7 h22.4 v11.3 h-22.4 Z" fill="rgba(255,255,255,0.012)" stroke="rgba(0,0,0,0.065)" stroke-width="0.8" stroke-linejoin="round"/>
<path d="M1162.8,184.2 h21.2 v11.1 h-21.2 Z" fill="rgba(255,255,255,0.012)" stroke="rgba(0,0,0,0.065)" stroke-width="0.8" stroke-linejoin="round"/>
<path d="M1164.5,201.2 h13.2 v8.7 h-16.3 v-5.3 h3.1 Z" fill="rgba(255,255,255,0.012)" stroke="rgba(0,0,0,0.065)" stroke-width="0.8" stroke-linejoin="round"/>
<rect x="1186.9" y="204.6" width="5.6" height="5.5" fill="rgba(255,255,255,0.012)" stroke="rgba(0,0,0,0.065)" stroke-width="0.8"/>
</g>
<path d="M176,0 L479,0 L479,17.3 L284.3,17.3 L282.1,318.3 L230.2,318.3 L232.2,17.3 L176,17.3 Z" fill="#636361"/>
<path d="M479,17.3 L284.3,17.3 L282.1,318.3" fill="none" stroke="rgba(255,255,255,0.12)" stroke-width="0.8"/>
<path d="M646.9,73.6 L702.3,73.6 L702.3,81.5 L757.3,81.5 L754.8,478 L644.4,478 Z" fill="#636361"/>
<path d="M644.4,478 L646.9,73.6 L702.3,73.6 L702.3,81.5 L757.3,81.5 L754.8,478 M702.3,81.5 L701.8,158.8 M646.4,158.8 L756.8,158.8" fill="none" stroke="rgba(255,255,255,0.14)" stroke-width="0.8"/>
<path d="M646.4,158.8 L756.8,158.8 L754.8,478 L644.4,478 Z" fill="rgba(0,0,0,0.045)"/>
<path d="M646.9,73.6 L702.3,73.6 L702.3,81.5 L757.3,81.5 L756.8,158.8 L646.4,158.8 Z" fill="rgba(255,255,255,0.035)"/>
<path d="M232.2,0 L232.2,17.3" stroke="rgba(0,0,0,0.09)" stroke-width="4.5"/>
<path d="M697.6,158.8 L705.6,158.8 L704,478 L695.6,478 Z" fill="rgba(255,255,255,0.05)"/>
<path d="M646.8,322 L757,322.6" stroke="rgba(0,0,0,0.10)" stroke-width="5"/>
<path d="M646.8,115 L757,116" stroke="rgba(0,0,0,0.08)" stroke-width="5"/>
<path d="M283,17.3 L479,17.3" stroke="rgba(255,255,255,0.25)" stroke-width="0.8"/>
<g>
<path d="M664.3,86.4 h22.9 v9.8 h-22.9 Z" fill="rgba(0,0,0,0.05)" stroke="rgba(0,0,0,0.10)" stroke-width="0.8" stroke-linejoin="round"/>
<path d="M671.0,101.2 h13.2 v3.5 h4.1 v5.6 h-17.2 Z" fill="rgba(0,0,0,0.05)" stroke="rgba(0,0,0,0.10)" stroke-width="0.8" stroke-linejoin="round"/>
<path d="M668.7,115.1 h16.2 v9.8 h-16.2 Z" fill="rgba(0,0,0,0.05)" stroke="rgba(0,0,0,0.10)" stroke-width="0.8" stroke-linejoin="round"/>
<path d="M665.8,128.6 h13.0 v3.1 h5.7 v8.2 h-18.8 Z" fill="rgba(0,0,0,0.05)" stroke="rgba(0,0,0,0.10)" stroke-width="0.8" stroke-linejoin="round"/>
<rect x="654.4" y="132.6" width="6.3" height="6.7" fill="rgba(0,0,0,0.05)" stroke="rgba(0,0,0,0.10)" stroke-width="0.8"/>
<path d="M669.4,145.2 h15.4 v8.5 h-19.6 v-5.2 h4.2 Z" fill="rgba(0,0,0,0.05)" stroke="rgba(0,0,0,0.10)" stroke-width="0.8" stroke-linejoin="round"/>
<path d="M661.3,157.7 h22.7 v11.4 h-17.9 v-2.6 h-4.8 Z" fill="rgba(0,0,0,0.05)" stroke="rgba(0,0,0,0.10)" stroke-width="0.8" stroke-linejoin="round"/>
<rect x="642.7" y="161.8" width="8.2" height="7.0" fill="rgba(0,0,0,0.05)" stroke="rgba(0,0,0,0.10)" stroke-width="0.8"/>
<path d="M664.0,175.0 h17.0 v3.2 h3.8 v6.2 h-20.8 Z" fill="rgba(0,0,0,0.05)" stroke="rgba(0,0,0,0.10)" stroke-width="0.8" stroke-linejoin="round"/>
<path d="M670.2,188.7 h12.1 v3.5 h5.8 v7.8 h-17.9 Z" fill="rgba(0,0,0,0.05)" stroke="rgba(0,0,0,0.10)" stroke-width="0.8" stroke-linejoin="round"/>
<path d="M664.0,204.4 h22.4 v10.3 h-22.4 Z" fill="rgba(0,0,0,0.05)" stroke="rgba(0,0,0,0.10)" stroke-width="0.8" stroke-linejoin="round"/>
<rect x="646.9" y="206.6" width="6.0" height="5.3" fill="rgba(0,0,0,0.05)" stroke="rgba(0,0,0,0.10)" stroke-width="0.8"/>
<path d="M667.3,219.7 h17.8 v10.7 h-17.8 Z" fill="rgba(0,0,0,0.05)" stroke="rgba(0,0,0,0.10)" stroke-width="0.8" stroke-linejoin="round"/>
<rect x="652.5" y="224.3" width="7.3" height="5.7" fill="rgba(0,0,0,0.05)" stroke="rgba(0,0,0,0.10)" stroke-width="0.8"/>
<path d="M662.4,236.2 h23.0 v9.8 h-17.6 v-3.5 h-5.4 Z" fill="rgba(0,0,0,0.05)" stroke="rgba(0,0,0,0.10)" stroke-width="0.8" stroke-linejoin="round"/>
<path d="M670.2,249.9 h17.4 v9.9 h-22.7 v-7.6 h5.2 Z" fill="rgba(0,0,0,0.05)" stroke="rgba(0,0,0,0.10)" stroke-width="0.8" stroke-linejoin="round"/>
<rect x="646.3" y="250.6" width="8.5" height="6.4" fill="rgba(0,0,0,0.05)" stroke="rgba(0,0,0,0.10)" stroke-width="0.8"/>
<path d="M665.4,264.6 h15.5 v3.0 h3.1 v6.3 h-18.6 Z" fill="rgba(0,0,0,0.05)" stroke="rgba(0,0,0,0.10)" stroke-width="0.8" stroke-linejoin="round"/>
<path d="M669.5,279.4 h16.2 v9.9 h-11.1 v-3.5 h-5.2 Z" fill="rgba(0,0,0,0.05)" stroke="rgba(0,0,0,0.10)" stroke-width="0.8" stroke-linejoin="round"/>
<path d="M670.4,292.5 h17.0 v10.9 h-13.4 v-3.0 h-3.6 Z" fill="rgba(0,0,0,0.05)" stroke="rgba(0,0,0,0.10)" stroke-width="0.8" stroke-linejoin="round"/>
<rect x="651.7" y="293.7" width="8.3" height="6.2" fill="rgba(0,0,0,0.05)" stroke="rgba(0,0,0,0.10)" stroke-width="0.8"/>
<path d="M660.6,329.9 h22.3 v10.3 h-17.0 v-3.3 h-5.3 Z" fill="rgba(0,0,0,0.05)" stroke="rgba(0,0,0,0.10)" stroke-width="0.8" stroke-linejoin="round"/>
<path d="M667.0,344.3 h11.6 v3.5 h5.0 v7.8 h-16.7 Z" fill="rgba(0,0,0,0.05)" stroke="rgba(0,0,0,0.10)" stroke-width="0.8" stroke-linejoin="round"/>
<path d="M664.1,360.9 h22.7 v11.3 h-17.7 v-3.1 h-5.1 Z" fill="rgba(0,0,0,0.05)" stroke="rgba(0,0,0,0.10)" stroke-width="0.8" stroke-linejoin="round"/>
<rect x="650.2" y="362.2" width="5.5" height="6.2" fill="rgba(0,0,0,0.05)" stroke="rgba(0,0,0,0.10)" stroke-width="0.8"/>
<path d="M664.7,376.0 h19.9 v10.8 h-16.4 v-3.8 h-3.5 Z" fill="rgba(0,0,0,0.05)" stroke="rgba(0,0,0,0.10)" stroke-width="0.8" stroke-linejoin="round"/>
<path d="M665.7,392.7 h17.0 v10.2 h-12.8 v-3.1 h-4.2 Z" fill="rgba(0,0,0,0.05)" stroke="rgba(0,0,0,0.10)" stroke-width="0.8" stroke-linejoin="round"/>
<rect x="653.0" y="395.8" width="5.7" height="5.3" fill="rgba(0,0,0,0.05)" stroke="rgba(0,0,0,0.10)" stroke-width="0.8"/>
<path d="M663.0,407.4 h22.6 v10.6 h-16.8 v-3.3 h-5.8 Z" fill="rgba(0,0,0,0.05)" stroke="rgba(0,0,0,0.10)" stroke-width="0.8" stroke-linejoin="round"/>
<path d="M667.3,422.8 h18.5 v10.3 h-18.5 Z" fill="rgba(0,0,0,0.05)" stroke="rgba(0,0,0,0.10)" stroke-width="0.8" stroke-linejoin="round"/>
<rect x="655.8" y="425.3" width="5.0" height="6.4" fill="rgba(0,0,0,0.05)" stroke="rgba(0,0,0,0.10)" stroke-width="0.8"/>
<path d="M667.8,436.0 h16.1 v10.5 h-21.9 v-6.5 h5.8 Z" fill="rgba(0,0,0,0.05)" stroke="rgba(0,0,0,0.10)" stroke-width="0.8" stroke-linejoin="round"/>
<path d="M666.0,449.0 h12.4 v3.1 h3.9 v6.6 h-16.3 Z" fill="rgba(0,0,0,0.05)" stroke="rgba(0,0,0,0.10)" stroke-width="0.8" stroke-linejoin="round"/>
<path d="M666.9,464.5 h20.1 v11.0 h-20.1 Z" fill="rgba(0,0,0,0.05)" stroke="rgba(0,0,0,0.10)" stroke-width="0.8" stroke-linejoin="round"/>
<rect x="647.5" y="467.1" width="8.3" height="5.7" fill="rgba(0,0,0,0.05)" stroke="rgba(0,0,0,0.10)" stroke-width="0.8"/>
<path d="M717.4,88.9 h13.3 v4.0 h5.5 v6.6 h-18.8 Z" fill="rgba(0,0,0,0.05)" stroke="rgba(0,0,0,0.10)" stroke-width="0.8" stroke-linejoin="round"/>
<path d="M720.3,102.9 h17.0 v9.6 h-17.0 Z" fill="rgba(0,0,0,0.05)" stroke="rgba(0,0,0,0.10)" stroke-width="0.8" stroke-linejoin="round"/>
<path d="M719.7,117.3 h13.1 v3.8 h4.1 v6.9 h-17.1 Z" fill="rgba(0,0,0,0.05)" stroke="rgba(0,0,0,0.10)" stroke-width="0.8" stroke-linejoin="round"/>
<rect x="745.9" y="121.3" width="5.6" height="5.4" fill="rgba(0,0,0,0.05)" stroke="rgba(0,0,0,0.10)" stroke-width="0.8"/>
<path d="M719.6,131.0 h15.3 v3.1 h4.2 v7.1 h-19.5 Z" fill="rgba(0,0,0,0.05)" stroke="rgba(0,0,0,0.10)" stroke-width="0.8" stroke-linejoin="round"/>
<rect x="749.5" y="132.2" width="6.5" height="5.6" fill="rgba(0,0,0,0.05)" stroke="rgba(0,0,0,0.10)" stroke-width="0.8"/>
<path d="M719.1,146.6 h17.7 v8.8 h-17.7 Z" fill="rgba(0,0,0,0.05)" stroke="rgba(0,0,0,0.10)" stroke-width="0.8" stroke-linejoin="round"/>
<rect x="745.0" y="149.1" width="7.3" height="7.1" fill="rgba(0,0,0,0.05)" stroke="rgba(0,0,0,0.10)" stroke-width="0.8"/>
<path d="M717.0,161.1 h17.0 v2.7 h3.2 v6.4 h-20.2 Z" fill="rgba(0,0,0,0.05)" stroke="rgba(0,0,0,0.10)" stroke-width="0.8" stroke-linejoin="round"/>
<path d="M721.3,174.2 h18.2 v10.0 h-14.4 v-2.3 h-3.7 Z" fill="rgba(0,0,0,0.05)" stroke="rgba(0,0,0,0.10)" stroke-width="0.8" stroke-linejoin="round"/>
<rect x="747.5" y="175.0" width="8.2" height="6.8" fill="rgba(0,0,0,0.05)" stroke="rgba(0,0,0,0.10)" stroke-width="0.8"/>
<path d="M719.8,186.9 h13.4 v3.3 h3.5 v7.8 h-16.9 Z" fill="rgba(0,0,0,0.05)" stroke="rgba(0,0,0,0.10)" stroke-width="0.8" stroke-linejoin="round"/>
<path d="M724.6,201.6 h12.2 v10.7 h-16.7 v-8.4 h4.5 Z" fill="rgba(0,0,0,0.05)" stroke="rgba(0,0,0,0.10)" stroke-width="0.8" stroke-linejoin="round"/>
<path d="M716.4,217.1 h13.0 v2.8 h3.7 v8.4 h-16.6 Z" fill="rgba(0,0,0,0.05)" stroke="rgba(0,0,0,0.10)" stroke-width="0.8" stroke-linejoin="round"/>
<rect x="740.4" y="218.4" width="7.4" height="7.5" fill="rgba(0,0,0,0.05)" stroke="rgba(0,0,0,0.10)" stroke-width="0.8"/>
<path d="M719.7,233.2 h13.3 v2.3 h4.3 v7.4 h-17.6 Z" fill="rgba(0,0,0,0.05)" stroke="rgba(0,0,0,0.10)" stroke-width="0.8" stroke-linejoin="round"/>
<path d="M723.2,248.8 h18.0 v8.8 h-22.4 v-6.4 h4.5 Z" fill="rgba(0,0,0,0.05)" stroke="rgba(0,0,0,0.10)" stroke-width="0.8" stroke-linejoin="round"/>
<path d="M720.2,263.0 h18.0 v11.3 h-13.6 v-2.3 h-4.4 Z" fill="rgba(0,0,0,0.05)" stroke="rgba(0,0,0,0.10)" stroke-width="0.8" stroke-linejoin="round"/>
<rect x="747.3" y="267.9" width="7.4" height="6.7" fill="rgba(0,0,0,0.05)" stroke="rgba(0,0,0,0.10)" stroke-width="0.8"/>
<path d="M720.6,276.9 h17.0 v10.9 h-21.0 v-8.8 h4.0 Z" fill="rgba(0,0,0,0.05)" stroke="rgba(0,0,0,0.10)" stroke-width="0.8" stroke-linejoin="round"/>
<path d="M719.6,291.6 h20.9 v9.6 h-17.0 v-4.0 h-3.8 Z" fill="rgba(0,0,0,0.05)" stroke="rgba(0,0,0,0.10)" stroke-width="0.8" stroke-linejoin="round"/>
<rect x="751.5" y="294.7" width="5.3" height="6.8" fill="rgba(0,0,0,0.05)" stroke="rgba(0,0,0,0.10)" stroke-width="0.8"/>
<path d="M716.5,304.2 h18.0 v3.3 h4.1 v7.3 h-22.1 Z" fill="rgba(0,0,0,0.05)" stroke="rgba(0,0,0,0.10)" stroke-width="0.8" stroke-linejoin="round"/>
<rect x="750.6" y="305.8" width="6.2" height="7.2" fill="rgba(0,0,0,0.05)" stroke="rgba(0,0,0,0.10)" stroke-width="0.8"/>
<path d="M725.6,332.1 h17.1 v10.3 h-22.1 v-6.4 h4.9 Z" fill="rgba(0,0,0,0.05)" stroke="rgba(0,0,0,0.10)" stroke-width="0.8" stroke-linejoin="round"/>
<rect x="750.1" y="334.0" width="6.8" height="6.2" fill="rgba(0,0,0,0.05)" stroke="rgba(0,0,0,0.10)" stroke-width="0.8"/>
<path d="M717.1,346.7 h20.1 v9.2 h-15.6 v-3.0 h-4.5 Z" fill="rgba(0,0,0,0.05)" stroke="rgba(0,0,0,0.10)" stroke-width="0.8" stroke-linejoin="round"/>
<path d="M719.5,359.0 h19.7 v9.3 h-14.6 v-3.6 h-5.1 Z" fill="rgba(0,0,0,0.05)" stroke="rgba(0,0,0,0.10)" stroke-width="0.8" stroke-linejoin="round"/>
<rect x="746.9" y="360.5" width="8.2" height="6.3" fill="rgba(0,0,0,0.05)" stroke="rgba(0,0,0,0.10)" stroke-width="0.8"/>
<path d="M718.0,372.2 h21.0 v11.0 h-15.8 v-2.4 h-5.2 Z" fill="rgba(0,0,0,0.05)" stroke="rgba(0,0,0,0.10)" stroke-width="0.8" stroke-linejoin="round"/>
<rect x="749.2" y="375.9" width="6.1" height="5.9" fill="rgba(0,0,0,0.05)" stroke="rgba(0,0,0,0.10)" stroke-width="0.8"/>
<path d="M723.8,386.4 h12.6 v10.9 h-17.6 v-7.6 h5.0 Z" fill="rgba(0,0,0,0.05)" stroke="rgba(0,0,0,0.10)" stroke-width="0.8" stroke-linejoin="round"/>
<rect x="741.6" y="391.2" width="5.2" height="5.9" fill="rgba(0,0,0,0.05)" stroke="rgba(0,0,0,0.10)" stroke-width="0.8"/>
<path d="M719.5,401.6 h17.0 v2.7 h3.7 v8.7 h-20.7 Z" fill="rgba(0,0,0,0.05)" stroke="rgba(0,0,0,0.10)" stroke-width="0.8" stroke-linejoin="round"/>
<path d="M716.7,418.1 h19.4 v9.6 h-19.4 Z" fill="rgba(0,0,0,0.05)" stroke="rgba(0,0,0,0.10)" stroke-width="0.8" stroke-linejoin="round"/>
<path d="M716.8,433.2 h13.2 v2.4 h5.9 v7.4 h-19.1 Z" fill="rgba(0,0,0,0.05)" stroke="rgba(0,0,0,0.10)" stroke-width="0.8" stroke-linejoin="round"/>
<rect x="743.2" y="437.5" width="8.2" height="7.1" fill="rgba(0,0,0,0.05)" stroke="rgba(0,0,0,0.10)" stroke-width="0.8"/>
<path d="M719.1,448.6 h19.0 v9.1 h-19.0 Z" fill="rgba(0,0,0,0.05)" stroke="rgba(0,0,0,0.10)" stroke-width="0.8" stroke-linejoin="round"/>
<path d="M715.2,461.6 h16.0 v2.8 h4.2 v6.5 h-20.2 Z" fill="rgba(0,0,0,0.05)" stroke="rgba(0,0,0,0.10)" stroke-width="0.8" stroke-linejoin="round"/>
<rect x="745.1" y="464.7" width="7.7" height="5.8" fill="rgba(0,0,0,0.05)" stroke="rgba(0,0,0,0.10)" stroke-width="0.8"/>
<path d="M236.3,21.1 h16.4 v10.3 h-16.4 Z" fill="rgba(0,0,0,0.05)" stroke="rgba(0,0,0,0.10)" stroke-width="0.8" stroke-linejoin="round"/>
<rect x="259.9" y="21.3" width="7.1" height="6.4" fill="rgba(0,0,0,0.05)" stroke="rgba(0,0,0,0.10)" stroke-width="0.8"/>
<path d="M236.9,35.1 h16.2 v10.3 h-12.9 v-2.4 h-3.4 Z" fill="rgba(0,0,0,0.05)" stroke="rgba(0,0,0,0.10)" stroke-width="0.8" stroke-linejoin="round"/>
<path d="M238.2,49.1 h13.8 v3.7 h3.7 v5.1 h-17.5 Z" fill="rgba(0,0,0,0.05)" stroke="rgba(0,0,0,0.10)" stroke-width="0.8" stroke-linejoin="round"/>
<path d="M237.6,61.8 h13.2 v10.9 h-9.4 v-3.6 h-3.8 Z" fill="rgba(0,0,0,0.05)" stroke="rgba(0,0,0,0.10)" stroke-width="0.8" stroke-linejoin="round"/>
<path d="M237.0,75.4 h14.9 v9.2 h-9.6 v-3.7 h-5.3 Z" fill="rgba(0,0,0,0.05)" stroke="rgba(0,0,0,0.10)" stroke-width="0.8" stroke-linejoin="round"/>
<rect x="258.7" y="79.1" width="7.8" height="5.3" fill="rgba(0,0,0,0.05)" stroke="rgba(0,0,0,0.10)" stroke-width="0.8"/>
<path d="M236.4,88.6 h14.3 v2.0 h3.6 v6.8 h-18.0 Z" fill="rgba(0,0,0,0.05)" stroke="rgba(0,0,0,0.10)" stroke-width="0.8" stroke-linejoin="round"/>
<rect x="263.0" y="90.0" width="6.3" height="6.1" fill="rgba(0,0,0,0.05)" stroke="rgba(0,0,0,0.10)" stroke-width="0.8"/>
<path d="M235.5,102.3 h15.6 v11.4 h-11.0 v-3.0 h-4.5 Z" fill="rgba(0,0,0,0.05)" stroke="rgba(0,0,0,0.10)" stroke-width="0.8" stroke-linejoin="round"/>
<path d="M235.9,117.0 h12.5 v3.1 h4.8 v6.4 h-17.4 Z" fill="rgba(0,0,0,0.05)" stroke="rgba(0,0,0,0.10)" stroke-width="0.8" stroke-linejoin="round"/>
<rect x="259.1" y="120.3" width="8.3" height="5.9" fill="rgba(0,0,0,0.05)" stroke="rgba(0,0,0,0.10)" stroke-width="0.8"/>
<path d="M237.4,130.9 h14.6 v9.5 h-14.6 Z" fill="rgba(0,0,0,0.05)" stroke="rgba(0,0,0,0.10)" stroke-width="0.8" stroke-linejoin="round"/>
<rect x="261.6" y="134.3" width="6.4" height="5.4" fill="rgba(0,0,0,0.05)" stroke="rgba(0,0,0,0.10)" stroke-width="0.8"/>
<path d="M237.1,144.5 h15.0 v9.2 h-10.7 v-3.7 h-4.4 Z" fill="rgba(0,0,0,0.05)" stroke="rgba(0,0,0,0.10)" stroke-width="0.8" stroke-linejoin="round"/>
<path d="M236.8,156.3 h14.1 v11.4 h-9.1 v-3.0 h-5.0 Z" fill="rgba(0,0,0,0.05)" stroke="rgba(0,0,0,0.10)" stroke-width="0.8" stroke-linejoin="round"/>
<rect x="260.7" y="157.6" width="5.6" height="6.6" fill="rgba(0,0,0,0.05)" stroke="rgba(0,0,0,0.10)" stroke-width="0.8"/>
<path d="M239.7,172.4 h9.2 v10.3 h-13.7 v-7.7 h4.5 Z" fill="rgba(0,0,0,0.05)" stroke="rgba(0,0,0,0.10)" stroke-width="0.8" stroke-linejoin="round"/>
<rect x="254.8" y="174.0" width="6.7" height="6.5" fill="rgba(0,0,0,0.05)" stroke="rgba(0,0,0,0.10)" stroke-width="0.8"/>
<path d="M236.9,187.6 h15.7 v10.4 h-11.0 v-2.4 h-4.7 Z" fill="rgba(0,0,0,0.05)" stroke="rgba(0,0,0,0.10)" stroke-width="0.8" stroke-linejoin="round"/>
<path d="M241.7,202.5 h10.9 v9.6 h-16.8 v-5.9 h5.9 Z" fill="rgba(0,0,0,0.05)" stroke="rgba(0,0,0,0.10)" stroke-width="0.8" stroke-linejoin="round"/>
<rect x="264.1" y="207.3" width="7.1" height="5.1" fill="rgba(0,0,0,0.05)" stroke="rgba(0,0,0,0.10)" stroke-width="0.8"/>
<path d="M234.9,217.1 h8.9 v3.0 h5.5 v8.0 h-14.3 Z" fill="rgba(0,0,0,0.05)" stroke="rgba(0,0,0,0.10)" stroke-width="0.8" stroke-linejoin="round"/>
<path d="M235.9,232.2 h17.2 v10.6 h-17.2 Z" fill="rgba(0,0,0,0.05)" stroke="rgba(0,0,0,0.10)" stroke-width="0.8" stroke-linejoin="round"/>
<rect x="258.5" y="232.6" width="5.1" height="5.8" fill="rgba(0,0,0,0.05)" stroke="rgba(0,0,0,0.10)" stroke-width="0.8"/>
<path d="M235.1,247.4 h13.6 v9.0 h-13.6 Z" fill="rgba(0,0,0,0.05)" stroke="rgba(0,0,0,0.10)" stroke-width="0.8" stroke-linejoin="round"/>
<path d="M235.0,262.4 h15.2 v10.9 h-15.2 Z" fill="rgba(0,0,0,0.05)" stroke="rgba(0,0,0,0.10)" stroke-width="0.8" stroke-linejoin="round"/>
<rect x="259.1" y="265.5" width="5.3" height="7.3" fill="rgba(0,0,0,0.05)" stroke="rgba(0,0,0,0.10)" stroke-width="0.8"/>
<path d="M235.5,278.8 h8.4 v2.9 h5.4 v7.7 h-13.7 Z" fill="rgba(0,0,0,0.05)" stroke="rgba(0,0,0,0.10)" stroke-width="0.8" stroke-linejoin="round"/>
<path d="M234.7,292.9 h11.6 v2.8 h5.1 v8.2 h-16.7 Z" fill="rgba(0,0,0,0.05)" stroke="rgba(0,0,0,0.10)" stroke-width="0.8" stroke-linejoin="round"/>
<rect x="260.0" y="295.4" width="8.3" height="5.9" fill="rgba(0,0,0,0.05)" stroke="rgba(0,0,0,0.10)" stroke-width="0.8"/>
<path d="M236.6,306.5 h16.8 v10.7 h-12.7 v-2.4 h-4.1 Z" fill="rgba(0,0,0,0.05)" stroke="rgba(0,0,0,0.10)" stroke-width="0.8" stroke-linejoin="round"/>
<path d="M265.0,22.6 h15.6 v9.0 h-15.6 Z" fill="rgba(0,0,0,0.05)" stroke="rgba(0,0,0,0.10)" stroke-width="0.8" stroke-linejoin="round"/>
<rect x="246.8" y="23.1" width="7.5" height="5.9" fill="rgba(0,0,0,0.05)" stroke="rgba(0,0,0,0.10)" stroke-width="0.8"/>
<path d="M266.0,35.1 h16.2 v9.9 h-11.4 v-2.4 h-4.7 Z" fill="rgba(0,0,0,0.05)" stroke="rgba(0,0,0,0.10)" stroke-width="0.8" stroke-linejoin="round"/>
<rect x="247.4" y="37.8" width="7.8" height="5.6" fill="rgba(0,0,0,0.05)" stroke="rgba(0,0,0,0.10)" stroke-width="0.8"/>
<path d="M264.8,49.6 h16.1 v8.9 h-16.1 Z" fill="rgba(0,0,0,0.05)" stroke="rgba(0,0,0,0.10)" stroke-width="0.8" stroke-linejoin="round"/>
<path d="M265.1,63.8 h15.2 v10.5 h-11.6 v-2.2 h-3.6 Z" fill="rgba(0,0,0,0.05)" stroke="rgba(0,0,0,0.10)" stroke-width="0.8" stroke-linejoin="round"/>
<path d="M271.3,77.4 h10.7 v11.1 h-14.1 v-8.7 h3.4 Z" fill="rgba(0,0,0,0.05)" stroke="rgba(0,0,0,0.10)" stroke-width="0.8" stroke-linejoin="round"/>
<rect x="253.1" y="79.9" width="6.7" height="6.3" fill="rgba(0,0,0,0.05)" stroke="rgba(0,0,0,0.10)" stroke-width="0.8"/>
<path d="M272.5,93.9 h10.0 v11.3 h-13.1 v-7.8 h3.1 Z" fill="rgba(0,0,0,0.05)" stroke="rgba(0,0,0,0.10)" stroke-width="0.8" stroke-linejoin="round"/>
<path d="M267.6,108.5 h13.2 v9.4 h-16.9 v-6.3 h3.7 Z" fill="rgba(0,0,0,0.05)" stroke="rgba(0,0,0,0.10)" stroke-width="0.8" stroke-linejoin="round"/>
<rect x="247.7" y="111.9" width="6.7" height="5.2" fill="rgba(0,0,0,0.05)" stroke="rgba(0,0,0,0.10)" stroke-width="0.8"/>
<path d="M266.8,120.9 h10.2 v3.7 h5.5 v7.0 h-15.8 Z" fill="rgba(0,0,0,0.05)" stroke="rgba(0,0,0,0.10)" stroke-width="0.8" stroke-linejoin="round"/>
<rect x="255.9" y="123.4" width="5.3" height="5.6" fill="rgba(0,0,0,0.05)" stroke="rgba(0,0,0,0.10)" stroke-width="0.8"/>
<path d="M267.2,135.0 h9.1 v3.4 h5.4 v6.4 h-14.5 Z" fill="rgba(0,0,0,0.05)" stroke="rgba(0,0,0,0.10)" stroke-width="0.8" stroke-linejoin="round"/>
<rect x="256.4" y="138.5" width="5.0" height="5.8" fill="rgba(0,0,0,0.05)" stroke="rgba(0,0,0,0.10)" stroke-width="0.8"/>
<path d="M264.7,150.1 h18.0 v9.1 h-18.0 Z" fill="rgba(0,0,0,0.05)" stroke="rgba(0,0,0,0.10)" stroke-width="0.8" stroke-linejoin="round"/>
<rect x="246.9" y="152.7" width="6.1" height="5.2" fill="rgba(0,0,0,0.05)" stroke="rgba(0,0,0,0.10)" stroke-width="0.8"/>
<path d="M265.0,163.3 h15.2 v10.8 h-10.8 v-2.4 h-4.4 Z" fill="rgba(0,0,0,0.05)" stroke="rgba(0,0,0,0.10)" stroke-width="0.8" stroke-linejoin="round"/>
<path d="M269.6,178.0 h11.6 v10.2 h-16.3 v-7.7 h4.7 Z" fill="rgba(0,0,0,0.05)" stroke="rgba(0,0,0,0.10)" stroke-width="0.8" stroke-linejoin="round"/>
<path d="M267.8,191.0 h11.8 v11.1 h-14.8 v-7.9 h3.0 Z" fill="rgba(0,0,0,0.05)" stroke="rgba(0,0,0,0.10)" stroke-width="0.8" stroke-linejoin="round"/>
<path d="M271.8,206.3 h8.5 v9.4 h-13.7 v-7.0 h5.2 Z" fill="rgba(0,0,0,0.05)" stroke="rgba(0,0,0,0.10)" stroke-width="0.8" stroke-linejoin="round"/>
<path d="M268.3,220.5 h8.3 v2.7 h4.8 v7.2 h-13.1 Z" fill="rgba(0,0,0,0.05)" stroke="rgba(0,0,0,0.10)" stroke-width="0.8" stroke-linejoin="round"/>
<path d="M263.7,233.8 h17.0 v9.4 h-17.0 Z" fill="rgba(0,0,0,0.05)" stroke="rgba(0,0,0,0.10)" stroke-width="0.8" stroke-linejoin="round"/>
<rect x="245.4" y="235.6" width="8.3" height="5.1" fill="rgba(0,0,0,0.05)" stroke="rgba(0,0,0,0.10)" stroke-width="0.8"/>
<path d="M266.0,246.3 h15.0 v10.0 h-11.6 v-3.0 h-3.4 Z" fill="rgba(0,0,0,0.05)" stroke="rgba(0,0,0,0.10)" stroke-width="0.8" stroke-linejoin="round"/>
<path d="M264.1,260.2 h15.2 v9.2 h-15.2 Z" fill="rgba(0,0,0,0.05)" stroke="rgba(0,0,0,0.10)" stroke-width="0.8" stroke-linejoin="round"/>
<rect x="250.7" y="260.4" width="7.6" height="5.7" fill="rgba(0,0,0,0.05)" stroke="rgba(0,0,0,0.10)" stroke-width="0.8"/>
<path d="M263.4,273.4 h12.1 v2.6 h5.3 v6.6 h-17.4 Z" fill="rgba(0,0,0,0.05)" stroke="rgba(0,0,0,0.10)" stroke-width="0.8" stroke-linejoin="round"/>
<path d="M263.6,286.5 h13.0 v2.8 h4.7 v8.4 h-17.7 Z" fill="rgba(0,0,0,0.05)" stroke="rgba(0,0,0,0.10)" stroke-width="0.8" stroke-linejoin="round"/>
<path d="M265.3,303.4 h11.3 v3.8 h3.2 v6.4 h-14.5 Z" fill="rgba(0,0,0,0.05)" stroke="rgba(0,0,0,0.10)" stroke-width="0.8" stroke-linejoin="round"/>
<rect x="250.2" y="304.1" width="7.5" height="5.0" fill="rgba(0,0,0,0.05)" stroke="rgba(0,0,0,0.10)" stroke-width="0.8"/>
</g>
<g id="parcels" stroke-width="0.9">
<rect x="284.0" y="69.0" width="41.5" height="22.0" fill="#5b9b4b" stroke="#d6e6d0"/>
<rect x="349.0" y="31.0" width="31.3" height="15.3" fill="#5b9b4b" stroke="#d6e6d0"/>
<rect x="348.5" y="46.8" width="32.2" height="22.8" fill="#d3b64d" stroke="#f1e9cc"/>
<rect x="442.6" y="32.0" width="24.8" height="11.7" fill="#5b9b4b" stroke="#d6e6d0"/>
<rect x="424.0" y="56.5" width="42.4" height="22.5" fill="#5b9b4b" stroke="#d6e6d0"/>
<rect x="424.0" y="79.7" width="42.4" height="21.9" fill="#5b9b4b" stroke="#d6e6d0"/>
<rect x="492.0" y="11.4" width="43.4" height="22.6" fill="#5b9b4b" stroke="#d6e6d0"/>
<rect x="535.4" y="34.3" width="43.1" height="22.9" fill="#5b9b4b" stroke="#d6e6d0"/>
<rect x="491.3" y="127.8" width="43.1" height="14.5" fill="#5b9b4b" stroke="#d6e6d0"/>
<rect x="283.8" y="146.6" width="41.2" height="12.4" fill="#5b9b4b" stroke="#d6e6d0"/>
<rect x="283.8" y="159.7" width="41.2" height="14.5" fill="#5b9b4b" stroke="#d6e6d0"/>
<rect x="348.4" y="137.5" width="40.6" height="22.5" fill="#5b9b4b" stroke="#d6e6d0"/>
<rect x="423.4" y="149.6" width="43.0" height="18.5" fill="#566d94" stroke="#d0d6e3"/>
<rect x="423.4" y="168.8" width="43.0" height="17.5" fill="#566d94" stroke="#d0d6e3"/>
<rect x="423.4" y="200.8" width="42.4" height="16.8" fill="#5b9b4b" stroke="#d6e6d0"/>
<rect x="490.7" y="195.7" width="43.3" height="22.6" fill="#5b9b4b" stroke="#d6e6d0"/>
<rect x="534.4" y="188.7" width="42.6" height="14.8" fill="#5b9b4b" stroke="#d6e6d0"/>
<rect x="282.8" y="273.7" width="41.7" height="14.5" fill="#5b9b4b" stroke="#d6e6d0"/>
<rect x="490.6" y="282.9" width="36.7" height="26.5" fill="#5b9b4b" stroke="#d6e6d0"/>
<rect x="542.6" y="276.8" width="14.7" height="32.6" fill="#5b9b4b" stroke="#d6e6d0"/>
<rect x="557.8" y="277.4" width="19.1" height="32.0" fill="#5b9b4b" stroke="#d6e6d0"/>
<rect x="387.7" y="331.5" width="22.9" height="29.5" fill="#5b9b4b" stroke="#d6e6d0"/>
<rect x="422.4" y="329.0" width="13.8" height="30.0" fill="#5b9b4b" stroke="#d6e6d0"/>
<rect x="421.4" y="397.7" width="43.0" height="22.3" fill="#5b9b4b" stroke="#d6e6d0"/>
<rect x="345.3" y="406.5" width="42.1" height="15.1" fill="#5b9b4b" stroke="#d6e6d0"/>
<rect x="345.3" y="422.3" width="42.1" height="14.8" fill="#d3b64d" stroke="#f1e9cc"/>
<rect x="360.5" y="443.8" width="12.8" height="36.2" fill="#5b9b4b" stroke="#d6e6d0"/>
<rect x="533.4" y="329.8" width="42.7" height="22.5" fill="#5b9b4b" stroke="#d6e6d0"/>
<rect x="489.7" y="375.2" width="43.0" height="22.2" fill="#5b9b4b" stroke="#d6e6d0"/>
<rect x="532.4" y="398.0" width="43.0" height="22.6" fill="#5b9b4b" stroke="#d6e6d0"/>
<rect x="714.8" y="-2.0" width="43.0" height="15.5" fill="#566d94" stroke="#d0d6e3"/>
<rect x="758.5" y="-2.0" width="43.0" height="15.5" fill="#566d94" stroke="#d0d6e3"/>
<rect x="658.6" y="58.5" width="30.9" height="14.5" fill="#5b9b4b" stroke="#d6e6d0"/>
<rect x="848.6" y="82.4" width="22.9" height="22.9" fill="#5b9b4b" stroke="#d6e6d0"/>
<rect x="887.7" y="130.5" width="29.6" height="22.5" fill="#5b9b4b" stroke="#d6e6d0"/>
<rect x="602.0" y="196.3" width="43.0" height="22.9" fill="#5b9b4b" stroke="#d6e6d0"/>
<rect x="602.0" y="219.9" width="43.0" height="10.1" fill="#5b9b4b" stroke="#d6e6d0"/>
<rect x="602.0" y="230.6" width="43.0" height="11.1" fill="#566d94" stroke="#d0d6e3"/>
<rect x="757.1" y="175.1" width="42.8" height="14.5" fill="#5b9b4b" stroke="#d6e6d0"/>
<rect x="825.1" y="175.5" width="45.4" height="14.8" fill="#5b9b4b" stroke="#d6e6d0"/>
<rect x="825.1" y="191.0" width="45.4" height="14.4" fill="#5b9b4b" stroke="#d6e6d0"/>
<rect x="824.8" y="221.2" width="45.4" height="14.5" fill="#d3b64d" stroke="#f1e9cc"/>
<rect x="870.8" y="221.9" width="45.1" height="14.1" fill="#5b9b4b" stroke="#d6e6d0"/>
<rect x="824.8" y="251.8" width="45.4" height="14.5" fill="#5b9b4b" stroke="#d6e6d0"/>
<rect x="889.2" y="266.8" width="26.6" height="45.3" fill="#d3b64d" stroke="#f1e9cc"/>
<rect x="601.4" y="330.8" width="42.7" height="21.9" fill="#5b9b4b" stroke="#d6e6d0"/>
<rect x="600.7" y="375.9" width="43.1" height="15.8" fill="#5b9b4b" stroke="#d6e6d0"/>
<rect x="600.7" y="392.3" width="43.1" height="15.9" fill="#566d94" stroke="#d0d6e3"/>
<rect x="600.7" y="408.8" width="43.1" height="19.9" fill="#566d94" stroke="#d0d6e3"/>
<rect x="755.8" y="331.8" width="18.5" height="37.3" fill="#5b9b4b" stroke="#d6e6d0"/>
<rect x="775.0" y="331.8" width="24.2" height="37.3" fill="#566d94" stroke="#d0d6e3"/>
<rect x="869.8" y="332.5" width="45.5" height="18.5" fill="#5b9b4b" stroke="#d6e6d0"/>
<rect x="869.8" y="351.6" width="45.5" height="16.5" fill="#5b9b4b" stroke="#d6e6d0"/>
<rect x="869.8" y="389.7" width="45.1" height="18.5" fill="#5b9b4b" stroke="#d6e6d0"/>
<rect x="937.6" y="401.3" width="44.8" height="22.2" fill="#566d94" stroke="#d0d6e3"/>
<rect x="823.4" y="423.3" width="45.8" height="22.5" fill="#5b9b4b" stroke="#d6e6d0"/>
<rect x="869.8" y="427.7" width="44.4" height="18.5" fill="#5b9b4b" stroke="#d6e6d0"/>
<rect x="1095.7" y="61.6" width="43.9" height="15.4" fill="#5b9b4b" stroke="#d6e6d0"/>
<rect x="984.6" y="131.4" width="21.0" height="22.3" fill="#d3b64d" stroke="#f1e9cc"/>
<rect x="941.5" y="153.7" width="42.9" height="22.7" fill="#d3b64d" stroke="#f1e9cc"/>
<rect x="984.6" y="176.9" width="42.2" height="22.4" fill="#566d94" stroke="#d0d6e3"/>
<rect x="941.5" y="199.3" width="42.6" height="22.2" fill="#5b9b4b" stroke="#d6e6d0"/>
<rect x="1052.3" y="154.7" width="43.1" height="22.7" fill="#566d94" stroke="#d0d6e3"/>
<rect x="1163.0" y="194.0" width="29.0" height="14.2" fill="#5b9b4b" stroke="#d6e6d0"/>
<rect x="941.5" y="252.6" width="42.1" height="14.4" fill="#5b9b4b" stroke="#d6e6d0"/>
<rect x="941.5" y="267.4" width="42.1" height="14.7" fill="#5b9b4b" stroke="#d6e6d0"/>
<rect x="983.9" y="268.0" width="8.8" height="44.6" fill="#5b9b4b" stroke="#d6e6d0"/>
<rect x="993.5" y="268.0" width="10.8" height="44.6" fill="#5b9b4b" stroke="#d6e6d0"/>
<rect x="1108.8" y="298.7" width="28.2" height="15.2" fill="#566d94" stroke="#d0d6e3"/>
<rect x="998.4" y="333.5" width="14.5" height="29.8" fill="#5b9b4b" stroke="#d6e6d0"/>
<rect x="1013.7" y="333.5" width="14.9" height="29.8" fill="#5b9b4b" stroke="#d6e6d0"/>
<rect x="1051.6" y="333.9" width="44.3" height="16.0" fill="#5b9b4b" stroke="#d6e6d0"/>
<path d="M347.7,160.4 L393.4,160.4 L393.4,179.2 L359.8,179.2 L359.8,182.6 L347.7,182.6 Z" fill="#d3b64d" stroke="#f1e9cc"/>
<path d="M527.6,309.4 L527.6,282.9 L529.7,282.9 L529.7,264.5 L537.8,264.5 L537.8,272.7 L540.5,276.8 L542.3,276.8 L542.3,309.4 Z" fill="#5b9b4b" stroke="#d6e6d0"/>
<path d="M533.7,264.5 L533.7,272.4 L537.8,272.4" fill="none" stroke="#d6e6d0"/>
</g>
<g fill="#e8711f" stroke="#f3d7c3" stroke-width="1">
<circle cx="453" cy="228" r="7.2"/>
<circle cx="362.2" cy="247.1" r="7.2"/>
<circle cx="308.7" cy="266.6" r="7.2"/>
<circle cx="438.2" cy="371.8" r="7.2"/>
<circle cx="674" cy="301" r="7.2"/>
<circle cx="949.7" cy="369.2" r="7.2"/>
<circle cx="956.4" cy="-1" r="7.2"/>
<circle cx="959.7" cy="44.4" r="7.2"/>
</g>
</svg>
<svg id="labels" width="1189" height="478" viewBox="0 0 1189 478" style="position:absolute;left:0;top:0;opacity:0.999;will-change:transform">
<g font-family="Liberation Sans, sans-serif" font-size="10.4" fill="#55697a" stroke="rgba(255,255,255,0.62)" stroke-width="2.6" stroke-linejoin="round" text-anchor="middle" style="paint-order:stroke">
<text x="372.0" y="17.2" textLength="112.0" lengthAdjust="spacing" transform="rotate(0 372.0 13.5)">NORTH 38TH STREET</text>
<text x="136.2" y="13.2" textLength="111.6" lengthAdjust="spacing" transform="rotate(0 136.2 9.4)">NORTH 38TH STREET</text>
<text x="648.5" y="113.8" textLength="111.0" lengthAdjust="spacing" transform="rotate(0.3 648.5 110)">NORTH 37TH STREET</text>
<text x="904.5" y="116.2" textLength="111.0" lengthAdjust="spacing" transform="rotate(0.3 904.5 112.5)">NORTH 37TH STREET</text>
<text x="1160.5" y="118.8" textLength="111.0" lengthAdjust="spacing" transform="rotate(0.3 1160.5 115)">NORTH 37TH STREET</text>
<text x="177.5" y="318.8" textLength="110.0" lengthAdjust="spacing" transform="rotate(1.0 177.5 315)">NORTH 36TH STREET</text>
<text x="392.0" y="319.8" textLength="110.0" lengthAdjust="spacing" transform="rotate(0.3 392.0 316)">NORTH 36TH STREET</text>
<text x="648.5" y="320.8" textLength="111.0" lengthAdjust="spacing" transform="rotate(0.3 648.5 317)">NORTH 36TH STREET</text>
<text x="904.5" y="322.2" textLength="111.0" lengthAdjust="spacing" transform="rotate(0.3 904.5 318.5)">NORTH 36TH STREET</text>
<text x="101.5" y="366.2" textLength="105.0" lengthAdjust="spacing" transform="rotate(-90 101.5 362.5)">STONE WAY NORTH</text>
<text x="105.4" y="184.2" textLength="105.0" lengthAdjust="spacing" transform="rotate(-90 105.4 180.5)">STONE WAY NORTH</text>
<text x="222.3" y="407.2" textLength="143.0" lengthAdjust="spacing" transform="rotate(-90 222.3 403.5)">INTERLAKE AVENUE NORTH</text>
<text x="225.0" y="184.2" textLength="143.0" lengthAdjust="spacing" transform="rotate(-90 225.0 180.5)">INTERLAKE AVENUE NORTH</text>
<text x="334.2" y="186.2" textLength="145.0" lengthAdjust="spacing" transform="rotate(-90 334.2 182.5)">ASHWORTH AVENUE NORTH</text>
<text x="331.6" y="407.2" textLength="151.0" lengthAdjust="spacing" transform="rotate(-90 331.6 403.5)">ASHWORTH AVENUE NORTH</text>
<text x="415.0" y="184.8" textLength="108.0" lengthAdjust="spacing" transform="rotate(-90 415.0 181.0)">CARR PLACE NORTH</text>
<text x="413.0" y="407.2" textLength="106.0" lengthAdjust="spacing" transform="rotate(-90 413.0 403.5)">CARR PLACE NORTH</text>
<text x="474.2" y="184.2" textLength="159.0" lengthAdjust="spacing" transform="rotate(-90 474.2 180.5)">WOODLAWN AVENUE NORTH</text>
<text x="471.6" y="441.8" textLength="159.0" lengthAdjust="spacing" transform="rotate(-90 471.6 438.0)">WOODLAWN AVENUE NORTH</text>
<text x="587.0" y="184.8" textLength="148.0" lengthAdjust="spacing" transform="rotate(-90 587.0 181.0)">DENSMORE AVENUE NORTH</text>
<text x="585.3" y="442.2" textLength="148.0" lengthAdjust="spacing" transform="rotate(-90 585.3 438.5)">DENSMORE AVENUE NORTH</text>
<text x="697.0" y="203.8" textLength="164.0" lengthAdjust="spacing" transform="rotate(-90 697.0 200.0)">WALLINGFORD AVENUE NORTH</text>
<text x="695.0" y="407.8" textLength="164.0" lengthAdjust="spacing" transform="rotate(-90 695.0 404.0)">WALLINGFORD AVENUE NORTH</text>
<text x="808.0" y="184.8" textLength="122.0" lengthAdjust="spacing" transform="rotate(-90 808.0 181.0)">BURKE AVENUE NORTH</text>
<text x="806.0" y="414.8" textLength="122.0" lengthAdjust="spacing" transform="rotate(-90 806.0 411.0)">BURKE AVENUE NORTH</text>
<text x="922.3" y="216.2" textLength="139.0" lengthAdjust="spacing" transform="rotate(-90 922.3 212.5)">MERIDIAN AVENUE NORTH</text>
<text x="920.8" y="407.8" textLength="142.0" lengthAdjust="spacing" transform="rotate(-90 920.8 404.0)">MERIDIAN AVENUE NORTH</text>
<text x="1146.0" y="217.8" textLength="132.0" lengthAdjust="spacing" transform="rotate(90 1146.0 214.0)">CORLISS AVENUE NORTH</text>
<text x="1183" y="258.5" transform="rotate(-51 1183 255)" letter-spacing="0.6">NORTH</text>
<text x="130" y="474.5" transform="rotate(14.5 130 471)" text-anchor="start" letter-spacing="0.5">NORTH 34TH</text>
</g>
<g font-family="Liberation Sans, sans-serif" font-size="10.4" fill="#55697a" stroke="#55697a" stroke-width="0.1" text-anchor="middle">
<text x="372.0" y="17.2" textLength="112.0" lengthAdjust="spacing" transform="rotate(0 372.0 13.5)">NORTH 38TH STREET</text>
<text x="136.2" y="13.2" textLength="111.6" lengthAdjust="spacing" transform="rotate(0 136.2 9.4)">NORTH 38TH STREET</text>
<text x="648.5" y="113.8" textLength="111.0" lengthAdjust="spacing" transform="rotate(0.3 648.5 110)">NORTH 37TH STREET</text>
<text x="904.5" y="116.2" textLength="111.0" lengthAdjust="spacing" transform="rotate(0.3 904.5 112.5)">NORTH 37TH STREET</text>
<text x="1160.5" y="118.8" textLength="111.0" lengthAdjust="spacing" transform="rotate(0.3 1160.5 115)">NORTH 37TH STREET</text>
<text x="177.5" y="318.8" textLength="110.0" lengthAdjust="spacing" transform="rotate(1.0 177.5 315)">NORTH 36TH STREET</text>
<text x="392.0" y="319.8" textLength="110.0" lengthAdjust="spacing" transform="rotate(0.3 392.0 316)">NORTH 36TH STREET</text>
<text x="648.5" y="320.8" textLength="111.0" lengthAdjust="spacing" transform="rotate(0.3 648.5 317)">NORTH 36TH STREET</text>
<text x="904.5" y="322.2" textLength="111.0" lengthAdjust="spacing" transform="rotate(0.3 904.5 318.5)">NORTH 36TH STREET</text>
<text x="101.5" y="366.2" textLength="105.0" lengthAdjust="spacing" transform="rotate(-90 101.5 362.5)">STONE WAY NORTH</text>
<text x="105.4" y="184.2" textLength="105.0" lengthAdjust="spacing" transform="rotate(-90 105.4 180.5)">STONE WAY NORTH</text>
<text x="222.3" y="407.2" textLength="143.0" lengthAdjust="spacing" transform="rotate(-90 222.3 403.5)">INTERLAKE AVENUE NORTH</text>
<text x="225.0" y="184.2" textLength="143.0" lengthAdjust="spacing" transform="rotate(-90 225.0 180.5)">INTERLAKE AVENUE NORTH</text>
<text x="334.2" y="186.2" textLength="145.0" lengthAdjust="spacing" transform="rotate(-90 334.2 182.5)">ASHWORTH AVENUE NORTH</text>
<text x="331.6" y="407.2" textLength="151.0" lengthAdjust="spacing" transform="rotate(-90 331.6 403.5)">ASHWORTH AVENUE NORTH</text>
<text x="415.0" y="184.8" textLength="108.0" lengthAdjust="spacing" transform="rotate(-90 415.0 181.0)">CARR PLACE NORTH</text>
<text x="413.0" y="407.2" textLength="106.0" lengthAdjust="spacing" transform="rotate(-90 413.0 403.5)">CARR PLACE NORTH</text>
<text x="474.2" y="184.2" textLength="159.0" lengthAdjust="spacing" transform="rotate(-90 474.2 180.5)">WOODLAWN AVENUE NORTH</text>
<text x="471.6" y="441.8" textLength="159.0" lengthAdjust="spacing" transform="rotate(-90 471.6 438.0)">WOODLAWN AVENUE NORTH</text>
<text x="587.0" y="184.8" textLength="148.0" lengthAdjust="spacing" transform="rotate(-90 587.0 181.0)">DENSMORE AVENUE NORTH</text>
<text x="585.3" y="442.2" textLength="148.0" lengthAdjust="spacing" transform="rotate(-90 585.3 438.5)">DENSMORE AVENUE NORTH</text>
<text x="697.0" y="203.8" textLength="164.0" lengthAdjust="spacing" transform="rotate(-90 697.0 200.0)">WALLINGFORD AVENUE NORTH</text>
<text x="695.0" y="407.8" textLength="164.0" lengthAdjust="spacing" transform="rotate(-90 695.0 404.0)">WALLINGFORD AVENUE NORTH</text>
<text x="808.0" y="184.8" textLength="122.0" lengthAdjust="spacing" transform="rotate(-90 808.0 181.0)">BURKE AVENUE NORTH</text>
<text x="806.0" y="414.8" textLength="122.0" lengthAdjust="spacing" transform="rotate(-90 806.0 411.0)">BURKE AVENUE NORTH</text>
<text x="922.3" y="216.2" textLength="139.0" lengthAdjust="spacing" transform="rotate(-90 922.3 212.5)">MERIDIAN AVENUE NORTH</text>
<text x="920.8" y="407.8" textLength="142.0" lengthAdjust="spacing" transform="rotate(-90 920.8 404.0)">MERIDIAN AVENUE NORTH</text>
<text x="1146.0" y="217.8" textLength="132.0" lengthAdjust="spacing" transform="rotate(90 1146.0 214.0)">CORLISS AVENUE NORTH</text>
<text x="1183" y="258.5" transform="rotate(-51 1183 255)" letter-spacing="0.6">NORTH</text>
<text x="130" y="474.5" transform="rotate(14.5 130 471)" text-anchor="start" letter-spacing="0.5">NORTH 34TH</text>
</g>
<g font-family="Liberation Sans, sans-serif" font-style="italic" font-size="12.8" fill="#86a58e" stroke="rgba(255,255,255,0.8)" stroke-width="2" paint-order="stroke" style="paint-order:stroke" text-anchor="start">
<text x="82" y="445" textLength="136" lengthAdjust="spacing">All Together Skatepark</text>
<text x="1048" y="429" textLength="65" lengthAdjust="spacing">OmCulture</text>
<text x="1040" y="441" textLength="58" lengthAdjust="spacing">OmCulture</text>
<text x="1143" y="399" textLength="65" lengthAdjust="spacing">Puget Sound</text>
<text x="1151" y="414" textLength="65" lengthAdjust="spacing">Puget Sound</text>
<text x="1116" y="470.5" textLength="71" lengthAdjust="spacing">Waterway 18</text>
<text x="1094" y="484" textLength="106" lengthAdjust="spacing">Waterway 18 Park</text>
<circle cx="1037.5" cy="437" r="2.8" fill="none" stroke="#8aa591" stroke-width="1"/>
</g>
</svg>
<div id="legend">
<div class="t" style="top:26px">ADUs</div>
<div class="dot" style="top:52px;background:#f5650b;border:1px solid #ec5c05"></div>
<div class="l" style="top:52.5px;left:24px;white-space:normal;width:200px"><span style="display:inline-block;width:14px"></span>ACCESSORY DWELLING UNITS<br>(ADUS OR DADUS) CONSTRUCTED<br>SINCE 2006</div>
<div class="t" style="top:87.5px">Duplex, Triplex, 4-Plex, Townho...</div>
<div class="dot" style="top:114.2px;background:#2f9b15;border:1px solid #2b9213"></div><div class="l" style="top:114.5px">DUPLEX IN SF ZONE</div>
<div class="dot" style="top:131px;background:#609fd0;border:1px solid #4f8bbb"></div><div class="l" style="top:132.2px">TOWNHOUSE PLAT IN SF ZONE</div>
<div class="dot" style="top:148.2px;background:#14367b;border:1px solid #102e6c"></div><div class="l" style="top:148.5px">TRIPLEX IN SF ZONE</div>
<div class="dot" style="top:165.2px;background:#ffc90a;border:1px solid #e6ae00"></div><div class="l" style="top:165.5px">QUAD OR MORE UNITS IN SF ZONE</div>
</div>
</body></html>
